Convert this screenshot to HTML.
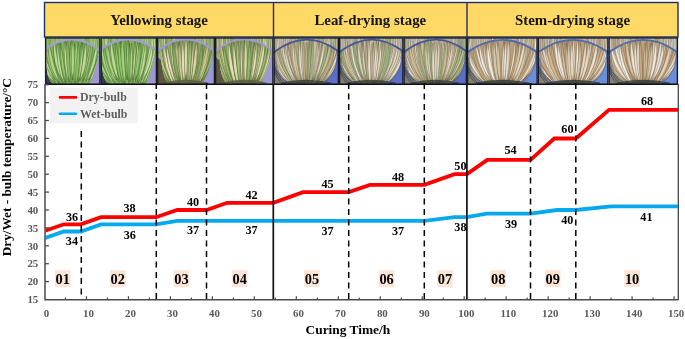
<!DOCTYPE html>
<html><head><meta charset="utf-8"><style>
html,body{margin:0;padding:0;background:#fff;width:685px;height:339px;overflow:hidden;font-family:"Liberation Serif",serif;}
svg{display:block;will-change:transform}
</style></head><body>
<svg width="685" height="339" viewBox="0 0 685 339"><defs><clipPath id="c0"><rect x="45" y="37.5" width="55.5" height="47.0"/></clipPath><clipPath id="b0"><path d="M46.1,48.8 Q72.8,29.5 98.8,49.7 Q96.1,70.4 89.4,84.5 L54.4,84.5 Q45.0,82.2 46.1,48.8 Z"/></clipPath><clipPath id="c1"><rect x="100.5" y="37.5" width="56.5" height="47.0"/></clipPath><clipPath id="b1"><path d="M101.6,48.8 Q128.8,29.5 155.3,49.7 Q152.5,70.4 145.7,84.5 L110.1,84.5 Q100.5,82.2 101.6,48.8 Z"/></clipPath><clipPath id="c2"><rect x="157" y="37.5" width="58" height="47.0"/></clipPath><clipPath id="b2"><path d="M160.5,48.8 Q186.0,29.0 213.3,50.2 Q210.9,68.0 202.2,84.5 L168.6,84.5 Q161.6,77.4 160.5,48.8 Z"/></clipPath><clipPath id="c3"><rect x="215" y="37.5" width="58.5" height="47.0"/></clipPath><clipPath id="b3"><path d="M218.5,48.8 Q244.2,29.0 271.7,50.2 Q269.4,68.0 260.6,84.5 L226.7,84.5 Q219.7,77.4 218.5,48.8 Z"/></clipPath><clipPath id="c4"><rect x="273.5" y="37.5" width="65.5" height="47.0"/></clipPath><clipPath id="b4"><path d="M275.5,51.1 Q306.2,28.6 337.0,50.2 Q339.0,74.2 320.7,84.5 L290.5,84.5 Q274.8,77.4 275.5,51.1 Z"/></clipPath><clipPath id="c5"><rect x="339" y="37.5" width="64.5" height="47.0"/></clipPath><clipPath id="b5"><path d="M340.9,51.1 Q371.2,28.6 401.6,50.2 Q403.5,74.2 385.4,84.5 L355.8,84.5 Q340.3,77.4 340.9,51.1 Z"/></clipPath><clipPath id="c6"><rect x="403.5" y="37.5" width="63.5" height="47.0"/></clipPath><clipPath id="b6"><path d="M405.4,51.1 Q435.2,28.6 465.1,50.2 Q467.0,74.2 449.2,84.5 L420.0,84.5 Q404.8,77.4 405.4,51.1 Z"/></clipPath><clipPath id="c7"><rect x="467" y="37.5" width="70.70000000000005" height="47.0"/></clipPath><clipPath id="b7"><path d="M469.1,51.1 Q502.4,28.6 535.6,51.1 Q537.7,74.2 517.9,84.5 L485.4,84.5 Q468.4,77.4 469.1,51.1 Z"/></clipPath><clipPath id="c8"><rect x="537.7" y="37.5" width="70.79999999999995" height="47.0"/></clipPath><clipPath id="b8"><path d="M539.8,51.1 Q573.1,28.6 606.4,51.1 Q608.5,74.2 588.7,84.5 L556.1,84.5 Q539.1,77.4 539.8,51.1 Z"/></clipPath><clipPath id="c9"><rect x="608.5" y="37.5" width="69.5" height="47.0"/></clipPath><clipPath id="b9"><path d="M610.6,51.1 Q643.2,28.6 675.9,51.1 Q678.0,74.2 658.5,84.5 L626.6,84.5 Q609.9,77.4 610.6,51.1 Z"/></clipPath><clipPath id="plot"><rect x="45.5" y="84" width="632.5" height="216"/></clipPath></defs><rect width="685" height="339" fill="#fff"/><rect x="44.5" y="2.5" width="633.5" height="34.5" fill="#FFD966" stroke="#1F3060" stroke-width="1.4"/>
<line x1="273.5" y1="2.5" x2="273.5" y2="37" stroke="#1F3060" stroke-width="1.4"/>
<line x1="467" y1="2.5" x2="467" y2="37" stroke="#1F3060" stroke-width="1.4"/>
<text x="159" y="24.7" font-family="Liberation Serif" font-weight="bold" font-size="14.85" text-anchor="middle" fill="#141414">Yellowing stage</text>
<text x="370.3" y="24.7" font-family="Liberation Serif" font-weight="bold" font-size="14.85" text-anchor="middle" fill="#141414">Leaf-drying stage</text>
<text x="572.5" y="24.7" font-family="Liberation Serif" font-weight="bold" font-size="14.85" text-anchor="middle" fill="#141414">Stem-drying stage</text>
<g clip-path="url(#c0)">
<rect x="45" y="37.5" width="55.5" height="47.0" fill="#A4C67E"/>
<path d="M45.7,33.5 Q43.1,45.7 44.3,53.5 Q47.1,46.0 45.7,33.5 Z" fill="#BCDC94" stroke="#2E5A1E" stroke-width="0.5" stroke-opacity="0.55"/>
<path d="M47.4,33.5 Q45.7,45.9 47.7,53.5 Q50.3,45.9 47.4,33.5 Z" fill="#98C670" stroke="#2E5A1E" stroke-width="0.5" stroke-opacity="0.55"/>
<path d="M50.4,33.5 Q49.3,45.8 48.6,53.5 Q51.9,46.1 50.4,33.5 Z" fill="#90BE66" stroke="#2E5A1E" stroke-width="0.5" stroke-opacity="0.55"/>
<path d="M52.8,33.5 Q51.1,46.1 54.6,53.5 Q55.0,45.7 52.8,33.5 Z" fill="#A8D080" stroke="#2E5A1E" stroke-width="0.5" stroke-opacity="0.55"/>
<path d="M54.7,33.5 Q54.0,46.0 56.6,53.5 Q56.5,45.8 54.7,33.5 Z" fill="#C6E09E" stroke="#2E5A1E" stroke-width="0.5" stroke-opacity="0.55"/>
<path d="M56.3,33.5 Q55.0,45.8 54.8,53.5 Q58.1,46.1 56.3,33.5 Z" fill="#C6E09E" stroke="#2E5A1E" stroke-width="0.5" stroke-opacity="0.55"/>
<path d="M59.5,33.5 Q57.9,45.8 58.2,53.5 Q60.5,46.0 59.5,33.5 Z" fill="#BCDC94" stroke="#2E5A1E" stroke-width="0.5" stroke-opacity="0.55"/>
<path d="M61.8,33.5 Q60.0,45.9 61.7,53.5 Q63.6,45.9 61.8,33.5 Z" fill="#CEE0A4" stroke="#2E5A1E" stroke-width="0.5" stroke-opacity="0.55"/>
<path d="M64.6,33.5 Q62.8,45.9 64.1,53.5 Q65.8,45.9 64.6,33.5 Z" fill="#C6E09E" stroke="#2E5A1E" stroke-width="0.5" stroke-opacity="0.55"/>
<path d="M65.3,33.5 Q63.3,45.9 65.6,53.5 Q66.9,45.9 65.3,33.5 Z" fill="#CEE0A4" stroke="#2E5A1E" stroke-width="0.5" stroke-opacity="0.55"/>
<path d="M67.6,33.5 Q67.0,46.0 69.6,53.5 Q69.7,45.7 67.6,33.5 Z" fill="#90BE66" stroke="#2E5A1E" stroke-width="0.5" stroke-opacity="0.55"/>
<path d="M70.0,33.5 Q68.2,46.1 71.7,53.5 Q71.6,45.8 70.0,33.5 Z" fill="#BCDC94" stroke="#2E5A1E" stroke-width="0.5" stroke-opacity="0.55"/>
<path d="M72.7,33.5 Q71.2,46.0 74.2,53.5 Q74.3,45.8 72.7,33.5 Z" fill="#CEE0A4" stroke="#2E5A1E" stroke-width="0.5" stroke-opacity="0.55"/>
<path d="M74.9,33.5 Q72.7,45.9 74.7,53.5 Q77.1,45.9 74.9,33.5 Z" fill="#B2D488" stroke="#2E5A1E" stroke-width="0.5" stroke-opacity="0.55"/>
<path d="M77.3,33.5 Q75.2,45.7 75.5,53.5 Q79.3,46.1 77.3,33.5 Z" fill="#C4DA98" stroke="#2E5A1E" stroke-width="0.5" stroke-opacity="0.55"/>
<path d="M78.8,33.5 Q77.9,45.9 79.5,53.5 Q80.3,45.9 78.8,33.5 Z" fill="#C4DA98" stroke="#2E5A1E" stroke-width="0.5" stroke-opacity="0.55"/>
<path d="M81.5,33.5 Q80.5,45.9 81.5,53.5 Q83.4,45.9 81.5,33.5 Z" fill="#B2D488" stroke="#2E5A1E" stroke-width="0.5" stroke-opacity="0.55"/>
<path d="M82.9,33.5 Q81.0,45.9 82.5,53.5 Q85.5,46.0 82.9,33.5 Z" fill="#BCDC94" stroke="#2E5A1E" stroke-width="0.5" stroke-opacity="0.55"/>
<path d="M85.5,33.5 Q83.6,45.8 84.6,53.5 Q86.3,45.9 85.5,33.5 Z" fill="#90BE66" stroke="#2E5A1E" stroke-width="0.5" stroke-opacity="0.55"/>
<path d="M87.4,33.5 Q85.2,45.9 87.1,53.5 Q88.4,45.9 87.4,33.5 Z" fill="#90BE66" stroke="#2E5A1E" stroke-width="0.5" stroke-opacity="0.55"/>
<path d="M89.3,33.5 Q88.2,45.8 88.0,53.5 Q91.2,46.0 89.3,33.5 Z" fill="#98C670" stroke="#2E5A1E" stroke-width="0.5" stroke-opacity="0.55"/>
<path d="M93.0,33.5 Q91.4,45.8 91.8,53.5 Q94.5,46.0 93.0,33.5 Z" fill="#C6E09E" stroke="#2E5A1E" stroke-width="0.5" stroke-opacity="0.55"/>
<path d="M94.2,33.5 Q92.0,45.9 94.5,53.5 Q96.6,45.9 94.2,33.5 Z" fill="#A8D080" stroke="#2E5A1E" stroke-width="0.5" stroke-opacity="0.55"/>
<path d="M97.5,33.5 Q95.9,46.1 99.3,53.5 Q99.9,45.7 97.5,33.5 Z" fill="#90BE66" stroke="#2E5A1E" stroke-width="0.5" stroke-opacity="0.55"/>
<path d="M98.7,33.5 Q97.5,45.9 98.6,53.5 Q100.9,45.9 98.7,33.5 Z" fill="#98C670" stroke="#2E5A1E" stroke-width="0.5" stroke-opacity="0.55"/>
<path d="M45.0,56.3 L72.8,84.5 L45.0,84.5 Z" fill="#343A4C"/>
<path d="M100.5,51.6 L100.5,84.5 L72.8,84.5 Z" fill="#9E98D0"/>
<path d="M46.1,48.8 Q72.8,29.5 98.8,49.7 Q96.1,70.4 89.4,84.5 L54.4,84.5 Q45.0,82.2 46.1,48.8 Z" fill="#84AE5A"/>
<g clip-path="url(#b0)">
<path d="M32.0,36.8 Q32.7,65.9 51.4,82.2 Q36.9,64.1 32.0,36.8 Z" fill="#A8D080" stroke="#2E5A1E" stroke-width="0.5" stroke-opacity="0.75"/>
<path d="M37.2,43.1 Q37.6,69.7 54.9,84.4 Q41.9,67.9 37.2,43.1 Z" fill="#98C670" stroke="#2E5A1E" stroke-width="0.5" stroke-opacity="0.75"/>
<path d="M39.6,37.5 Q39.9,66.0 55.4,82.3 Q45.0,64.2 39.6,37.5 Z" fill="#BCDC94" stroke="#2E5A1E" stroke-width="0.5" stroke-opacity="0.75"/>
<path d="M45.0,43.3 Q44.9,68.8 58.5,83.3 Q49.9,67.1 45.0,43.3 Z" fill="#C6E09E" stroke="#2E5A1E" stroke-width="0.5" stroke-opacity="0.75"/>
<path d="M48.3,37.6 Q48.2,68.2 61.0,86.1 Q52.9,67.0 48.3,37.6 Z" fill="#A8D080" stroke="#2E5A1E" stroke-width="0.5" stroke-opacity="0.75"/>
<path d="M54.7,38.4 Q52.1,68.1 63.8,85.0 Q58.9,66.7 54.7,38.4 Z" fill="#B2D488" stroke="#2E5A1E" stroke-width="0.5" stroke-opacity="0.75"/>
<path d="M58.3,41.1 Q56.8,66.6 65.1,81.6 Q62.2,65.7 58.3,41.1 Z" fill="#C6E09E" stroke="#2E5A1E" stroke-width="0.5" stroke-opacity="0.75"/>
<path d="M59.8,39.8 Q57.3,67.4 66.1,83.5 Q63.4,66.5 59.8,39.8 Z" fill="#98C670" stroke="#2E5A1E" stroke-width="0.5" stroke-opacity="0.75"/>
<path d="M66.1,41.4 Q63.4,66.4 69.2,81.3 Q69.2,65.9 66.1,41.4 Z" fill="#CEE0A4" stroke="#2E5A1E" stroke-width="0.5" stroke-opacity="0.75"/>
<path d="M70.7,41.8 Q68.5,67.6 71.7,83.3 Q73.4,67.5 70.7,41.8 Z" fill="#CEE0A4" stroke="#2E5A1E" stroke-width="0.5" stroke-opacity="0.75"/>
<path d="M74.5,43.4 Q72.1,70.5 73.6,87.1 Q77.5,70.6 74.5,43.4 Z" fill="#98C670" stroke="#2E5A1E" stroke-width="0.5" stroke-opacity="0.75"/>
<path d="M76.6,38.2 Q72.8,66.1 74.7,83.4 Q79.9,66.4 76.6,38.2 Z" fill="#A8D080" stroke="#2E5A1E" stroke-width="0.5" stroke-opacity="0.75"/>
<path d="M81.3,41.9 Q77.3,65.3 77.5,80.2 Q83.5,65.9 81.3,41.9 Z" fill="#90BE66" stroke="#2E5A1E" stroke-width="0.5" stroke-opacity="0.75"/>
<path d="M85.6,39.3 Q82.0,64.7 79.7,80.9 Q88.5,65.7 85.6,39.3 Z" fill="#CEE0A4" stroke="#2E5A1E" stroke-width="0.5" stroke-opacity="0.75"/>
<path d="M90.4,41.3 Q85.7,66.6 81.8,83.2 Q92.0,67.9 90.4,41.3 Z" fill="#BCDC94" stroke="#2E5A1E" stroke-width="0.5" stroke-opacity="0.75"/>
<path d="M91.3,36.5 Q86.4,63.2 82.7,80.7 Q93.3,64.5 91.3,36.5 Z" fill="#C6E09E" stroke="#2E5A1E" stroke-width="0.5" stroke-opacity="0.75"/>
<path d="M96.9,39.3 Q93.2,68.4 84.2,87.0 Q97.9,69.6 96.9,39.3 Z" fill="#C6E09E" stroke="#2E5A1E" stroke-width="0.5" stroke-opacity="0.75"/>
<path d="M101.7,41.3 Q96.7,64.5 88.6,80.3 Q102.9,66.6 101.7,41.3 Z" fill="#C6E09E" stroke="#2E5A1E" stroke-width="0.5" stroke-opacity="0.75"/>
<path d="M105.9,42.1 Q101.3,65.4 90.6,81.2 Q106.0,67.3 105.9,42.1 Z" fill="#B2D488" stroke="#2E5A1E" stroke-width="0.5" stroke-opacity="0.75"/>
<path d="M109.5,38.1 Q103.2,65.1 91.4,83.9 Q109.4,67.5 109.5,38.1 Z" fill="#A8D080" stroke="#2E5A1E" stroke-width="0.5" stroke-opacity="0.75"/>
<path d="M111.8,39.2 Q105.4,65.5 92.4,84.2 Q111.7,68.3 111.8,39.2 Z" fill="#90BE66" stroke="#2E5A1E" stroke-width="0.5" stroke-opacity="0.75"/>
<path d="M33.9,36.5 Q33.6,65.1 51.8,80.7 Q39.0,63.0 33.9,36.5 Z" fill="#C4DA98" stroke="#2E5A1E" stroke-width="0.5" stroke-opacity="0.75"/>
<path d="M36.3,41.7 Q36.5,66.8 52.9,80.7 Q40.9,65.0 36.3,41.7 Z" fill="#BCDC94" stroke="#2E5A1E" stroke-width="0.5" stroke-opacity="0.75"/>
<path d="M38.6,39.6 Q37.6,68.4 55.4,83.9 Q43.8,66.1 38.6,39.6 Z" fill="#BCDC94" stroke="#2E5A1E" stroke-width="0.5" stroke-opacity="0.75"/>
<path d="M40.9,37.0 Q40.8,64.3 55.3,79.8 Q45.2,62.9 40.9,37.0 Z" fill="#C4DA98" stroke="#2E5A1E" stroke-width="0.5" stroke-opacity="0.75"/>
<path d="M46.4,42.8 Q45.1,68.7 59.1,83.0 Q51.0,66.9 46.4,42.8 Z" fill="#98C670" stroke="#2E5A1E" stroke-width="0.5" stroke-opacity="0.75"/>
<path d="M48.6,39.8 Q46.5,67.8 60.3,83.3 Q53.3,66.0 48.6,39.8 Z" fill="#B2D488" stroke="#2E5A1E" stroke-width="0.5" stroke-opacity="0.75"/>
<path d="M53.2,37.1 Q52.0,66.2 62.7,83.1 Q57.4,65.0 53.2,37.1 Z" fill="#90BE66" stroke="#2E5A1E" stroke-width="0.5" stroke-opacity="0.75"/>
<path d="M53.8,37.4 Q51.5,64.6 62.4,80.1 Q57.7,63.3 53.8,37.4 Z" fill="#BCDC94" stroke="#2E5A1E" stroke-width="0.5" stroke-opacity="0.75"/>
<path d="M57.2,41.2 Q55.5,68.8 65.0,84.8 Q60.2,67.9 57.2,41.2 Z" fill="#C6E09E" stroke="#2E5A1E" stroke-width="0.5" stroke-opacity="0.75"/>
<path d="M60.6,43.1 Q59.1,68.0 66.4,82.7 Q64.8,67.2 60.6,43.1 Z" fill="#98C670" stroke="#2E5A1E" stroke-width="0.5" stroke-opacity="0.75"/>
<path d="M64.5,39.6 Q63.1,66.2 68.4,82.2 Q68.1,65.8 64.5,39.6 Z" fill="#CEE0A4" stroke="#2E5A1E" stroke-width="0.5" stroke-opacity="0.75"/>
<path d="M67.5,38.2 Q64.9,66.3 70.1,83.2 Q71.3,65.9 67.5,38.2 Z" fill="#90BE66" stroke="#2E5A1E" stroke-width="0.5" stroke-opacity="0.75"/>
<path d="M71.5,39.6 Q67.5,64.7 72.1,80.0 Q74.6,64.6 71.5,39.6 Z" fill="#98C670" stroke="#2E5A1E" stroke-width="0.5" stroke-opacity="0.75"/>
<path d="M73.1,37.6 Q69.5,63.8 72.9,79.8 Q76.0,63.8 73.1,37.6 Z" fill="#B2D488" stroke="#2E5A1E" stroke-width="0.5" stroke-opacity="0.75"/>
<path d="M78.6,42.3 Q75.0,68.5 75.6,84.9 Q82.1,69.0 78.6,42.3 Z" fill="#90BE66" stroke="#2E5A1E" stroke-width="0.5" stroke-opacity="0.75"/>
<path d="M82.1,40.1 Q78.7,67.7 77.4,85.1 Q83.3,68.2 82.1,40.1 Z" fill="#A8D080" stroke="#2E5A1E" stroke-width="0.5" stroke-opacity="0.75"/>
<path d="M82.9,42.7 Q79.7,66.5 78.2,81.7 Q84.1,67.1 82.9,42.7 Z" fill="#BCDC94" stroke="#2E5A1E" stroke-width="0.5" stroke-opacity="0.75"/>
<path d="M85.8,42.3 Q82.2,65.3 80.0,80.0 Q88.9,66.3 85.8,42.3 Z" fill="#C4DA98" stroke="#2E5A1E" stroke-width="0.5" stroke-opacity="0.75"/>
<path d="M91.9,38.8 Q87.4,68.0 81.9,86.8 Q93.4,69.2 91.9,38.8 Z" fill="#A8D080" stroke="#2E5A1E" stroke-width="0.5" stroke-opacity="0.75"/>
<path d="M92.7,36.4 Q88.6,63.3 83.5,80.8 Q93.1,64.3 92.7,36.4 Z" fill="#98C670" stroke="#2E5A1E" stroke-width="0.5" stroke-opacity="0.75"/>
<path d="M97.2,39.7 Q93.0,64.7 85.9,81.1 Q98.5,66.2 97.2,39.7 Z" fill="#C6E09E" stroke="#2E5A1E" stroke-width="0.5" stroke-opacity="0.75"/>
<path d="M100.9,43.5 Q96.9,65.3 88.5,79.8 Q101.2,66.7 100.9,43.5 Z" fill="#98C670" stroke="#2E5A1E" stroke-width="0.5" stroke-opacity="0.75"/>
<path d="M102.4,39.1 Q97.1,66.4 87.5,84.8 Q103.0,68.4 102.4,39.1 Z" fill="#C4DA98" stroke="#2E5A1E" stroke-width="0.5" stroke-opacity="0.75"/>
<path d="M107.6,43.3 Q103.0,66.4 91.3,82.0 Q107.6,68.3 107.6,43.3 Z" fill="#98C670" stroke="#2E5A1E" stroke-width="0.5" stroke-opacity="0.75"/>
<path d="M110.6,41.2 Q104.7,66.7 91.7,84.6 Q109.8,69.0 110.6,41.2 Z" fill="#CEE0A4" stroke="#2E5A1E" stroke-width="0.5" stroke-opacity="0.75"/>
<path d="M113.9,35.6 Q108.0,64.8 93.3,84.5 Q114.3,67.4 113.9,35.6 Z" fill="#90BE66" stroke="#2E5A1E" stroke-width="0.5" stroke-opacity="0.75"/>
</g>
<path d="M43.9,51.6 L46.1,48.8 Q72.8,29.5 98.8,49.7 L101.6,52.5" fill="none" stroke="#A49CD4" stroke-width="2.0"/>
</g>
<rect x="45.6" y="37.9" width="54.3" height="46.2" fill="none" stroke="#171B2A" stroke-width="1.4"/>
<g clip-path="url(#c1)">
<rect x="100.5" y="37.5" width="56.5" height="47.0" fill="#A4C67E"/>
<path d="M100.7,33.5 Q98.5,46.1 102.1,53.5 Q103.0,45.8 100.7,33.5 Z" fill="#B2D488" stroke="#2E5A1E" stroke-width="0.5" stroke-opacity="0.55"/>
<path d="M104.2,33.5 Q102.6,45.8 102.4,53.5 Q105.4,46.0 104.2,33.5 Z" fill="#B2D488" stroke="#2E5A1E" stroke-width="0.5" stroke-opacity="0.55"/>
<path d="M105.5,33.5 Q103.7,46.1 107.3,53.5 Q108.4,45.7 105.5,33.5 Z" fill="#CEE0A4" stroke="#2E5A1E" stroke-width="0.5" stroke-opacity="0.55"/>
<path d="M109.2,33.5 Q107.7,45.8 108.5,53.5 Q110.9,46.0 109.2,33.5 Z" fill="#A8D080" stroke="#2E5A1E" stroke-width="0.5" stroke-opacity="0.55"/>
<path d="M109.5,33.5 Q107.4,45.8 108.6,53.5 Q111.3,46.0 109.5,33.5 Z" fill="#98C670" stroke="#2E5A1E" stroke-width="0.5" stroke-opacity="0.55"/>
<path d="M111.5,33.5 Q110.0,45.8 110.6,53.5 Q112.6,46.0 111.5,33.5 Z" fill="#90BE66" stroke="#2E5A1E" stroke-width="0.5" stroke-opacity="0.55"/>
<path d="M114.6,33.5 Q112.4,45.8 113.8,53.5 Q116.3,46.0 114.6,33.5 Z" fill="#BCDC94" stroke="#2E5A1E" stroke-width="0.5" stroke-opacity="0.55"/>
<path d="M117.1,33.5 Q114.9,46.0 118.1,53.5 Q118.9,45.8 117.1,33.5 Z" fill="#90BE66" stroke="#2E5A1E" stroke-width="0.5" stroke-opacity="0.55"/>
<path d="M119.7,33.5 Q118.7,45.9 119.7,53.5 Q121.8,45.9 119.7,33.5 Z" fill="#C6E09E" stroke="#2E5A1E" stroke-width="0.5" stroke-opacity="0.55"/>
<path d="M122.1,33.5 Q119.9,46.1 123.7,53.5 Q123.8,45.8 122.1,33.5 Z" fill="#C6E09E" stroke="#2E5A1E" stroke-width="0.5" stroke-opacity="0.55"/>
<path d="M124.2,33.5 Q121.6,45.9 124.4,53.5 Q126.0,45.9 124.2,33.5 Z" fill="#A8D080" stroke="#2E5A1E" stroke-width="0.5" stroke-opacity="0.55"/>
<path d="M126.0,33.5 Q124.7,46.0 127.6,53.5 Q128.7,45.7 126.0,33.5 Z" fill="#98C670" stroke="#2E5A1E" stroke-width="0.5" stroke-opacity="0.55"/>
<path d="M127.0,33.5 Q124.3,46.0 127.5,53.5 Q129.0,45.8 127.0,33.5 Z" fill="#90BE66" stroke="#2E5A1E" stroke-width="0.5" stroke-opacity="0.55"/>
<path d="M130.3,33.5 Q128.5,45.9 130.8,53.5 Q132.4,45.8 130.3,33.5 Z" fill="#98C670" stroke="#2E5A1E" stroke-width="0.5" stroke-opacity="0.55"/>
<path d="M131.3,33.5 Q129.2,46.0 132.5,53.5 Q133.4,45.8 131.3,33.5 Z" fill="#BCDC94" stroke="#2E5A1E" stroke-width="0.5" stroke-opacity="0.55"/>
<path d="M133.6,33.5 Q131.9,46.0 134.6,53.5 Q134.9,45.8 133.6,33.5 Z" fill="#BCDC94" stroke="#2E5A1E" stroke-width="0.5" stroke-opacity="0.55"/>
<path d="M136.2,33.5 Q134.9,46.0 137.2,53.5 Q137.9,45.8 136.2,33.5 Z" fill="#C4DA98" stroke="#2E5A1E" stroke-width="0.5" stroke-opacity="0.55"/>
<path d="M138.7,33.5 Q136.6,45.9 138.7,53.5 Q140.6,45.9 138.7,33.5 Z" fill="#A8D080" stroke="#2E5A1E" stroke-width="0.5" stroke-opacity="0.55"/>
<path d="M141.5,33.5 Q139.7,45.8 139.8,53.5 Q142.5,46.0 141.5,33.5 Z" fill="#B2D488" stroke="#2E5A1E" stroke-width="0.5" stroke-opacity="0.55"/>
<path d="M143.8,33.5 Q143.1,45.9 144.3,53.5 Q145.8,45.9 143.8,33.5 Z" fill="#C4DA98" stroke="#2E5A1E" stroke-width="0.5" stroke-opacity="0.55"/>
<path d="M145.1,33.5 Q143.4,46.0 145.8,53.5 Q147.5,45.8 145.1,33.5 Z" fill="#C4DA98" stroke="#2E5A1E" stroke-width="0.5" stroke-opacity="0.55"/>
<path d="M147.8,33.5 Q145.5,45.9 147.7,53.5 Q149.0,45.9 147.8,33.5 Z" fill="#BCDC94" stroke="#2E5A1E" stroke-width="0.5" stroke-opacity="0.55"/>
<path d="M150.1,33.5 Q149.3,45.9 149.4,53.5 Q151.9,46.0 150.1,33.5 Z" fill="#C4DA98" stroke="#2E5A1E" stroke-width="0.5" stroke-opacity="0.55"/>
<path d="M152.1,33.5 Q149.4,46.1 153.4,53.5 Q154.1,45.8 152.1,33.5 Z" fill="#C4DA98" stroke="#2E5A1E" stroke-width="0.5" stroke-opacity="0.55"/>
<path d="M154.2,33.5 Q152.0,46.1 155.8,53.5 Q156.6,45.7 154.2,33.5 Z" fill="#BCDC94" stroke="#2E5A1E" stroke-width="0.5" stroke-opacity="0.55"/>
<path d="M100.5,56.3 L128.8,84.5 L100.5,84.5 Z" fill="#343A4C"/>
<path d="M157.0,51.6 L157.0,84.5 L128.8,84.5 Z" fill="#9E98D0"/>
<path d="M101.6,48.8 Q128.8,29.5 155.3,49.7 Q152.5,70.4 145.7,84.5 L110.1,84.5 Q100.5,82.2 101.6,48.8 Z" fill="#84AE5A"/>
<g clip-path="url(#b1)">
<path d="M86.9,39.7 Q87.7,70.3 109.1,87.1 Q92.0,68.3 86.9,39.7 Z" fill="#B2D488" stroke="#2E5A1E" stroke-width="0.5" stroke-opacity="0.75"/>
<path d="M92.9,37.4 Q93.4,68.8 111.7,86.7 Q98.8,66.8 92.9,37.4 Z" fill="#A8D080" stroke="#2E5A1E" stroke-width="0.5" stroke-opacity="0.75"/>
<path d="M97.7,41.0 Q97.1,67.9 112.6,82.7 Q103.2,65.7 97.7,41.0 Z" fill="#90BE66" stroke="#2E5A1E" stroke-width="0.5" stroke-opacity="0.75"/>
<path d="M99.1,42.2 Q98.5,66.3 112.2,79.5 Q104.6,64.1 99.1,42.2 Z" fill="#90BE66" stroke="#2E5A1E" stroke-width="0.5" stroke-opacity="0.75"/>
<path d="M105.4,41.2 Q105.2,70.0 117.6,86.7 Q110.2,68.6 105.4,41.2 Z" fill="#CEE0A4" stroke="#2E5A1E" stroke-width="0.5" stroke-opacity="0.75"/>
<path d="M107.1,42.5 Q104.8,66.8 116.8,80.1 Q111.6,65.0 107.1,42.5 Z" fill="#B2D488" stroke="#2E5A1E" stroke-width="0.5" stroke-opacity="0.75"/>
<path d="M110.6,35.9 Q109.2,66.7 119.7,84.8 Q115.3,65.6 110.6,35.9 Z" fill="#C6E09E" stroke="#2E5A1E" stroke-width="0.5" stroke-opacity="0.75"/>
<path d="M114.4,39.6 Q112.2,65.8 121.0,81.0 Q117.6,64.9 114.4,39.6 Z" fill="#90BE66" stroke="#2E5A1E" stroke-width="0.5" stroke-opacity="0.75"/>
<path d="M120.3,40.5 Q117.2,69.6 124.8,86.8 Q124.2,68.9 120.3,40.5 Z" fill="#98C670" stroke="#2E5A1E" stroke-width="0.5" stroke-opacity="0.75"/>
<path d="M121.2,41.4 Q118.6,67.5 124.9,83.1 Q125.0,67.0 121.2,41.4 Z" fill="#B2D488" stroke="#2E5A1E" stroke-width="0.5" stroke-opacity="0.75"/>
<path d="M128.4,39.9 Q125.9,65.3 128.6,80.9 Q131.5,65.3 128.4,39.9 Z" fill="#B2D488" stroke="#2E5A1E" stroke-width="0.5" stroke-opacity="0.75"/>
<path d="M131.6,43.3 Q128.3,66.9 130.3,81.6 Q134.5,67.1 131.6,43.3 Z" fill="#B2D488" stroke="#2E5A1E" stroke-width="0.5" stroke-opacity="0.75"/>
<path d="M135.2,36.5 Q132.3,66.2 132.0,84.6 Q136.9,66.5 135.2,36.5 Z" fill="#C4DA98" stroke="#2E5A1E" stroke-width="0.5" stroke-opacity="0.75"/>
<path d="M138.2,38.2 Q135.0,67.3 133.4,85.6 Q140.6,67.9 138.2,38.2 Z" fill="#98C670" stroke="#2E5A1E" stroke-width="0.5" stroke-opacity="0.75"/>
<path d="M141.0,39.9 Q137.0,65.6 135.2,82.1 Q142.3,66.4 141.0,39.9 Z" fill="#98C670" stroke="#2E5A1E" stroke-width="0.5" stroke-opacity="0.75"/>
<path d="M147.0,38.8 Q143.1,65.6 138.2,82.8 Q148.9,66.7 147.0,38.8 Z" fill="#90BE66" stroke="#2E5A1E" stroke-width="0.5" stroke-opacity="0.75"/>
<path d="M150.9,39.5 Q147.1,66.6 139.9,84.1 Q152.4,67.9 150.9,39.5 Z" fill="#98C670" stroke="#2E5A1E" stroke-width="0.5" stroke-opacity="0.75"/>
<path d="M155.3,38.6 Q150.2,66.3 142.0,84.7 Q155.6,67.8 155.3,38.6 Z" fill="#B2D488" stroke="#2E5A1E" stroke-width="0.5" stroke-opacity="0.75"/>
<path d="M159.1,35.7 Q153.4,61.9 145.4,79.8 Q159.5,63.8 159.1,35.7 Z" fill="#C4DA98" stroke="#2E5A1E" stroke-width="0.5" stroke-opacity="0.75"/>
<path d="M161.5,36.1 Q155.0,66.3 144.3,86.9 Q161.7,68.6 161.5,36.1 Z" fill="#C4DA98" stroke="#2E5A1E" stroke-width="0.5" stroke-opacity="0.75"/>
<path d="M164.4,36.4 Q158.7,62.7 148.0,80.7 Q164.2,64.7 164.4,36.4 Z" fill="#BCDC94" stroke="#2E5A1E" stroke-width="0.5" stroke-opacity="0.75"/>
<path d="M170.1,40.7 Q164.8,67.6 148.9,85.6 Q170.0,70.0 170.1,40.7 Z" fill="#A8D080" stroke="#2E5A1E" stroke-width="0.5" stroke-opacity="0.75"/>
<path d="M86.8,40.1 Q86.6,66.1 105.5,79.8 Q92.4,63.4 86.8,40.1 Z" fill="#C6E09E" stroke="#2E5A1E" stroke-width="0.5" stroke-opacity="0.75"/>
<path d="M91.4,39.0 Q92.0,68.8 110.5,85.6 Q96.4,67.0 91.4,39.0 Z" fill="#B2D488" stroke="#2E5A1E" stroke-width="0.5" stroke-opacity="0.75"/>
<path d="M94.8,38.6 Q94.3,66.1 110.6,81.3 Q100.0,64.0 94.8,38.6 Z" fill="#A8D080" stroke="#2E5A1E" stroke-width="0.5" stroke-opacity="0.75"/>
<path d="M99.4,37.7 Q98.3,66.2 113.3,82.0 Q104.7,64.2 99.4,37.7 Z" fill="#98C670" stroke="#2E5A1E" stroke-width="0.5" stroke-opacity="0.75"/>
<path d="M100.2,37.5 Q99.9,69.1 115.3,87.2 Q106.0,67.2 100.2,37.5 Z" fill="#B2D488" stroke="#2E5A1E" stroke-width="0.5" stroke-opacity="0.75"/>
<path d="M103.3,42.6 Q102.8,69.4 116.1,84.7 Q107.2,68.1 103.3,42.6 Z" fill="#98C670" stroke="#2E5A1E" stroke-width="0.5" stroke-opacity="0.75"/>
<path d="M108.9,37.3 Q107.8,64.2 117.9,79.8 Q113.1,63.1 108.9,37.3 Z" fill="#90BE66" stroke="#2E5A1E" stroke-width="0.5" stroke-opacity="0.75"/>
<path d="M110.5,35.6 Q108.8,64.8 119.1,81.8 Q115.5,63.6 110.5,35.6 Z" fill="#BCDC94" stroke="#2E5A1E" stroke-width="0.5" stroke-opacity="0.75"/>
<path d="M115.6,38.0 Q114.4,68.1 122.4,86.1 Q119.4,67.4 115.6,38.0 Z" fill="#98C670" stroke="#2E5A1E" stroke-width="0.5" stroke-opacity="0.75"/>
<path d="M118.6,36.4 Q116.4,66.5 123.7,84.5 Q122.4,65.9 118.6,36.4 Z" fill="#98C670" stroke="#2E5A1E" stroke-width="0.5" stroke-opacity="0.75"/>
<path d="M121.9,36.0 Q119.3,66.1 125.3,84.3 Q126.3,65.6 121.9,36.0 Z" fill="#A8D080" stroke="#2E5A1E" stroke-width="0.5" stroke-opacity="0.75"/>
<path d="M125.4,36.6 Q123.4,63.5 126.9,79.9 Q128.0,63.4 125.4,36.6 Z" fill="#90BE66" stroke="#2E5A1E" stroke-width="0.5" stroke-opacity="0.75"/>
<path d="M127.8,38.0 Q125.8,64.3 128.2,80.4 Q130.4,64.3 127.8,38.0 Z" fill="#C6E09E" stroke="#2E5A1E" stroke-width="0.5" stroke-opacity="0.75"/>
<path d="M129.4,43.0 Q126.7,69.3 129.0,85.5 Q131.1,69.3 129.4,43.0 Z" fill="#90BE66" stroke="#2E5A1E" stroke-width="0.5" stroke-opacity="0.75"/>
<path d="M135.2,39.0 Q132.7,64.5 132.3,80.4 Q137.3,64.8 135.2,39.0 Z" fill="#BCDC94" stroke="#2E5A1E" stroke-width="0.5" stroke-opacity="0.75"/>
<path d="M138.4,36.5 Q134.8,67.7 133.3,87.2 Q139.8,68.2 138.4,36.5 Z" fill="#CEE0A4" stroke="#2E5A1E" stroke-width="0.5" stroke-opacity="0.75"/>
<path d="M139.5,41.9 Q135.8,65.3 134.7,80.2 Q142.1,66.1 139.5,41.9 Z" fill="#98C670" stroke="#2E5A1E" stroke-width="0.5" stroke-opacity="0.75"/>
<path d="M144.8,37.0 Q140.1,64.6 137.1,82.4 Q146.9,65.7 144.8,37.0 Z" fill="#A8D080" stroke="#2E5A1E" stroke-width="0.5" stroke-opacity="0.75"/>
<path d="M145.9,40.5 Q142.5,66.3 137.6,82.7 Q147.8,67.3 145.9,40.5 Z" fill="#C4DA98" stroke="#2E5A1E" stroke-width="0.5" stroke-opacity="0.75"/>
<path d="M151.3,37.6 Q146.4,66.5 139.8,85.5 Q153.1,68.1 151.3,37.6 Z" fill="#CEE0A4" stroke="#2E5A1E" stroke-width="0.5" stroke-opacity="0.75"/>
<path d="M152.7,43.1 Q147.5,64.9 142.0,79.8 Q153.7,66.7 152.7,43.1 Z" fill="#CEE0A4" stroke="#2E5A1E" stroke-width="0.5" stroke-opacity="0.75"/>
<path d="M155.8,41.3 Q151.1,67.1 142.3,84.3 Q157.5,69.1 155.8,41.3 Z" fill="#BCDC94" stroke="#2E5A1E" stroke-width="0.5" stroke-opacity="0.75"/>
<path d="M158.8,39.3 Q152.8,67.7 142.9,87.2 Q159.5,70.0 158.8,39.3 Z" fill="#90BE66" stroke="#2E5A1E" stroke-width="0.5" stroke-opacity="0.75"/>
<path d="M164.3,42.0 Q158.9,64.7 148.2,80.6 Q164.2,66.9 164.3,42.0 Z" fill="#A8D080" stroke="#2E5A1E" stroke-width="0.5" stroke-opacity="0.75"/>
<path d="M167.0,42.1 Q160.9,67.7 147.3,85.7 Q166.4,70.2 167.0,42.1 Z" fill="#CEE0A4" stroke="#2E5A1E" stroke-width="0.5" stroke-opacity="0.75"/>
<path d="M169.4,41.8 Q163.4,66.7 149.2,84.3 Q168.7,69.2 169.4,41.8 Z" fill="#90BE66" stroke="#2E5A1E" stroke-width="0.5" stroke-opacity="0.75"/>
</g>
<path d="M99.4,51.6 L101.6,48.8 Q128.8,29.5 155.3,49.7 L158.1,52.5" fill="none" stroke="#A49CD4" stroke-width="2.0"/>
</g>
<rect x="101.1" y="37.9" width="55.3" height="46.2" fill="none" stroke="#171B2A" stroke-width="1.4"/>
<g clip-path="url(#c2)">
<rect x="157" y="37.5" width="58" height="47.0" fill="#A0B07C"/>
<path d="M157.5,33.5 Q156.5,45.8 155.8,53.5 Q158.9,46.0 157.5,33.5 Z" fill="#D0C894" stroke="#3E4E24" stroke-width="0.5" stroke-opacity="0.55"/>
<path d="M160.1,33.5 Q159.0,45.8 158.6,53.5 Q161.5,46.0 160.1,33.5 Z" fill="#DCD6A6" stroke="#3E4E24" stroke-width="0.5" stroke-opacity="0.55"/>
<path d="M162.3,33.5 Q160.6,46.1 164.3,53.5 Q165.3,45.6 162.3,33.5 Z" fill="#ACCA82" stroke="#3E4E24" stroke-width="0.5" stroke-opacity="0.55"/>
<path d="M164.5,33.5 Q162.2,46.0 165.0,53.5 Q166.3,45.9 164.5,33.5 Z" fill="#DCD6A6" stroke="#3E4E24" stroke-width="0.5" stroke-opacity="0.55"/>
<path d="M166.4,33.5 Q164.5,45.8 165.6,53.5 Q167.5,46.0 166.4,33.5 Z" fill="#84B060" stroke="#3E4E24" stroke-width="0.5" stroke-opacity="0.55"/>
<path d="M168.4,33.5 Q167.1,45.8 167.4,53.5 Q170.0,46.0 168.4,33.5 Z" fill="#ACCA82" stroke="#3E4E24" stroke-width="0.5" stroke-opacity="0.55"/>
<path d="M172.2,33.5 Q170.1,45.8 170.9,53.5 Q172.7,45.9 172.2,33.5 Z" fill="#84B060" stroke="#3E4E24" stroke-width="0.5" stroke-opacity="0.55"/>
<path d="M173.5,33.5 Q170.6,45.8 172.4,53.5 Q174.9,46.0 173.5,33.5 Z" fill="#E8E0B8" stroke="#3E4E24" stroke-width="0.5" stroke-opacity="0.55"/>
<path d="M174.8,33.5 Q172.1,45.9 174.7,53.5 Q176.5,45.9 174.8,33.5 Z" fill="#E8E0B8" stroke="#3E4E24" stroke-width="0.5" stroke-opacity="0.55"/>
<path d="M176.9,33.5 Q175.3,45.8 176.1,53.5 Q178.0,46.0 176.9,33.5 Z" fill="#E4DCB2" stroke="#3E4E24" stroke-width="0.5" stroke-opacity="0.55"/>
<path d="M180.8,33.5 Q179.4,45.8 179.6,53.5 Q182.0,46.0 180.8,33.5 Z" fill="#ACCA82" stroke="#3E4E24" stroke-width="0.5" stroke-opacity="0.55"/>
<path d="M181.8,33.5 Q179.4,46.0 182.9,53.5 Q184.1,45.8 181.8,33.5 Z" fill="#DCD6A6" stroke="#3E4E24" stroke-width="0.5" stroke-opacity="0.55"/>
<path d="M185.0,33.5 Q184.1,45.9 184.4,53.5 Q186.5,46.0 185.0,33.5 Z" fill="#D0C894" stroke="#3E4E24" stroke-width="0.5" stroke-opacity="0.55"/>
<path d="M186.0,33.5 Q183.6,45.8 185.1,53.5 Q187.4,46.0 186.0,33.5 Z" fill="#E4DCB2" stroke="#3E4E24" stroke-width="0.5" stroke-opacity="0.55"/>
<path d="M189.6,33.5 Q188.4,45.9 189.2,53.5 Q191.7,45.9 189.6,33.5 Z" fill="#84B060" stroke="#3E4E24" stroke-width="0.5" stroke-opacity="0.55"/>
<path d="M190.1,33.5 Q188.8,45.9 190.1,53.5 Q192.3,45.9 190.1,33.5 Z" fill="#C0CE8E" stroke="#3E4E24" stroke-width="0.5" stroke-opacity="0.55"/>
<path d="M193.1,33.5 Q190.9,45.9 193.3,53.5 Q194.9,45.9 193.1,33.5 Z" fill="#DCD6A6" stroke="#3E4E24" stroke-width="0.5" stroke-opacity="0.55"/>
<path d="M195.3,33.5 Q192.9,45.8 194.4,53.5 Q197.6,46.0 195.3,33.5 Z" fill="#84B060" stroke="#3E4E24" stroke-width="0.5" stroke-opacity="0.55"/>
<path d="M196.7,33.5 Q194.7,46.0 197.7,53.5 Q199.2,45.8 196.7,33.5 Z" fill="#C0CE8E" stroke="#3E4E24" stroke-width="0.5" stroke-opacity="0.55"/>
<path d="M200.7,33.5 Q199.5,46.0 202.7,53.5 Q202.8,45.7 200.7,33.5 Z" fill="#E4DCB2" stroke="#3E4E24" stroke-width="0.5" stroke-opacity="0.55"/>
<path d="M201.9,33.5 Q200.5,46.0 203.7,53.5 Q204.0,45.7 201.9,33.5 Z" fill="#ACCA82" stroke="#3E4E24" stroke-width="0.5" stroke-opacity="0.55"/>
<path d="M205.0,33.5 Q202.4,45.9 204.6,53.5 Q206.9,45.9 205.0,33.5 Z" fill="#E8E0B8" stroke="#3E4E24" stroke-width="0.5" stroke-opacity="0.55"/>
<path d="M205.7,33.5 Q204.5,45.8 203.9,53.5 Q207.3,46.1 205.7,33.5 Z" fill="#C0CE8E" stroke="#3E4E24" stroke-width="0.5" stroke-opacity="0.55"/>
<path d="M209.0,33.5 Q207.3,45.9 208.5,53.5 Q210.9,46.0 209.0,33.5 Z" fill="#ACCA82" stroke="#3E4E24" stroke-width="0.5" stroke-opacity="0.55"/>
<path d="M210.2,33.5 Q208.7,45.8 208.8,53.5 Q211.2,46.0 210.2,33.5 Z" fill="#C0CE8E" stroke="#3E4E24" stroke-width="0.5" stroke-opacity="0.55"/>
<path d="M213.8,33.5 Q212.2,46.1 215.6,53.5 Q215.1,45.8 213.8,33.5 Z" fill="#ACCA82" stroke="#3E4E24" stroke-width="0.5" stroke-opacity="0.55"/>
<path d="M157.0,56.3 L186.0,84.5 L157.0,84.5 Z" fill="#5E5640"/>
<path d="M215.0,51.6 L215.0,84.5 L186.0,84.5 Z" fill="#9C98D4"/>
<path d="M160.5,48.8 Q186.0,29.0 213.3,50.2 Q210.9,68.0 202.2,84.5 L168.6,84.5 Q161.6,77.4 160.5,48.8 Z" fill="#8EA468"/>
<g clip-path="url(#b2)">
<path d="M142.7,42.8 Q143.6,68.2 163.0,82.0 Q148.7,65.6 142.7,42.8 Z" fill="#C0CE8E" stroke="#3E4E24" stroke-width="0.5" stroke-opacity="0.7"/>
<path d="M148.7,41.0 Q148.8,70.5 168.3,86.6 Q154.2,68.2 148.7,41.0 Z" fill="#E4DCB2" stroke="#3E4E24" stroke-width="0.5" stroke-opacity="0.7"/>
<path d="M152.0,37.1 Q152.0,66.6 168.6,83.3 Q157.2,64.7 152.0,37.1 Z" fill="#90BC6A" stroke="#3E4E24" stroke-width="0.5" stroke-opacity="0.7"/>
<path d="M155.3,38.6 Q155.7,65.1 169.3,80.5 Q160.1,63.6 155.3,38.6 Z" fill="#E4DCB2" stroke="#3E4E24" stroke-width="0.5" stroke-opacity="0.7"/>
<path d="M159.0,41.6 Q157.9,66.2 171.0,79.8 Q164.0,64.3 159.0,41.6 Z" fill="#DCD6A6" stroke="#3E4E24" stroke-width="0.5" stroke-opacity="0.7"/>
<path d="M162.3,42.3 Q161.2,70.0 174.5,85.7 Q166.8,68.5 162.3,42.3 Z" fill="#84B060" stroke="#3E4E24" stroke-width="0.5" stroke-opacity="0.7"/>
<path d="M165.8,40.8 Q165.3,67.5 175.6,83.1 Q170.4,66.3 165.8,40.8 Z" fill="#90BC6A" stroke="#3E4E24" stroke-width="0.5" stroke-opacity="0.7"/>
<path d="M171.4,39.2 Q169.3,66.9 178.5,83.1 Q174.9,66.0 171.4,39.2 Z" fill="#E8E0B8" stroke="#3E4E24" stroke-width="0.5" stroke-opacity="0.7"/>
<path d="M174.4,38.7 Q173.2,64.6 179.7,80.0 Q178.2,64.0 174.4,38.7 Z" fill="#D0C894" stroke="#3E4E24" stroke-width="0.5" stroke-opacity="0.7"/>
<path d="M176.7,39.6 Q174.0,64.9 180.9,79.8 Q179.7,64.3 176.7,39.6 Z" fill="#DCD6A6" stroke="#3E4E24" stroke-width="0.5" stroke-opacity="0.7"/>
<path d="M179.9,41.3 Q177.1,65.6 182.6,80.1 Q183.2,65.2 179.9,41.3 Z" fill="#C0CE8E" stroke="#3E4E24" stroke-width="0.5" stroke-opacity="0.7"/>
<path d="M185.2,35.7 Q182.8,63.2 185.6,80.0 Q188.5,63.2 185.2,35.7 Z" fill="#DCD6A6" stroke="#3E4E24" stroke-width="0.5" stroke-opacity="0.7"/>
<path d="M189.6,39.4 Q185.8,68.9 187.7,87.2 Q192.3,69.1 189.6,39.4 Z" fill="#ACCA82" stroke="#3E4E24" stroke-width="0.5" stroke-opacity="0.7"/>
<path d="M192.2,37.3 Q189.3,67.4 189.0,86.2 Q195.0,67.8 192.2,37.3 Z" fill="#84B060" stroke="#3E4E24" stroke-width="0.5" stroke-opacity="0.7"/>
<path d="M196.5,37.7 Q193.8,67.5 191.1,86.0 Q198.2,67.9 196.5,37.7 Z" fill="#E8E0B8" stroke="#3E4E24" stroke-width="0.5" stroke-opacity="0.7"/>
<path d="M197.8,39.5 Q195.1,65.6 192.2,82.1 Q199.1,66.2 197.8,39.5 Z" fill="#ACCA82" stroke="#3E4E24" stroke-width="0.5" stroke-opacity="0.7"/>
<path d="M202.8,37.7 Q199.6,64.9 194.8,82.1 Q204.6,65.8 202.8,37.7 Z" fill="#84B060" stroke="#3E4E24" stroke-width="0.5" stroke-opacity="0.7"/>
<path d="M206.0,40.6 Q201.8,65.8 196.5,82.4 Q208.0,67.3 206.0,40.6 Z" fill="#DCD6A6" stroke="#3E4E24" stroke-width="0.5" stroke-opacity="0.7"/>
<path d="M209.7,42.4 Q204.9,68.2 197.6,85.4 Q209.7,69.6 209.7,42.4 Z" fill="#C0CE8E" stroke="#3E4E24" stroke-width="0.5" stroke-opacity="0.7"/>
<path d="M213.5,38.4 Q208.7,66.9 199.4,85.6 Q213.7,68.4 213.5,38.4 Z" fill="#ACCA82" stroke="#3E4E24" stroke-width="0.5" stroke-opacity="0.7"/>
<path d="M218.5,37.9 Q213.5,65.3 202.5,83.6 Q218.1,66.9 218.5,37.9 Z" fill="#D0C894" stroke="#3E4E24" stroke-width="0.5" stroke-opacity="0.7"/>
<path d="M221.3,37.3 Q216.1,63.9 204.7,81.8 Q221.5,65.9 221.3,37.3 Z" fill="#C0CE8E" stroke="#3E4E24" stroke-width="0.5" stroke-opacity="0.7"/>
<path d="M225.5,36.6 Q220.5,63.4 207.1,81.3 Q225.9,65.6 225.5,36.6 Z" fill="#90BC6A" stroke="#3E4E24" stroke-width="0.5" stroke-opacity="0.7"/>
<path d="M227.9,37.9 Q222.2,65.1 207.3,83.7 Q227.3,67.4 227.9,37.9 Z" fill="#C0CE8E" stroke="#3E4E24" stroke-width="0.5" stroke-opacity="0.7"/>
<path d="M144.3,37.1 Q145.5,67.3 165.1,84.5 Q150.4,65.2 144.3,37.1 Z" fill="#ACCA82" stroke="#3E4E24" stroke-width="0.5" stroke-opacity="0.7"/>
<path d="M147.9,41.2 Q148.3,68.2 166.3,83.1 Q152.2,66.5 147.9,41.2 Z" fill="#ACCA82" stroke="#3E4E24" stroke-width="0.5" stroke-opacity="0.7"/>
<path d="M150.8,38.7 Q151.3,66.1 167.3,81.6 Q155.1,64.6 150.8,38.7 Z" fill="#D0C894" stroke="#3E4E24" stroke-width="0.5" stroke-opacity="0.7"/>
<path d="M153.2,40.3 Q152.7,68.3 169.3,83.6 Q157.7,66.4 153.2,40.3 Z" fill="#ACCA82" stroke="#3E4E24" stroke-width="0.5" stroke-opacity="0.7"/>
<path d="M154.6,39.8 Q154.2,67.3 169.7,82.7 Q158.6,65.8 154.6,39.8 Z" fill="#90BC6A" stroke="#3E4E24" stroke-width="0.5" stroke-opacity="0.7"/>
<path d="M157.8,40.4 Q158.1,68.5 172.0,84.8 Q162.5,67.1 157.8,40.4 Z" fill="#C0CE8E" stroke="#3E4E24" stroke-width="0.5" stroke-opacity="0.7"/>
<path d="M162.3,39.6 Q161.1,68.3 174.2,84.6 Q167.1,66.7 162.3,39.6 Z" fill="#ACCA82" stroke="#3E4E24" stroke-width="0.5" stroke-opacity="0.7"/>
<path d="M163.7,40.5 Q162.3,70.4 175.6,87.5 Q168.1,68.9 163.7,40.5 Z" fill="#E8E0B8" stroke="#3E4E24" stroke-width="0.5" stroke-opacity="0.7"/>
<path d="M166.5,42.3 Q165.8,69.6 176.5,85.5 Q171.0,68.4 166.5,42.3 Z" fill="#E8E0B8" stroke="#3E4E24" stroke-width="0.5" stroke-opacity="0.7"/>
<path d="M172.5,37.6 Q171.1,67.1 179.3,84.7 Q175.4,66.5 172.5,37.6 Z" fill="#84B060" stroke="#3E4E24" stroke-width="0.5" stroke-opacity="0.7"/>
<path d="M173.3,39.9 Q171.4,67.0 179.4,83.0 Q177.5,66.2 173.3,39.9 Z" fill="#84B060" stroke="#3E4E24" stroke-width="0.5" stroke-opacity="0.7"/>
<path d="M178.3,42.7 Q176.4,66.1 181.7,80.2 Q181.8,65.6 178.3,42.7 Z" fill="#ACCA82" stroke="#3E4E24" stroke-width="0.5" stroke-opacity="0.7"/>
<path d="M179.2,41.5 Q177.1,69.9 182.8,87.1 Q183.2,69.5 179.2,41.5 Z" fill="#D0C894" stroke="#3E4E24" stroke-width="0.5" stroke-opacity="0.7"/>
<path d="M182.7,40.3 Q179.7,66.6 184.3,82.5 Q186.1,66.4 182.7,40.3 Z" fill="#E8E0B8" stroke="#3E4E24" stroke-width="0.5" stroke-opacity="0.7"/>
<path d="M186.1,35.6 Q182.7,62.9 186.1,79.7 Q189.3,62.9 186.1,35.6 Z" fill="#E4DCB2" stroke="#3E4E24" stroke-width="0.5" stroke-opacity="0.7"/>
<path d="M188.4,37.2 Q186.6,66.5 187.2,84.5 Q190.8,66.6 188.4,37.2 Z" fill="#ACCA82" stroke="#3E4E24" stroke-width="0.5" stroke-opacity="0.7"/>
<path d="M190.6,36.4 Q187.5,67.6 188.2,86.9 Q192.5,67.8 190.6,36.4 Z" fill="#ACCA82" stroke="#3E4E24" stroke-width="0.5" stroke-opacity="0.7"/>
<path d="M193.6,36.6 Q190.7,66.2 189.8,84.6 Q194.8,66.5 193.6,36.6 Z" fill="#DCD6A6" stroke="#3E4E24" stroke-width="0.5" stroke-opacity="0.7"/>
<path d="M196.7,40.2 Q192.4,65.9 191.6,82.4 Q198.6,66.7 196.7,40.2 Z" fill="#DCD6A6" stroke="#3E4E24" stroke-width="0.5" stroke-opacity="0.7"/>
<path d="M201.8,41.2 Q198.8,66.5 194.2,82.6 Q203.4,67.3 201.8,41.2 Z" fill="#E4DCB2" stroke="#3E4E24" stroke-width="0.5" stroke-opacity="0.7"/>
<path d="M202.6,42.3 Q198.5,68.8 194.0,86.0 Q204.2,69.9 202.6,42.3 Z" fill="#84B060" stroke="#3E4E24" stroke-width="0.5" stroke-opacity="0.7"/>
<path d="M205.9,41.8 Q202.1,67.9 195.9,84.7 Q206.8,69.0 205.9,41.8 Z" fill="#D0C894" stroke="#3E4E24" stroke-width="0.5" stroke-opacity="0.7"/>
<path d="M208.6,37.6 Q203.6,64.1 197.9,81.8 Q209.4,65.5 208.6,37.6 Z" fill="#D0C894" stroke="#3E4E24" stroke-width="0.5" stroke-opacity="0.7"/>
<path d="M213.8,40.3 Q209.2,66.1 200.3,83.3 Q213.7,67.6 213.8,40.3 Z" fill="#90BC6A" stroke="#3E4E24" stroke-width="0.5" stroke-opacity="0.7"/>
<path d="M214.6,39.6 Q210.1,64.0 201.6,80.3 Q215.1,65.6 214.6,39.6 Z" fill="#90BC6A" stroke="#3E4E24" stroke-width="0.5" stroke-opacity="0.7"/>
<path d="M218.1,42.4 Q213.1,64.8 203.7,80.2 Q219.0,67.0 218.1,42.4 Z" fill="#ACCA82" stroke="#3E4E24" stroke-width="0.5" stroke-opacity="0.7"/>
<path d="M222.1,37.8 Q217.4,66.6 203.6,85.5 Q221.3,68.1 222.1,37.8 Z" fill="#D0C894" stroke="#3E4E24" stroke-width="0.5" stroke-opacity="0.7"/>
<path d="M225.0,41.9 Q219.3,64.8 207.1,81.0 Q224.2,67.0 225.0,41.9 Z" fill="#D0C894" stroke="#3E4E24" stroke-width="0.5" stroke-opacity="0.7"/>
<path d="M228.0,40.1 Q222.3,64.0 208.8,80.8 Q228.0,66.7 228.0,40.1 Z" fill="#E4DCB2" stroke="#3E4E24" stroke-width="0.5" stroke-opacity="0.7"/>
</g>
<path d="M164.0,82.6 Q186.0,77.0 208.0,82.6 L208.0,84.5 L164.0,84.5 Z" fill="#5A5840" opacity="0.8"/>
<path d="M155.8,51.6 L160.5,48.8 Q186.0,29.0 213.3,50.2 L216.2,53.0" fill="none" stroke="#A098D4" stroke-width="2.0"/>
</g>
<rect x="157.6" y="37.9" width="56.8" height="46.2" fill="none" stroke="#171B2A" stroke-width="1.4"/>
<g clip-path="url(#c3)">
<rect x="215" y="37.5" width="58.5" height="47.0" fill="#A0B07C"/>
<path d="M215.2,33.5 Q213.9,45.9 215.8,53.5 Q216.5,45.9 215.2,33.5 Z" fill="#DCD6A6" stroke="#3E4E24" stroke-width="0.5" stroke-opacity="0.55"/>
<path d="M218.0,33.5 Q216.3,45.9 217.6,53.5 Q219.7,45.9 218.0,33.5 Z" fill="#DCD6A6" stroke="#3E4E24" stroke-width="0.5" stroke-opacity="0.55"/>
<path d="M220.8,33.5 Q218.7,45.8 220.3,53.5 Q221.8,45.9 220.8,33.5 Z" fill="#C0CE8E" stroke="#3E4E24" stroke-width="0.5" stroke-opacity="0.55"/>
<path d="M222.7,33.5 Q219.8,45.8 222.2,53.5 Q224.4,45.9 222.7,33.5 Z" fill="#E4DCB2" stroke="#3E4E24" stroke-width="0.5" stroke-opacity="0.55"/>
<path d="M224.1,33.5 Q222.3,45.9 224.5,53.5 Q226.3,45.9 224.1,33.5 Z" fill="#90BC6A" stroke="#3E4E24" stroke-width="0.5" stroke-opacity="0.55"/>
<path d="M226.7,33.5 Q224.7,45.8 225.3,53.5 Q229.1,46.1 226.7,33.5 Z" fill="#D0C894" stroke="#3E4E24" stroke-width="0.5" stroke-opacity="0.55"/>
<path d="M229.2,33.5 Q227.6,46.0 230.3,53.5 Q231.4,45.8 229.2,33.5 Z" fill="#ACCA82" stroke="#3E4E24" stroke-width="0.5" stroke-opacity="0.55"/>
<path d="M231.8,33.5 Q230.4,46.0 232.6,53.5 Q234.0,45.8 231.8,33.5 Z" fill="#84B060" stroke="#3E4E24" stroke-width="0.5" stroke-opacity="0.55"/>
<path d="M234.1,33.5 Q232.4,46.0 235.5,53.5 Q235.2,45.8 234.1,33.5 Z" fill="#ACCA82" stroke="#3E4E24" stroke-width="0.5" stroke-opacity="0.55"/>
<path d="M236.4,33.5 Q235.0,45.9 236.8,53.5 Q238.3,45.9 236.4,33.5 Z" fill="#E4DCB2" stroke="#3E4E24" stroke-width="0.5" stroke-opacity="0.55"/>
<path d="M237.4,33.5 Q236.0,46.1 239.3,53.5 Q240.2,45.7 237.4,33.5 Z" fill="#DCD6A6" stroke="#3E4E24" stroke-width="0.5" stroke-opacity="0.55"/>
<path d="M240.6,33.5 Q238.7,45.8 239.4,53.5 Q241.5,46.0 240.6,33.5 Z" fill="#ACCA82" stroke="#3E4E24" stroke-width="0.5" stroke-opacity="0.55"/>
<path d="M243.0,33.5 Q241.8,45.9 242.8,53.5 Q244.7,45.9 243.0,33.5 Z" fill="#DCD6A6" stroke="#3E4E24" stroke-width="0.5" stroke-opacity="0.55"/>
<path d="M245.5,33.5 Q244.1,45.9 245.4,53.5 Q246.5,45.9 245.5,33.5 Z" fill="#C0CE8E" stroke="#3E4E24" stroke-width="0.5" stroke-opacity="0.55"/>
<path d="M246.9,33.5 Q245.5,45.9 247.4,53.5 Q249.0,45.8 246.9,33.5 Z" fill="#ACCA82" stroke="#3E4E24" stroke-width="0.5" stroke-opacity="0.55"/>
<path d="M249.6,33.5 Q247.6,45.7 247.6,53.5 Q250.6,46.0 249.6,33.5 Z" fill="#C0CE8E" stroke="#3E4E24" stroke-width="0.5" stroke-opacity="0.55"/>
<path d="M251.5,33.5 Q249.2,46.0 252.1,53.5 Q253.6,45.8 251.5,33.5 Z" fill="#E4DCB2" stroke="#3E4E24" stroke-width="0.5" stroke-opacity="0.55"/>
<path d="M253.8,33.5 Q251.7,45.9 253.6,53.5 Q254.9,45.9 253.8,33.5 Z" fill="#DCD6A6" stroke="#3E4E24" stroke-width="0.5" stroke-opacity="0.55"/>
<path d="M255.1,33.5 Q253.3,45.9 254.7,53.5 Q257.4,45.9 255.1,33.5 Z" fill="#ACCA82" stroke="#3E4E24" stroke-width="0.5" stroke-opacity="0.55"/>
<path d="M257.7,33.5 Q255.7,45.9 257.6,53.5 Q259.6,45.9 257.7,33.5 Z" fill="#C0CE8E" stroke="#3E4E24" stroke-width="0.5" stroke-opacity="0.55"/>
<path d="M260.5,33.5 Q258.1,46.1 261.9,53.5 Q262.6,45.8 260.5,33.5 Z" fill="#D0C894" stroke="#3E4E24" stroke-width="0.5" stroke-opacity="0.55"/>
<path d="M262.1,33.5 Q260.0,45.9 262.0,53.5 Q264.7,45.9 262.1,33.5 Z" fill="#90BC6A" stroke="#3E4E24" stroke-width="0.5" stroke-opacity="0.55"/>
<path d="M263.9,33.5 Q261.6,46.0 264.7,53.5 Q266.3,45.8 263.9,33.5 Z" fill="#E4DCB2" stroke="#3E4E24" stroke-width="0.5" stroke-opacity="0.55"/>
<path d="M265.8,33.5 Q264.0,45.9 266.1,53.5 Q267.7,45.9 265.8,33.5 Z" fill="#E8E0B8" stroke="#3E4E24" stroke-width="0.5" stroke-opacity="0.55"/>
<path d="M269.2,33.5 Q267.3,46.0 270.5,53.5 Q270.9,45.8 269.2,33.5 Z" fill="#C0CE8E" stroke="#3E4E24" stroke-width="0.5" stroke-opacity="0.55"/>
<path d="M271.0,33.5 Q269.6,46.1 273.0,53.5 Q272.4,45.8 271.0,33.5 Z" fill="#DCD6A6" stroke="#3E4E24" stroke-width="0.5" stroke-opacity="0.55"/>
<path d="M215.0,56.3 L244.2,84.5 L215.0,84.5 Z" fill="#5E5640"/>
<path d="M273.5,51.6 L273.5,84.5 L244.2,84.5 Z" fill="#9C98D4"/>
<path d="M218.5,48.8 Q244.2,29.0 271.7,50.2 Q269.4,68.0 260.6,84.5 L226.7,84.5 Q219.7,77.4 218.5,48.8 Z" fill="#8EA468"/>
<g clip-path="url(#b3)">
<path d="M202.6,40.6 Q203.8,66.8 222.0,81.5 Q208.3,64.6 202.6,40.6 Z" fill="#90BC6A" stroke="#3E4E24" stroke-width="0.5" stroke-opacity="0.7"/>
<path d="M205.6,38.9 Q206.6,68.3 225.2,85.1 Q211.2,66.4 205.6,38.9 Z" fill="#84B060" stroke="#3E4E24" stroke-width="0.5" stroke-opacity="0.7"/>
<path d="M208.8,38.7 Q208.5,69.9 227.5,87.1 Q214.8,67.5 208.8,38.7 Z" fill="#C0CE8E" stroke="#3E4E24" stroke-width="0.5" stroke-opacity="0.7"/>
<path d="M211.9,42.9 Q211.2,67.1 226.4,80.1 Q217.0,64.8 211.9,42.9 Z" fill="#E4DCB2" stroke="#3E4E24" stroke-width="0.5" stroke-opacity="0.7"/>
<path d="M217.1,37.3 Q216.9,68.9 231.4,87.2 Q221.6,67.5 217.1,37.3 Z" fill="#C0CE8E" stroke="#3E4E24" stroke-width="0.5" stroke-opacity="0.7"/>
<path d="M219.7,39.9 Q218.0,66.0 230.9,80.5 Q224.1,64.3 219.7,39.9 Z" fill="#D0C894" stroke="#3E4E24" stroke-width="0.5" stroke-opacity="0.7"/>
<path d="M223.2,41.1 Q221.5,69.1 233.8,85.0 Q228.1,67.5 223.2,41.1 Z" fill="#ACCA82" stroke="#3E4E24" stroke-width="0.5" stroke-opacity="0.7"/>
<path d="M228.9,41.9 Q227.2,67.5 236.2,82.4 Q232.9,66.5 228.9,41.9 Z" fill="#D0C894" stroke="#3E4E24" stroke-width="0.5" stroke-opacity="0.7"/>
<path d="M231.2,40.6 Q229.3,68.4 237.8,84.8 Q234.2,67.7 231.2,40.6 Z" fill="#84B060" stroke="#3E4E24" stroke-width="0.5" stroke-opacity="0.7"/>
<path d="M233.5,42.1 Q231.2,70.2 239.2,86.7 Q237.4,69.4 233.5,42.1 Z" fill="#ACCA82" stroke="#3E4E24" stroke-width="0.5" stroke-opacity="0.7"/>
<path d="M238.2,40.2 Q236.2,68.0 241.2,84.8 Q240.8,67.7 238.2,40.2 Z" fill="#DCD6A6" stroke="#3E4E24" stroke-width="0.5" stroke-opacity="0.7"/>
<path d="M241.5,36.3 Q239.6,63.9 242.8,80.6 Q244.2,63.7 241.5,36.3 Z" fill="#E8E0B8" stroke="#3E4E24" stroke-width="0.5" stroke-opacity="0.7"/>
<path d="M244.8,42.7 Q242.3,69.4 244.5,85.8 Q246.8,69.5 244.8,42.7 Z" fill="#DCD6A6" stroke="#3E4E24" stroke-width="0.5" stroke-opacity="0.7"/>
<path d="M251.2,41.8 Q248.3,69.1 247.6,86.2 Q252.9,69.5 251.2,41.8 Z" fill="#E4DCB2" stroke="#3E4E24" stroke-width="0.5" stroke-opacity="0.7"/>
<path d="M254.3,39.0 Q250.8,68.2 249.0,86.6 Q256.3,68.8 254.3,39.0 Z" fill="#84B060" stroke="#3E4E24" stroke-width="0.5" stroke-opacity="0.7"/>
<path d="M258.2,39.3 Q254.3,66.5 251.3,84.0 Q259.6,67.4 258.2,39.3 Z" fill="#ACCA82" stroke="#3E4E24" stroke-width="0.5" stroke-opacity="0.7"/>
<path d="M259.8,36.8 Q255.2,65.7 252.0,84.3 Q261.2,66.7 259.8,36.8 Z" fill="#ACCA82" stroke="#3E4E24" stroke-width="0.5" stroke-opacity="0.7"/>
<path d="M264.2,40.0 Q259.7,67.1 254.2,84.8 Q265.9,68.5 264.2,40.0 Z" fill="#D0C894" stroke="#3E4E24" stroke-width="0.5" stroke-opacity="0.7"/>
<path d="M269.8,40.9 Q266.2,65.2 258.1,80.9 Q271.0,66.6 269.8,40.9 Z" fill="#90BC6A" stroke="#3E4E24" stroke-width="0.5" stroke-opacity="0.7"/>
<path d="M270.0,41.4 Q264.9,69.1 256.2,87.5 Q270.9,70.9 270.0,41.4 Z" fill="#DCD6A6" stroke="#3E4E24" stroke-width="0.5" stroke-opacity="0.7"/>
<path d="M275.3,42.7 Q270.6,64.7 261.5,79.8 Q276.2,66.8 275.3,42.7 Z" fill="#ACCA82" stroke="#3E4E24" stroke-width="0.5" stroke-opacity="0.7"/>
<path d="M280.3,38.4 Q275.4,65.3 262.7,83.3 Q280.5,67.3 280.3,38.4 Z" fill="#E4DCB2" stroke="#3E4E24" stroke-width="0.5" stroke-opacity="0.7"/>
<path d="M282.1,37.5 Q276.9,62.8 265.0,79.9 Q281.4,64.6 282.1,37.5 Z" fill="#D0C894" stroke="#3E4E24" stroke-width="0.5" stroke-opacity="0.7"/>
<path d="M285.9,39.5 Q280.4,64.4 266.4,81.7 Q285.3,66.7 285.9,39.5 Z" fill="#E4DCB2" stroke="#3E4E24" stroke-width="0.5" stroke-opacity="0.7"/>
<path d="M202.8,38.1 Q203.2,66.5 222.4,82.0 Q207.6,64.5 202.8,38.1 Z" fill="#DCD6A6" stroke="#3E4E24" stroke-width="0.5" stroke-opacity="0.7"/>
<path d="M203.5,41.3 Q204.3,70.5 224.9,86.6 Q209.3,68.1 203.5,41.3 Z" fill="#90BC6A" stroke="#3E4E24" stroke-width="0.5" stroke-opacity="0.7"/>
<path d="M206.8,35.9 Q206.8,68.1 226.1,86.1 Q211.8,66.2 206.8,35.9 Z" fill="#90BC6A" stroke="#3E4E24" stroke-width="0.5" stroke-opacity="0.7"/>
<path d="M212.2,40.4 Q212.2,68.6 228.2,84.4 Q217.6,66.6 212.2,40.4 Z" fill="#DCD6A6" stroke="#3E4E24" stroke-width="0.5" stroke-opacity="0.7"/>
<path d="M214.5,39.2 Q214.3,68.8 229.7,85.6 Q218.4,67.4 214.5,39.2 Z" fill="#ACCA82" stroke="#3E4E24" stroke-width="0.5" stroke-opacity="0.7"/>
<path d="M216.8,36.3 Q216.7,68.3 231.2,86.9 Q220.6,67.2 216.8,36.3 Z" fill="#ACCA82" stroke="#3E4E24" stroke-width="0.5" stroke-opacity="0.7"/>
<path d="M220.2,37.6 Q220.0,65.6 231.6,81.9 Q225.0,64.3 220.2,37.6 Z" fill="#D0C894" stroke="#3E4E24" stroke-width="0.5" stroke-opacity="0.7"/>
<path d="M223.3,40.1 Q221.9,69.8 234.3,86.8 Q227.2,68.5 223.3,40.1 Z" fill="#90BC6A" stroke="#3E4E24" stroke-width="0.5" stroke-opacity="0.7"/>
<path d="M226.9,38.9 Q226.3,67.9 235.7,85.1 Q231.3,66.9 226.9,38.9 Z" fill="#DCD6A6" stroke="#3E4E24" stroke-width="0.5" stroke-opacity="0.7"/>
<path d="M228.8,40.2 Q226.4,69.9 237.0,87.0 Q233.0,68.7 228.8,40.2 Z" fill="#E8E0B8" stroke="#3E4E24" stroke-width="0.5" stroke-opacity="0.7"/>
<path d="M232.3,36.2 Q230.0,65.8 238.1,83.3 Q236.5,65.0 232.3,36.2 Z" fill="#90BC6A" stroke="#3E4E24" stroke-width="0.5" stroke-opacity="0.7"/>
<path d="M233.7,40.9 Q230.9,70.1 239.3,87.4 Q237.3,69.4 233.7,40.9 Z" fill="#E4DCB2" stroke="#3E4E24" stroke-width="0.5" stroke-opacity="0.7"/>
<path d="M237.1,35.6 Q234.8,66.6 240.7,85.3 Q239.4,66.3 237.1,35.6 Z" fill="#ACCA82" stroke="#3E4E24" stroke-width="0.5" stroke-opacity="0.7"/>
<path d="M240.8,41.5 Q239.1,68.6 242.6,85.1 Q243.5,68.4 240.8,41.5 Z" fill="#DCD6A6" stroke="#3E4E24" stroke-width="0.5" stroke-opacity="0.7"/>
<path d="M244.4,39.5 Q240.9,67.6 244.3,84.9 Q247.4,67.6 244.4,39.5 Z" fill="#90BC6A" stroke="#3E4E24" stroke-width="0.5" stroke-opacity="0.7"/>
<path d="M245.8,35.6 Q242.7,66.0 245.0,84.7 Q249.0,66.1 245.8,35.6 Z" fill="#DCD6A6" stroke="#3E4E24" stroke-width="0.5" stroke-opacity="0.7"/>
<path d="M249.7,40.3 Q246.4,69.2 246.8,87.2 Q252.7,69.6 249.7,40.3 Z" fill="#90BC6A" stroke="#3E4E24" stroke-width="0.5" stroke-opacity="0.7"/>
<path d="M254.7,41.3 Q251.9,67.1 249.6,83.3 Q256.3,67.6 254.7,41.3 Z" fill="#DCD6A6" stroke="#3E4E24" stroke-width="0.5" stroke-opacity="0.7"/>
<path d="M256.8,40.5 Q252.8,66.3 250.8,82.8 Q257.9,67.1 256.8,40.5 Z" fill="#E8E0B8" stroke="#3E4E24" stroke-width="0.5" stroke-opacity="0.7"/>
<path d="M260.2,40.0 Q256.6,65.5 252.7,81.8 Q260.7,66.2 260.2,40.0 Z" fill="#D0C894" stroke="#3E4E24" stroke-width="0.5" stroke-opacity="0.7"/>
<path d="M263.1,35.6 Q258.1,62.9 254.4,80.7 Q264.3,64.1 263.1,35.6 Z" fill="#C0CE8E" stroke="#3E4E24" stroke-width="0.5" stroke-opacity="0.7"/>
<path d="M264.7,38.6 Q259.8,65.1 254.9,82.5 Q265.8,66.4 264.7,38.6 Z" fill="#E4DCB2" stroke="#3E4E24" stroke-width="0.5" stroke-opacity="0.7"/>
<path d="M267.8,35.5 Q263.9,63.5 256.7,81.6 Q268.9,64.8 267.8,35.5 Z" fill="#90BC6A" stroke="#3E4E24" stroke-width="0.5" stroke-opacity="0.7"/>
<path d="M270.4,42.6 Q266.4,69.8 256.4,87.4 Q270.6,71.1 270.4,42.6 Z" fill="#E8E0B8" stroke="#3E4E24" stroke-width="0.5" stroke-opacity="0.7"/>
<path d="M273.3,39.9 Q269.1,67.8 258.3,85.9 Q273.4,69.2 273.3,39.9 Z" fill="#E4DCB2" stroke="#3E4E24" stroke-width="0.5" stroke-opacity="0.7"/>
<path d="M276.2,38.7 Q270.3,66.3 260.0,85.2 Q276.5,68.5 276.2,38.7 Z" fill="#90BC6A" stroke="#3E4E24" stroke-width="0.5" stroke-opacity="0.7"/>
<path d="M280.4,36.2 Q274.9,66.0 261.8,86.0 Q280.6,68.2 280.4,36.2 Z" fill="#E4DCB2" stroke="#3E4E24" stroke-width="0.5" stroke-opacity="0.7"/>
<path d="M283.6,37.6 Q278.7,66.9 263.3,86.2 Q283.2,68.8 283.6,37.6 Z" fill="#E4DCB2" stroke="#3E4E24" stroke-width="0.5" stroke-opacity="0.7"/>
<path d="M285.7,36.9 Q280.3,65.9 264.7,85.1 Q284.9,67.9 285.7,36.9 Z" fill="#D0C894" stroke="#3E4E24" stroke-width="0.5" stroke-opacity="0.7"/>
</g>
<path d="M222.0,82.6 Q244.2,77.0 266.5,82.6 L266.5,84.5 L222.0,84.5 Z" fill="#5A5840" opacity="0.8"/>
<path d="M213.8,51.6 L218.5,48.8 Q244.2,29.0 271.7,50.2 L274.7,53.0" fill="none" stroke="#A098D4" stroke-width="2.0"/>
</g>
<rect x="215.6" y="37.9" width="57.3" height="46.2" fill="none" stroke="#171B2A" stroke-width="1.4"/>
<g clip-path="url(#c4)">
<rect x="273.5" y="37.5" width="65.5" height="47.0" fill="#B4B8B4"/>
<path d="M274.6,33.5 Q273.3,45.8 273.2,53.5 Q275.8,46.0 274.6,33.5 Z" fill="#DCD0B2" stroke="#4E4630" stroke-width="0.5" stroke-opacity="0.55"/>
<path d="M275.9,33.5 Q274.1,46.0 276.5,53.5 Q278.4,45.8 275.9,33.5 Z" fill="#D0C09A" stroke="#4E4630" stroke-width="0.5" stroke-opacity="0.55"/>
<path d="M278.0,33.5 Q276.5,45.8 277.1,53.5 Q280.3,46.0 278.0,33.5 Z" fill="#E6DAC6" stroke="#4E4630" stroke-width="0.5" stroke-opacity="0.55"/>
<path d="M282.3,33.5 Q281.0,46.0 283.7,53.5 Q284.6,45.7 282.3,33.5 Z" fill="#E0D0B6" stroke="#4E4630" stroke-width="0.5" stroke-opacity="0.55"/>
<path d="M284.0,33.5 Q281.9,45.9 283.7,53.5 Q286.6,45.9 284.0,33.5 Z" fill="#D0C09A" stroke="#4E4630" stroke-width="0.5" stroke-opacity="0.55"/>
<path d="M284.6,33.5 Q283.6,45.8 283.4,53.5 Q286.4,46.0 284.6,33.5 Z" fill="#E6DAC6" stroke="#4E4630" stroke-width="0.5" stroke-opacity="0.55"/>
<path d="M286.8,33.5 Q284.1,45.8 286.3,53.5 Q288.2,45.9 286.8,33.5 Z" fill="#DCD0B2" stroke="#4E4630" stroke-width="0.5" stroke-opacity="0.55"/>
<path d="M290.9,33.5 Q288.2,45.7 289.2,53.5 Q292.0,46.0 290.9,33.5 Z" fill="#C4B08A" stroke="#4E4630" stroke-width="0.5" stroke-opacity="0.55"/>
<path d="M292.7,33.5 Q290.7,45.8 291.0,53.5 Q293.8,46.0 292.7,33.5 Z" fill="#E0D0B6" stroke="#4E4630" stroke-width="0.5" stroke-opacity="0.55"/>
<path d="M295.4,33.5 Q293.4,46.0 296.1,53.5 Q296.8,45.9 295.4,33.5 Z" fill="#DCD0B2" stroke="#4E4630" stroke-width="0.5" stroke-opacity="0.55"/>
<path d="M296.3,33.5 Q294.6,45.8 295.3,53.5 Q298.8,46.0 296.3,33.5 Z" fill="#D0C09A" stroke="#4E4630" stroke-width="0.5" stroke-opacity="0.55"/>
<path d="M298.3,33.5 Q295.5,45.8 297.7,53.5 Q300.1,46.0 298.3,33.5 Z" fill="#94B47E" stroke="#4E4630" stroke-width="0.5" stroke-opacity="0.55"/>
<path d="M300.0,33.5 Q298.7,46.0 301.1,53.5 Q302.8,45.8 300.0,33.5 Z" fill="#DCD0B2" stroke="#4E4630" stroke-width="0.5" stroke-opacity="0.55"/>
<path d="M302.4,33.5 Q300.1,46.0 303.4,53.5 Q304.8,45.8 302.4,33.5 Z" fill="#A8BA8A" stroke="#4E4630" stroke-width="0.5" stroke-opacity="0.55"/>
<path d="M305.3,33.5 Q303.9,45.9 305.9,53.5 Q307.4,45.8 305.3,33.5 Z" fill="#ECE2D4" stroke="#4E4630" stroke-width="0.5" stroke-opacity="0.55"/>
<path d="M306.8,33.5 Q305.0,45.9 306.7,53.5 Q307.8,45.9 306.8,33.5 Z" fill="#E0D0B6" stroke="#4E4630" stroke-width="0.5" stroke-opacity="0.55"/>
<path d="M310.7,33.5 Q308.8,46.1 312.3,53.5 Q312.3,45.8 310.7,33.5 Z" fill="#E0D0B6" stroke="#4E4630" stroke-width="0.5" stroke-opacity="0.55"/>
<path d="M311.2,33.5 Q309.7,46.0 312.6,53.5 Q312.3,45.8 311.2,33.5 Z" fill="#ECE2D4" stroke="#4E4630" stroke-width="0.5" stroke-opacity="0.55"/>
<path d="M313.4,33.5 Q311.6,45.9 313.2,53.5 Q314.3,45.9 313.4,33.5 Z" fill="#C4B08A" stroke="#4E4630" stroke-width="0.5" stroke-opacity="0.55"/>
<path d="M316.7,33.5 Q315.1,45.9 316.5,53.5 Q318.3,45.9 316.7,33.5 Z" fill="#E0D0B6" stroke="#4E4630" stroke-width="0.5" stroke-opacity="0.55"/>
<path d="M318.9,33.5 Q317.6,45.8 317.5,53.5 Q320.5,46.0 318.9,33.5 Z" fill="#94B47E" stroke="#4E4630" stroke-width="0.5" stroke-opacity="0.55"/>
<path d="M320.7,33.5 Q319.5,46.0 322.3,53.5 Q322.9,45.7 320.7,33.5 Z" fill="#D0C09A" stroke="#4E4630" stroke-width="0.5" stroke-opacity="0.55"/>
<path d="M322.8,33.5 Q321.3,45.8 321.4,53.5 Q324.3,46.0 322.8,33.5 Z" fill="#A8BA8A" stroke="#4E4630" stroke-width="0.5" stroke-opacity="0.55"/>
<path d="M324.5,33.5 Q323.3,45.9 324.4,53.5 Q326.5,45.9 324.5,33.5 Z" fill="#DCD0B2" stroke="#4E4630" stroke-width="0.5" stroke-opacity="0.55"/>
<path d="M328.5,33.5 Q325.9,45.7 326.7,53.5 Q330.4,46.1 328.5,33.5 Z" fill="#E0D0B6" stroke="#4E4630" stroke-width="0.5" stroke-opacity="0.55"/>
<path d="M330.3,33.5 Q328.1,45.7 328.8,53.5 Q332.3,46.1 330.3,33.5 Z" fill="#ECE2D4" stroke="#4E4630" stroke-width="0.5" stroke-opacity="0.55"/>
<path d="M331.3,33.5 Q329.9,45.8 330.2,53.5 Q332.9,46.0 331.3,33.5 Z" fill="#C4B08A" stroke="#4E4630" stroke-width="0.5" stroke-opacity="0.55"/>
<path d="M334.9,33.5 Q333.0,45.8 333.1,53.5 Q337.1,46.1 334.9,33.5 Z" fill="#A8BA8A" stroke="#4E4630" stroke-width="0.5" stroke-opacity="0.55"/>
<path d="M336.5,33.5 Q334.7,45.9 336.3,53.5 Q338.4,45.9 336.5,33.5 Z" fill="#D0C09A" stroke="#4E4630" stroke-width="0.5" stroke-opacity="0.55"/>
<path d="M273.5,56.3 L306.2,84.5 L273.5,84.5 Z" fill="#807E68"/>
<path d="M339.0,51.6 L339.0,84.5 L306.2,84.5 Z" fill="#5C6EC6"/>
<path d="M275.5,51.1 Q306.2,28.6 337.0,50.2 Q339.0,74.2 320.7,84.5 L290.5,84.5 Q274.8,77.4 275.5,51.1 Z" fill="#C8BE9E"/>
<g clip-path="url(#b4)">
<path d="M259.5,43.0 Q260.0,68.5 285.7,81.8 Q263.5,66.2 259.5,43.0 Z" fill="#94B47E" stroke="#4E4630" stroke-width="0.5" stroke-opacity="0.55"/>
<path d="M260.9,40.1 Q261.6,66.3 285.7,80.6 Q264.7,64.4 260.9,40.1 Z" fill="#E0D0B6" stroke="#4E4630" stroke-width="0.5" stroke-opacity="0.55"/>
<path d="M263.9,36.1 Q263.7,64.7 287.0,80.2 Q268.1,62.5 263.9,36.1 Z" fill="#DCD0B2" stroke="#4E4630" stroke-width="0.5" stroke-opacity="0.55"/>
<path d="M266.9,36.6 Q266.9,67.7 290.7,84.9 Q271.4,65.5 266.9,36.6 Z" fill="#E0D0B6" stroke="#4E4630" stroke-width="0.5" stroke-opacity="0.55"/>
<path d="M270.0,36.0 Q270.2,67.5 292.1,85.4 Q274.2,65.7 270.0,36.0 Z" fill="#94B47E" stroke="#4E4630" stroke-width="0.5" stroke-opacity="0.55"/>
<path d="M273.5,37.8 Q273.4,67.7 293.2,84.6 Q278.7,65.5 273.5,37.8 Z" fill="#E6DAC6" stroke="#4E4630" stroke-width="0.5" stroke-opacity="0.55"/>
<path d="M278.3,39.3 Q278.2,69.3 295.8,86.5 Q281.9,67.9 278.3,39.3 Z" fill="#D0C09A" stroke="#4E4630" stroke-width="0.5" stroke-opacity="0.55"/>
<path d="M281.6,35.8 Q281.0,67.0 296.6,85.1 Q285.6,65.6 281.6,35.8 Z" fill="#94B47E" stroke="#4E4630" stroke-width="0.5" stroke-opacity="0.55"/>
<path d="M284.5,43.2 Q283.3,66.8 296.2,80.1 Q287.4,65.6 284.5,43.2 Z" fill="#E0D0B6" stroke="#4E4630" stroke-width="0.5" stroke-opacity="0.55"/>
<path d="M287.4,38.1 Q286.7,67.7 298.9,85.2 Q290.9,66.7 287.4,38.1 Z" fill="#94B47E" stroke="#4E4630" stroke-width="0.5" stroke-opacity="0.55"/>
<path d="M288.2,41.3 Q288.2,67.5 298.7,83.1 Q291.4,66.7 288.2,41.3 Z" fill="#D0C09A" stroke="#4E4630" stroke-width="0.5" stroke-opacity="0.55"/>
<path d="M293.9,37.3 Q292.8,64.6 300.7,81.0 Q296.2,64.1 293.9,37.3 Z" fill="#A8BA8A" stroke="#4E4630" stroke-width="0.5" stroke-opacity="0.55"/>
<path d="M296.9,35.7 Q295.4,67.7 302.8,86.9 Q300.7,67.1 296.9,35.7 Z" fill="#A8BA8A" stroke="#4E4630" stroke-width="0.5" stroke-opacity="0.55"/>
<path d="M298.9,40.1 Q296.9,67.4 303.2,83.7 Q302.1,66.9 298.9,40.1 Z" fill="#E6DAC6" stroke="#4E4630" stroke-width="0.5" stroke-opacity="0.55"/>
<path d="M300.4,36.9 Q299.0,64.8 303.7,81.7 Q303.4,64.5 300.4,36.9 Z" fill="#A8BA8A" stroke="#4E4630" stroke-width="0.5" stroke-opacity="0.55"/>
<path d="M303.6,42.6 Q302.2,68.2 305.1,83.8 Q306.1,68.1 303.6,42.6 Z" fill="#E0D0B6" stroke="#4E4630" stroke-width="0.5" stroke-opacity="0.55"/>
<path d="M308.0,41.5 Q304.9,65.8 307.0,80.8 Q310.4,65.9 308.0,41.5 Z" fill="#C4B08A" stroke="#4E4630" stroke-width="0.5" stroke-opacity="0.55"/>
<path d="M311.2,40.3 Q307.6,64.6 308.5,79.8 Q313.5,65.0 311.2,40.3 Z" fill="#94B47E" stroke="#4E4630" stroke-width="0.5" stroke-opacity="0.55"/>
<path d="M313.4,37.4 Q310.4,64.9 309.3,82.2 Q314.8,65.3 313.4,37.4 Z" fill="#ECE2D4" stroke="#4E4630" stroke-width="0.5" stroke-opacity="0.55"/>
<path d="M318.1,35.9 Q314.8,65.1 311.1,83.6 Q320.6,66.0 318.1,35.9 Z" fill="#ECE2D4" stroke="#4E4630" stroke-width="0.5" stroke-opacity="0.55"/>
<path d="M319.8,40.6 Q317.0,66.1 312.1,82.4 Q321.6,67.0 319.8,40.6 Z" fill="#E6DAC6" stroke="#4E4630" stroke-width="0.5" stroke-opacity="0.55"/>
<path d="M322.2,40.9 Q318.9,65.4 313.3,81.3 Q323.1,66.3 322.2,40.9 Z" fill="#C4B08A" stroke="#4E4630" stroke-width="0.5" stroke-opacity="0.55"/>
<path d="M327.5,40.6 Q324.0,68.1 314.3,86.0 Q329.5,69.7 327.5,40.6 Z" fill="#94B47E" stroke="#4E4630" stroke-width="0.5" stroke-opacity="0.55"/>
<path d="M329.7,37.6 Q326.3,66.3 315.5,84.9 Q330.1,67.5 329.7,37.6 Z" fill="#94B47E" stroke="#4E4630" stroke-width="0.5" stroke-opacity="0.55"/>
<path d="M331.6,39.7 Q327.8,65.7 316.9,83.0 Q333.3,67.6 331.6,39.7 Z" fill="#A8BA8A" stroke="#4E4630" stroke-width="0.5" stroke-opacity="0.55"/>
<path d="M334.9,36.8 Q331.1,62.8 319.4,80.0 Q336.6,64.8 334.9,36.8 Z" fill="#A8BA8A" stroke="#4E4630" stroke-width="0.5" stroke-opacity="0.55"/>
<path d="M338.8,43.0 Q334.3,66.6 320.0,83.0 Q338.5,68.6 338.8,43.0 Z" fill="#A8BA8A" stroke="#4E4630" stroke-width="0.5" stroke-opacity="0.55"/>
<path d="M341.8,37.7 Q336.9,66.0 320.1,85.4 Q341.7,68.2 341.8,37.7 Z" fill="#A8BA8A" stroke="#4E4630" stroke-width="0.5" stroke-opacity="0.55"/>
<path d="M345.0,40.1 Q341.0,66.9 321.6,84.7 Q344.3,68.6 345.0,40.1 Z" fill="#ECE2D4" stroke="#4E4630" stroke-width="0.5" stroke-opacity="0.55"/>
<path d="M347.8,40.4 Q343.8,66.1 323.6,83.3 Q347.4,68.1 347.8,40.4 Z" fill="#E0D0B6" stroke="#4E4630" stroke-width="0.5" stroke-opacity="0.55"/>
<path d="M349.8,39.9 Q345.5,68.4 322.1,87.3 Q349.2,70.5 349.8,39.9 Z" fill="#ECE2D4" stroke="#4E4630" stroke-width="0.5" stroke-opacity="0.55"/>
<path d="M355.2,38.1 Q351.0,64.5 327.4,82.1 Q354.3,66.6 355.2,38.1 Z" fill="#E0D0B6" stroke="#4E4630" stroke-width="0.5" stroke-opacity="0.55"/>
<path d="M259.2,36.8 Q259.1,65.1 284.8,80.0 Q264.0,62.3 259.2,36.8 Z" fill="#DCD0B2" stroke="#4E4630" stroke-width="0.5" stroke-opacity="0.55"/>
<path d="M261.2,42.2 Q261.0,68.8 286.8,82.3 Q265.5,66.0 261.2,42.2 Z" fill="#E0D0B6" stroke="#4E4630" stroke-width="0.5" stroke-opacity="0.55"/>
<path d="M264.2,43.0 Q264.3,69.1 288.4,82.8 Q268.6,66.5 264.2,43.0 Z" fill="#D0C09A" stroke="#4E4630" stroke-width="0.5" stroke-opacity="0.55"/>
<path d="M266.7,42.3 Q267.4,70.4 291.3,86.1 Q271.5,68.2 266.7,42.3 Z" fill="#DCD0B2" stroke="#4E4630" stroke-width="0.5" stroke-opacity="0.55"/>
<path d="M269.4,40.6 Q270.2,68.9 291.8,85.1 Q274.1,66.9 269.4,40.6 Z" fill="#E6DAC6" stroke="#4E4630" stroke-width="0.5" stroke-opacity="0.55"/>
<path d="M272.4,40.2 Q271.8,68.2 292.3,83.5 Q277.2,65.8 272.4,40.2 Z" fill="#D0C09A" stroke="#4E4630" stroke-width="0.5" stroke-opacity="0.55"/>
<path d="M275.1,42.5 Q274.8,69.4 293.7,84.4 Q278.7,67.7 275.1,42.5 Z" fill="#DCD0B2" stroke="#4E4630" stroke-width="0.5" stroke-opacity="0.55"/>
<path d="M276.5,38.3 Q275.8,66.5 293.5,82.3 Q280.2,64.8 276.5,38.3 Z" fill="#C4B08A" stroke="#4E4630" stroke-width="0.5" stroke-opacity="0.55"/>
<path d="M278.4,41.5 Q278.5,70.6 296.2,87.4 Q282.5,69.0 278.4,41.5 Z" fill="#A8BA8A" stroke="#4E4630" stroke-width="0.5" stroke-opacity="0.55"/>
<path d="M281.8,36.7 Q280.6,66.9 296.4,84.1 Q285.2,65.5 281.8,36.7 Z" fill="#E6DAC6" stroke="#4E4630" stroke-width="0.5" stroke-opacity="0.55"/>
<path d="M284.6,43.3 Q284.3,69.2 297.5,84.4 Q288.0,68.1 284.6,43.3 Z" fill="#ECE2D4" stroke="#4E4630" stroke-width="0.5" stroke-opacity="0.55"/>
<path d="M287.5,42.8 Q287.1,66.0 297.4,79.6 Q290.3,65.1 287.5,42.8 Z" fill="#DCD0B2" stroke="#4E4630" stroke-width="0.5" stroke-opacity="0.55"/>
<path d="M290.4,38.0 Q289.3,67.2 299.9,84.5 Q293.7,66.3 290.4,38.0 Z" fill="#C4B08A" stroke="#4E4630" stroke-width="0.5" stroke-opacity="0.55"/>
<path d="M292.6,40.3 Q290.5,66.9 300.4,82.3 Q296.2,65.8 292.6,40.3 Z" fill="#E6DAC6" stroke="#4E4630" stroke-width="0.5" stroke-opacity="0.55"/>
<path d="M294.6,38.5 Q292.4,66.3 301.3,82.7 Q297.1,65.6 294.6,38.5 Z" fill="#D0C09A" stroke="#4E4630" stroke-width="0.5" stroke-opacity="0.55"/>
<path d="M299.5,39.4 Q297.2,66.7 303.4,83.0 Q302.1,66.2 299.5,39.4 Z" fill="#ECE2D4" stroke="#4E4630" stroke-width="0.5" stroke-opacity="0.55"/>
<path d="M301.6,36.2 Q299.4,65.0 304.3,82.4 Q303.6,64.8 301.6,36.2 Z" fill="#E6DAC6" stroke="#4E4630" stroke-width="0.5" stroke-opacity="0.55"/>
<path d="M303.6,36.4 Q301.1,67.6 305.3,86.7 Q306.2,67.5 303.6,36.4 Z" fill="#C4B08A" stroke="#4E4630" stroke-width="0.5" stroke-opacity="0.55"/>
<path d="M306.3,42.0 Q303.8,66.3 306.3,81.2 Q309.5,66.3 306.3,42.0 Z" fill="#C4B08A" stroke="#4E4630" stroke-width="0.5" stroke-opacity="0.55"/>
<path d="M309.3,40.3 Q305.9,66.2 307.5,82.3 Q311.8,66.5 309.3,40.3 Z" fill="#94B47E" stroke="#4E4630" stroke-width="0.5" stroke-opacity="0.55"/>
<path d="M310.3,35.5 Q307.8,66.2 307.8,85.2 Q312.5,66.4 310.3,35.5 Z" fill="#A8BA8A" stroke="#4E4630" stroke-width="0.5" stroke-opacity="0.55"/>
<path d="M313.2,35.6 Q310.5,62.8 309.4,79.7 Q314.2,63.1 313.2,35.6 Z" fill="#A8BA8A" stroke="#4E4630" stroke-width="0.5" stroke-opacity="0.55"/>
<path d="M317.9,39.6 Q315.8,64.8 311.5,80.6 Q319.6,65.4 317.9,39.6 Z" fill="#E6DAC6" stroke="#4E4630" stroke-width="0.5" stroke-opacity="0.55"/>
<path d="M319.6,39.6 Q316.8,64.1 312.4,79.7 Q320.2,64.7 319.6,39.6 Z" fill="#DCD0B2" stroke="#4E4630" stroke-width="0.5" stroke-opacity="0.55"/>
<path d="M322.5,42.0 Q320.5,65.3 313.8,80.0 Q323.6,66.0 322.5,42.0 Z" fill="#ECE2D4" stroke="#4E4630" stroke-width="0.5" stroke-opacity="0.55"/>
<path d="M324.1,37.7 Q320.9,63.3 314.5,79.8 Q325.8,64.4 324.1,37.7 Z" fill="#E6DAC6" stroke="#4E4630" stroke-width="0.5" stroke-opacity="0.55"/>
<path d="M327.4,38.6 Q323.5,63.5 316.0,79.9 Q329.0,65.0 327.4,38.6 Z" fill="#94B47E" stroke="#4E4630" stroke-width="0.5" stroke-opacity="0.55"/>
<path d="M330.5,37.5 Q326.6,63.0 317.4,79.9 Q332.1,64.7 330.5,37.5 Z" fill="#D0C09A" stroke="#4E4630" stroke-width="0.5" stroke-opacity="0.55"/>
<path d="M333.9,42.0 Q329.5,65.7 318.3,81.9 Q334.0,67.4 333.9,42.0 Z" fill="#DCD0B2" stroke="#4E4630" stroke-width="0.5" stroke-opacity="0.55"/>
<path d="M334.3,40.9 Q330.6,67.4 317.3,84.9 Q335.1,69.1 334.3,40.9 Z" fill="#C4B08A" stroke="#4E4630" stroke-width="0.5" stroke-opacity="0.55"/>
<path d="M339.1,39.4 Q335.7,67.6 318.8,85.8 Q339.2,69.1 339.1,39.4 Z" fill="#D0C09A" stroke="#4E4630" stroke-width="0.5" stroke-opacity="0.55"/>
<path d="M340.4,35.6 Q336.8,66.5 319.1,86.6 Q340.7,68.2 340.4,35.6 Z" fill="#ECE2D4" stroke="#4E4630" stroke-width="0.5" stroke-opacity="0.55"/>
<path d="M343.5,38.6 Q339.9,65.3 322.0,82.7 Q343.0,66.7 343.5,38.6 Z" fill="#E6DAC6" stroke="#4E4630" stroke-width="0.5" stroke-opacity="0.55"/>
<path d="M347.2,39.9 Q343.1,65.4 323.7,82.6 Q347.1,67.6 347.2,39.9 Z" fill="#ECE2D4" stroke="#4E4630" stroke-width="0.5" stroke-opacity="0.55"/>
<path d="M347.5,40.8 Q344.0,65.8 324.0,82.2 Q347.2,67.6 347.5,40.8 Z" fill="#D0C09A" stroke="#4E4630" stroke-width="0.5" stroke-opacity="0.55"/>
<path d="M350.8,42.2 Q346.8,65.0 326.6,80.5 Q350.6,67.4 350.8,42.2 Z" fill="#E0D0B6" stroke="#4E4630" stroke-width="0.5" stroke-opacity="0.55"/>
<path d="M353.7,41.3 Q348.7,65.4 326.5,82.5 Q353.6,68.6 353.7,41.3 Z" fill="#E0D0B6" stroke="#4E4630" stroke-width="0.5" stroke-opacity="0.55"/>
</g>
<path d="M281.4,82.6 Q306.2,77.0 331.1,82.6 L331.1,84.5 L281.4,84.5 Z" fill="#33382E" opacity="0.8"/>
<path d="M273.5,63.4 Q278.7,82.2 296.4,85.4" fill="none" stroke="#2A3466" stroke-width="0.9" opacity="0.7"/>
<path d="M273.5,66.2 Q278.7,85.0 296.4,88.3" fill="none" stroke="#2A3466" stroke-width="0.9" opacity="0.7"/>
<path d="M273.5,69.0 Q278.7,87.8 296.4,91.1" fill="none" stroke="#2A3466" stroke-width="0.9" opacity="0.7"/>
<path d="M272.2,54.0 L275.5,51.1 Q306.2,28.6 337.0,50.2 L340.3,53.0" fill="none" stroke="#46549A" stroke-width="1.9"/>
<path d="M337.0,50.2 Q339.0,74.2 320.7,84.5" fill="none" stroke="#46549A" stroke-width="1.1" opacity="0.8"/>
<path d="M275.5,51.1 Q274.8,77.4 290.5,84.5" fill="none" stroke="#46549A" stroke-width="1" opacity="0.5"/>
</g>
<rect x="274.1" y="37.9" width="64.3" height="46.2" fill="none" stroke="#171B2A" stroke-width="1.4"/>
<g clip-path="url(#c5)">
<rect x="339" y="37.5" width="64.5" height="47.0" fill="#B4B8B4"/>
<path d="M340.0,33.5 Q337.1,45.7 338.9,53.5 Q341.6,46.0 340.0,33.5 Z" fill="#D0C09A" stroke="#4E4630" stroke-width="0.5" stroke-opacity="0.55"/>
<path d="M343.4,33.5 Q341.7,45.9 343.8,53.5 Q345.1,45.9 343.4,33.5 Z" fill="#ECE2D4" stroke="#4E4630" stroke-width="0.5" stroke-opacity="0.55"/>
<path d="M344.3,33.5 Q342.7,45.9 344.3,53.5 Q345.4,45.9 344.3,33.5 Z" fill="#E6DAC6" stroke="#4E4630" stroke-width="0.5" stroke-opacity="0.55"/>
<path d="M345.8,33.5 Q344.5,46.0 347.2,53.5 Q348.7,45.7 345.8,33.5 Z" fill="#C4B08A" stroke="#4E4630" stroke-width="0.5" stroke-opacity="0.55"/>
<path d="M349.4,33.5 Q347.7,45.8 348.0,53.5 Q350.1,46.0 349.4,33.5 Z" fill="#E6DAC6" stroke="#4E4630" stroke-width="0.5" stroke-opacity="0.55"/>
<path d="M351.7,33.5 Q350.6,45.9 350.6,53.5 Q353.5,46.0 351.7,33.5 Z" fill="#E6DAC6" stroke="#4E4630" stroke-width="0.5" stroke-opacity="0.55"/>
<path d="M354.2,33.5 Q352.8,46.0 355.4,53.5 Q357.0,45.7 354.2,33.5 Z" fill="#E0D0B6" stroke="#4E4630" stroke-width="0.5" stroke-opacity="0.55"/>
<path d="M355.1,33.5 Q353.8,45.8 354.0,53.5 Q356.5,46.0 355.1,33.5 Z" fill="#C4B08A" stroke="#4E4630" stroke-width="0.5" stroke-opacity="0.55"/>
<path d="M357.5,33.5 Q355.1,46.1 359.1,53.5 Q359.3,45.8 357.5,33.5 Z" fill="#D0C09A" stroke="#4E4630" stroke-width="0.5" stroke-opacity="0.55"/>
<path d="M359.2,33.5 Q356.5,45.8 358.7,53.5 Q360.8,45.9 359.2,33.5 Z" fill="#ECE2D4" stroke="#4E4630" stroke-width="0.5" stroke-opacity="0.55"/>
<path d="M361.1,33.5 Q359.6,46.0 361.9,53.5 Q363.1,45.8 361.1,33.5 Z" fill="#C4B08A" stroke="#4E4630" stroke-width="0.5" stroke-opacity="0.55"/>
<path d="M364.6,33.5 Q362.8,45.8 363.3,53.5 Q365.5,46.0 364.6,33.5 Z" fill="#E0D0B6" stroke="#4E4630" stroke-width="0.5" stroke-opacity="0.55"/>
<path d="M365.5,33.5 Q363.5,45.7 363.6,53.5 Q366.3,46.0 365.5,33.5 Z" fill="#E0D0B6" stroke="#4E4630" stroke-width="0.5" stroke-opacity="0.55"/>
<path d="M367.9,33.5 Q366.1,46.0 368.9,53.5 Q369.9,45.8 367.9,33.5 Z" fill="#D0C09A" stroke="#4E4630" stroke-width="0.5" stroke-opacity="0.55"/>
<path d="M370.3,33.5 Q368.3,45.9 370.3,53.5 Q371.9,45.9 370.3,33.5 Z" fill="#C4B08A" stroke="#4E4630" stroke-width="0.5" stroke-opacity="0.55"/>
<path d="M373.3,33.5 Q371.7,46.1 375.0,53.5 Q374.4,45.8 373.3,33.5 Z" fill="#A8BA8A" stroke="#4E4630" stroke-width="0.5" stroke-opacity="0.55"/>
<path d="M376.1,33.5 Q373.9,45.9 376.5,53.5 Q378.0,45.9 376.1,33.5 Z" fill="#E0D0B6" stroke="#4E4630" stroke-width="0.5" stroke-opacity="0.55"/>
<path d="M376.5,33.5 Q373.9,45.8 375.8,53.5 Q378.2,46.0 376.5,33.5 Z" fill="#ECE2D4" stroke="#4E4630" stroke-width="0.5" stroke-opacity="0.55"/>
<path d="M378.8,33.5 Q377.5,46.0 379.6,53.5 Q380.8,45.8 378.8,33.5 Z" fill="#E0D0B6" stroke="#4E4630" stroke-width="0.5" stroke-opacity="0.55"/>
<path d="M381.0,33.5 Q379.3,46.1 382.8,53.5 Q382.7,45.8 381.0,33.5 Z" fill="#ECE2D4" stroke="#4E4630" stroke-width="0.5" stroke-opacity="0.55"/>
<path d="M384.6,33.5 Q382.9,46.0 385.9,53.5 Q386.8,45.8 384.6,33.5 Z" fill="#DCD0B2" stroke="#4E4630" stroke-width="0.5" stroke-opacity="0.55"/>
<path d="M386.7,33.5 Q384.5,45.8 385.5,53.5 Q388.5,46.0 386.7,33.5 Z" fill="#D0C09A" stroke="#4E4630" stroke-width="0.5" stroke-opacity="0.55"/>
<path d="M387.8,33.5 Q386.3,46.1 389.6,53.5 Q390.7,45.7 387.8,33.5 Z" fill="#A8BA8A" stroke="#4E4630" stroke-width="0.5" stroke-opacity="0.55"/>
<path d="M390.0,33.5 Q388.9,46.0 391.1,53.5 Q391.9,45.8 390.0,33.5 Z" fill="#A8BA8A" stroke="#4E4630" stroke-width="0.5" stroke-opacity="0.55"/>
<path d="M391.9,33.5 Q390.0,45.8 391.4,53.5 Q393.4,45.9 391.9,33.5 Z" fill="#E0D0B6" stroke="#4E4630" stroke-width="0.5" stroke-opacity="0.55"/>
<path d="M394.3,33.5 Q392.9,46.0 395.0,53.5 Q396.5,45.8 394.3,33.5 Z" fill="#DCD0B2" stroke="#4E4630" stroke-width="0.5" stroke-opacity="0.55"/>
<path d="M396.7,33.5 Q394.8,45.9 396.8,53.5 Q398.2,45.9 396.7,33.5 Z" fill="#ECE2D4" stroke="#4E4630" stroke-width="0.5" stroke-opacity="0.55"/>
<path d="M398.7,33.5 Q397.1,46.0 399.5,53.5 Q400.9,45.8 398.7,33.5 Z" fill="#E0D0B6" stroke="#4E4630" stroke-width="0.5" stroke-opacity="0.55"/>
<path d="M402.4,33.5 Q400.1,45.9 402.6,53.5 Q404.3,45.9 402.4,33.5 Z" fill="#D0C09A" stroke="#4E4630" stroke-width="0.5" stroke-opacity="0.55"/>
<path d="M339.0,56.3 L371.2,84.5 L339.0,84.5 Z" fill="#807E68"/>
<path d="M403.5,51.6 L403.5,84.5 L371.2,84.5 Z" fill="#5C6EC6"/>
<path d="M340.9,51.1 Q371.2,28.6 401.6,50.2 Q403.5,74.2 385.4,84.5 L355.8,84.5 Q340.3,77.4 340.9,51.1 Z" fill="#C8BE9E"/>
<g clip-path="url(#b5)">
<path d="M323.3,43.3 Q324.9,70.9 353.3,86.2 Q328.5,68.4 323.3,43.3 Z" fill="#E0D0B6" stroke="#4E4630" stroke-width="0.5" stroke-opacity="0.55"/>
<path d="M326.8,38.4 Q328.0,65.6 351.5,81.2 Q330.9,63.9 326.8,38.4 Z" fill="#A8BA8A" stroke="#4E4630" stroke-width="0.5" stroke-opacity="0.55"/>
<path d="M329.3,38.0 Q330.3,69.3 355.9,87.2 Q333.6,67.6 329.3,38.0 Z" fill="#DCD0B2" stroke="#4E4630" stroke-width="0.5" stroke-opacity="0.55"/>
<path d="M333.0,36.8 Q334.1,64.1 353.8,80.1 Q337.0,62.7 333.0,36.8 Z" fill="#DCD0B2" stroke="#4E4630" stroke-width="0.5" stroke-opacity="0.55"/>
<path d="M337.1,43.3 Q337.1,69.6 357.4,84.0 Q340.2,68.0 337.1,43.3 Z" fill="#DCD0B2" stroke="#4E4630" stroke-width="0.5" stroke-opacity="0.55"/>
<path d="M339.5,41.8 Q339.2,67.7 357.5,82.1 Q343.0,66.0 339.5,41.8 Z" fill="#E6DAC6" stroke="#4E4630" stroke-width="0.5" stroke-opacity="0.55"/>
<path d="M342.9,43.0 Q343.3,69.4 360.0,84.7 Q346.9,67.9 342.9,43.0 Z" fill="#E0D0B6" stroke="#4E4630" stroke-width="0.5" stroke-opacity="0.55"/>
<path d="M346.3,35.7 Q346.4,65.2 360.7,82.7 Q349.8,64.2 346.3,35.7 Z" fill="#ECE2D4" stroke="#4E4630" stroke-width="0.5" stroke-opacity="0.55"/>
<path d="M349.0,42.3 Q348.4,70.6 363.1,86.9 Q351.9,69.5 349.0,42.3 Z" fill="#A8BA8A" stroke="#4E4630" stroke-width="0.5" stroke-opacity="0.55"/>
<path d="M351.1,37.0 Q350.8,67.8 363.6,86.1 Q354.7,66.8 351.1,37.0 Z" fill="#ECE2D4" stroke="#4E4630" stroke-width="0.5" stroke-opacity="0.55"/>
<path d="M355.9,42.2 Q355.0,67.0 364.5,81.5 Q358.3,66.2 355.9,42.2 Z" fill="#E6DAC6" stroke="#4E4630" stroke-width="0.5" stroke-opacity="0.55"/>
<path d="M358.0,42.1 Q356.0,69.3 366.1,85.1 Q361.7,68.2 358.0,42.1 Z" fill="#E0D0B6" stroke="#4E4630" stroke-width="0.5" stroke-opacity="0.55"/>
<path d="M360.7,36.8 Q359.3,65.0 366.7,81.9 Q364.1,64.4 360.7,36.8 Z" fill="#E6DAC6" stroke="#4E4630" stroke-width="0.5" stroke-opacity="0.55"/>
<path d="M362.9,36.6 Q360.8,66.6 367.9,84.6 Q365.1,66.2 362.9,36.6 Z" fill="#94B47E" stroke="#4E4630" stroke-width="0.5" stroke-opacity="0.55"/>
<path d="M366.7,37.2 Q365.7,65.4 369.3,82.5 Q369.0,65.2 366.7,37.2 Z" fill="#C4B08A" stroke="#4E4630" stroke-width="0.5" stroke-opacity="0.55"/>
<path d="M368.4,35.9 Q365.8,66.6 370.2,85.2 Q371.5,66.4 368.4,35.9 Z" fill="#E6DAC6" stroke="#4E4630" stroke-width="0.5" stroke-opacity="0.55"/>
<path d="M373.3,42.1 Q371.9,69.7 372.0,86.7 Q375.6,69.8 373.3,42.1 Z" fill="#A8BA8A" stroke="#4E4630" stroke-width="0.5" stroke-opacity="0.55"/>
<path d="M376.7,40.9 Q374.1,67.5 373.5,84.0 Q378.6,67.8 376.7,40.9 Z" fill="#ECE2D4" stroke="#4E4630" stroke-width="0.5" stroke-opacity="0.55"/>
<path d="M378.6,39.8 Q375.8,67.3 374.2,84.5 Q379.4,67.6 378.6,39.8 Z" fill="#C4B08A" stroke="#4E4630" stroke-width="0.5" stroke-opacity="0.55"/>
<path d="M382.2,42.0 Q379.0,65.1 376.3,80.0 Q384.0,65.9 382.2,42.0 Z" fill="#A8BA8A" stroke="#4E4630" stroke-width="0.5" stroke-opacity="0.55"/>
<path d="M384.6,38.4 Q382.0,66.8 376.6,84.8 Q385.5,67.5 384.6,38.4 Z" fill="#ECE2D4" stroke="#4E4630" stroke-width="0.5" stroke-opacity="0.55"/>
<path d="M388.3,42.3 Q385.2,65.9 378.8,81.3 Q390.3,67.2 388.3,42.3 Z" fill="#E6DAC6" stroke="#4E4630" stroke-width="0.5" stroke-opacity="0.55"/>
<path d="M391.1,39.9 Q387.8,68.6 378.5,87.0 Q391.8,69.7 391.1,39.9 Z" fill="#E0D0B6" stroke="#4E4630" stroke-width="0.5" stroke-opacity="0.55"/>
<path d="M393.6,36.4 Q390.0,63.3 381.2,80.9 Q395.4,64.9 393.6,36.4 Z" fill="#E6DAC6" stroke="#4E4630" stroke-width="0.5" stroke-opacity="0.55"/>
<path d="M398.0,40.7 Q394.4,64.9 383.2,81.0 Q399.2,66.7 398.0,40.7 Z" fill="#DCD0B2" stroke="#4E4630" stroke-width="0.5" stroke-opacity="0.55"/>
<path d="M399.8,39.8 Q395.3,66.8 382.5,85.1 Q400.2,68.7 399.8,39.8 Z" fill="#E6DAC6" stroke="#4E4630" stroke-width="0.5" stroke-opacity="0.55"/>
<path d="M403.5,41.9 Q399.5,64.9 386.0,80.6 Q403.7,66.8 403.5,41.9 Z" fill="#E6DAC6" stroke="#4E4630" stroke-width="0.5" stroke-opacity="0.55"/>
<path d="M407.4,39.6 Q402.5,65.3 386.4,83.2 Q407.1,67.5 407.4,39.6 Z" fill="#D0C09A" stroke="#4E4630" stroke-width="0.5" stroke-opacity="0.55"/>
<path d="M408.1,39.3 Q404.3,63.8 388.1,80.2 Q408.1,65.7 408.1,39.3 Z" fill="#94B47E" stroke="#4E4630" stroke-width="0.5" stroke-opacity="0.55"/>
<path d="M410.7,35.8 Q405.9,65.2 386.7,85.1 Q411.2,67.8 410.7,35.8 Z" fill="#DCD0B2" stroke="#4E4630" stroke-width="0.5" stroke-opacity="0.55"/>
<path d="M415.7,38.9 Q410.7,67.2 387.8,86.6 Q415.0,69.7 415.7,38.9 Z" fill="#E0D0B6" stroke="#4E4630" stroke-width="0.5" stroke-opacity="0.55"/>
<path d="M419.4,42.5 Q414.3,64.6 393.0,80.8 Q418.6,67.6 419.4,42.5 Z" fill="#ECE2D4" stroke="#4E4630" stroke-width="0.5" stroke-opacity="0.55"/>
<path d="M324.8,35.6 Q325.5,65.2 351.0,81.5 Q328.9,63.3 324.8,35.6 Z" fill="#ECE2D4" stroke="#4E4630" stroke-width="0.5" stroke-opacity="0.55"/>
<path d="M325.6,40.3 Q326.5,66.1 350.4,80.3 Q330.6,63.6 325.6,40.3 Z" fill="#E6DAC6" stroke="#4E4630" stroke-width="0.5" stroke-opacity="0.55"/>
<path d="M330.5,37.4 Q330.2,66.6 353.8,82.3 Q334.7,64.3 330.5,37.4 Z" fill="#94B47E" stroke="#4E4630" stroke-width="0.5" stroke-opacity="0.55"/>
<path d="M332.2,36.4 Q333.1,63.8 353.3,79.7 Q336.3,62.3 332.2,36.4 Z" fill="#A8BA8A" stroke="#4E4630" stroke-width="0.5" stroke-opacity="0.55"/>
<path d="M334.8,37.8 Q335.0,68.0 356.9,85.0 Q338.8,66.2 334.8,37.8 Z" fill="#D0C09A" stroke="#4E4630" stroke-width="0.5" stroke-opacity="0.55"/>
<path d="M336.6,43.5 Q337.5,70.2 357.9,85.6 Q341.0,68.4 336.6,43.5 Z" fill="#DCD0B2" stroke="#4E4630" stroke-width="0.5" stroke-opacity="0.55"/>
<path d="M339.5,36.7 Q339.2,66.6 358.1,83.5 Q344.4,64.5 339.5,36.7 Z" fill="#94B47E" stroke="#4E4630" stroke-width="0.5" stroke-opacity="0.55"/>
<path d="M342.8,40.7 Q341.7,68.8 359.8,84.3 Q346.9,66.8 342.8,40.7 Z" fill="#D0C09A" stroke="#4E4630" stroke-width="0.5" stroke-opacity="0.55"/>
<path d="M345.0,37.3 Q344.6,68.9 361.6,87.2 Q349.0,67.4 345.0,37.3 Z" fill="#ECE2D4" stroke="#4E4630" stroke-width="0.5" stroke-opacity="0.55"/>
<path d="M347.0,42.7 Q346.5,69.1 361.4,84.2 Q349.6,68.0 347.0,42.7 Z" fill="#D0C09A" stroke="#4E4630" stroke-width="0.5" stroke-opacity="0.55"/>
<path d="M350.9,38.2 Q349.9,66.7 362.8,83.2 Q355.5,65.2 350.9,38.2 Z" fill="#ECE2D4" stroke="#4E4630" stroke-width="0.5" stroke-opacity="0.55"/>
<path d="M353.2,38.2 Q351.8,64.4 362.9,79.7 Q356.2,63.4 353.2,38.2 Z" fill="#94B47E" stroke="#4E4630" stroke-width="0.5" stroke-opacity="0.55"/>
<path d="M356.2,36.6 Q355.5,65.4 364.8,82.6 Q358.9,64.8 356.2,36.6 Z" fill="#A8BA8A" stroke="#4E4630" stroke-width="0.5" stroke-opacity="0.55"/>
<path d="M358.4,40.2 Q356.1,65.8 365.4,80.6 Q361.2,64.9 358.4,40.2 Z" fill="#E6DAC6" stroke="#4E4630" stroke-width="0.5" stroke-opacity="0.55"/>
<path d="M361.5,40.6 Q359.7,68.2 367.4,84.6 Q363.8,67.6 361.5,40.6 Z" fill="#A8BA8A" stroke="#4E4630" stroke-width="0.5" stroke-opacity="0.55"/>
<path d="M362.7,41.9 Q361.2,66.1 367.4,80.6 Q364.6,65.7 362.7,41.9 Z" fill="#ECE2D4" stroke="#4E4630" stroke-width="0.5" stroke-opacity="0.55"/>
<path d="M366.0,40.6 Q364.2,66.6 369.0,82.3 Q368.9,66.3 366.0,40.6 Z" fill="#C4B08A" stroke="#4E4630" stroke-width="0.5" stroke-opacity="0.55"/>
<path d="M369.2,40.9 Q366.1,69.3 370.5,86.6 Q371.5,69.1 369.2,40.9 Z" fill="#ECE2D4" stroke="#4E4630" stroke-width="0.5" stroke-opacity="0.55"/>
<path d="M372.1,43.5 Q370.2,66.5 371.6,80.7 Q374.0,66.6 372.1,43.5 Z" fill="#DCD0B2" stroke="#4E4630" stroke-width="0.5" stroke-opacity="0.55"/>
<path d="M373.6,41.7 Q371.3,69.7 372.1,86.9 Q376.1,69.8 373.6,41.7 Z" fill="#D0C09A" stroke="#4E4630" stroke-width="0.5" stroke-opacity="0.55"/>
<path d="M376.0,41.3 Q373.3,67.6 373.2,83.9 Q379.1,67.9 376.0,41.3 Z" fill="#ECE2D4" stroke="#4E4630" stroke-width="0.5" stroke-opacity="0.55"/>
<path d="M378.3,42.9 Q375.3,68.2 374.1,84.2 Q379.3,68.6 378.3,42.9 Z" fill="#ECE2D4" stroke="#4E4630" stroke-width="0.5" stroke-opacity="0.55"/>
<path d="M381.3,41.7 Q377.6,66.8 375.5,82.9 Q383.1,67.6 381.3,41.7 Z" fill="#E6DAC6" stroke="#4E4630" stroke-width="0.5" stroke-opacity="0.55"/>
<path d="M383.9,36.9 Q380.6,67.4 375.9,86.7 Q385.2,68.1 383.9,36.9 Z" fill="#D0C09A" stroke="#4E4630" stroke-width="0.5" stroke-opacity="0.55"/>
<path d="M386.3,35.7 Q382.8,62.6 378.1,79.9 Q387.2,63.4 386.3,35.7 Z" fill="#A8BA8A" stroke="#4E4630" stroke-width="0.5" stroke-opacity="0.55"/>
<path d="M389.9,37.1 Q386.4,66.5 378.5,85.4 Q392.2,67.8 389.9,37.1 Z" fill="#94B47E" stroke="#4E4630" stroke-width="0.5" stroke-opacity="0.55"/>
<path d="M393.0,42.5 Q390.3,66.7 380.6,82.2 Q393.7,67.7 393.0,42.5 Z" fill="#E0D0B6" stroke="#4E4630" stroke-width="0.5" stroke-opacity="0.55"/>
<path d="M395.2,35.6 Q392.4,64.0 381.5,82.1 Q395.6,64.9 395.2,35.6 Z" fill="#ECE2D4" stroke="#4E4630" stroke-width="0.5" stroke-opacity="0.55"/>
<path d="M398.1,40.7 Q394.5,66.0 382.6,82.7 Q399.3,67.8 398.1,40.7 Z" fill="#ECE2D4" stroke="#4E4630" stroke-width="0.5" stroke-opacity="0.55"/>
<path d="M401.0,41.9 Q396.6,64.5 384.9,80.2 Q401.1,66.4 401.0,41.9 Z" fill="#DCD0B2" stroke="#4E4630" stroke-width="0.5" stroke-opacity="0.55"/>
<path d="M402.4,43.0 Q398.8,69.3 382.8,86.5 Q401.8,70.6 402.4,43.0 Z" fill="#ECE2D4" stroke="#4E4630" stroke-width="0.5" stroke-opacity="0.55"/>
<path d="M406.5,35.9 Q402.4,65.1 385.4,84.4 Q407.2,67.2 406.5,35.9 Z" fill="#ECE2D4" stroke="#4E4630" stroke-width="0.5" stroke-opacity="0.55"/>
<path d="M406.6,37.2 Q401.6,64.8 385.7,83.7 Q406.7,67.0 406.6,37.2 Z" fill="#ECE2D4" stroke="#4E4630" stroke-width="0.5" stroke-opacity="0.55"/>
<path d="M410.3,39.8 Q406.1,66.4 387.0,84.2 Q410.3,68.6 410.3,39.8 Z" fill="#ECE2D4" stroke="#4E4630" stroke-width="0.5" stroke-opacity="0.55"/>
<path d="M413.4,42.0 Q409.4,66.7 388.8,83.3 Q412.2,68.4 413.4,42.0 Z" fill="#A8BA8A" stroke="#4E4630" stroke-width="0.5" stroke-opacity="0.55"/>
<path d="M415.8,41.2 Q411.8,66.8 389.4,84.0 Q415.4,69.0 415.8,41.2 Z" fill="#A8BA8A" stroke="#4E4630" stroke-width="0.5" stroke-opacity="0.55"/>
<path d="M417.0,39.3 Q412.3,66.3 389.4,84.7 Q416.9,69.1 417.0,39.3 Z" fill="#ECE2D4" stroke="#4E4630" stroke-width="0.5" stroke-opacity="0.55"/>
</g>
<path d="M346.7,82.6 Q371.2,77.0 395.8,82.6 L395.8,84.5 L346.7,84.5 Z" fill="#33382E" opacity="0.8"/>
<path d="M339.0,63.4 Q344.2,82.2 361.6,85.4" fill="none" stroke="#2A3466" stroke-width="0.9" opacity="0.7"/>
<path d="M339.0,66.2 Q344.2,85.0 361.6,88.3" fill="none" stroke="#2A3466" stroke-width="0.9" opacity="0.7"/>
<path d="M339.0,69.0 Q344.2,87.8 361.6,91.1" fill="none" stroke="#2A3466" stroke-width="0.9" opacity="0.7"/>
<path d="M337.7,54.0 L340.9,51.1 Q371.2,28.6 401.6,50.2 L404.8,53.0" fill="none" stroke="#46549A" stroke-width="1.9"/>
<path d="M401.6,50.2 Q403.5,74.2 385.4,84.5" fill="none" stroke="#46549A" stroke-width="1.1" opacity="0.8"/>
<path d="M340.9,51.1 Q340.3,77.4 355.8,84.5" fill="none" stroke="#46549A" stroke-width="1" opacity="0.5"/>
</g>
<rect x="339.6" y="37.9" width="63.3" height="46.2" fill="none" stroke="#171B2A" stroke-width="1.4"/>
<g clip-path="url(#c6)">
<rect x="403.5" y="37.5" width="63.5" height="47.0" fill="#B4B8B4"/>
<path d="M404.9,33.5 Q402.3,45.8 404.5,53.5 Q407.0,45.9 404.9,33.5 Z" fill="#94B47E" stroke="#4E4630" stroke-width="0.5" stroke-opacity="0.55"/>
<path d="M406.0,33.5 Q404.8,45.9 406.1,53.5 Q407.7,45.9 406.0,33.5 Z" fill="#D0C09A" stroke="#4E4630" stroke-width="0.5" stroke-opacity="0.55"/>
<path d="M409.2,33.5 Q407.1,46.0 410.2,53.5 Q411.6,45.8 409.2,33.5 Z" fill="#D0C09A" stroke="#4E4630" stroke-width="0.5" stroke-opacity="0.55"/>
<path d="M410.9,33.5 Q409.6,46.0 411.7,53.5 Q413.1,45.8 410.9,33.5 Z" fill="#DCD0B2" stroke="#4E4630" stroke-width="0.5" stroke-opacity="0.55"/>
<path d="M414.3,33.5 Q413.1,46.0 415.9,53.5 Q416.4,45.7 414.3,33.5 Z" fill="#E0D0B6" stroke="#4E4630" stroke-width="0.5" stroke-opacity="0.55"/>
<path d="M416.5,33.5 Q413.8,45.7 414.9,53.5 Q418.0,46.0 416.5,33.5 Z" fill="#E6DAC6" stroke="#4E4630" stroke-width="0.5" stroke-opacity="0.55"/>
<path d="M418.7,33.5 Q417.1,46.0 419.4,53.5 Q420.4,45.8 418.7,33.5 Z" fill="#E0D0B6" stroke="#4E4630" stroke-width="0.5" stroke-opacity="0.55"/>
<path d="M419.8,33.5 Q418.3,46.0 421.5,53.5 Q422.9,45.7 419.8,33.5 Z" fill="#E0D0B6" stroke="#4E4630" stroke-width="0.5" stroke-opacity="0.55"/>
<path d="M421.1,33.5 Q420.1,45.9 422.0,53.5 Q423.1,45.8 421.1,33.5 Z" fill="#ECE2D4" stroke="#4E4630" stroke-width="0.5" stroke-opacity="0.55"/>
<path d="M425.0,33.5 Q423.8,45.9 425.5,53.5 Q427.0,45.8 425.0,33.5 Z" fill="#DCD0B2" stroke="#4E4630" stroke-width="0.5" stroke-opacity="0.55"/>
<path d="M426.8,33.5 Q423.8,45.7 425.4,53.5 Q428.2,46.0 426.8,33.5 Z" fill="#A8BA8A" stroke="#4E4630" stroke-width="0.5" stroke-opacity="0.55"/>
<path d="M428.0,33.5 Q426.6,45.8 427.2,53.5 Q429.2,46.0 428.0,33.5 Z" fill="#94B47E" stroke="#4E4630" stroke-width="0.5" stroke-opacity="0.55"/>
<path d="M431.9,33.5 Q430.0,45.8 430.5,53.5 Q434.0,46.1 431.9,33.5 Z" fill="#DCD0B2" stroke="#4E4630" stroke-width="0.5" stroke-opacity="0.55"/>
<path d="M432.2,33.5 Q430.7,46.0 433.3,53.5 Q435.1,45.7 432.2,33.5 Z" fill="#ECE2D4" stroke="#4E4630" stroke-width="0.5" stroke-opacity="0.55"/>
<path d="M436.0,33.5 Q433.7,45.9 435.8,53.5 Q437.1,45.9 436.0,33.5 Z" fill="#D0C09A" stroke="#4E4630" stroke-width="0.5" stroke-opacity="0.55"/>
<path d="M437.2,33.5 Q436.0,45.8 435.3,53.5 Q438.6,46.1 437.2,33.5 Z" fill="#94B47E" stroke="#4E4630" stroke-width="0.5" stroke-opacity="0.55"/>
<path d="M439.4,33.5 Q437.8,45.9 439.4,53.5 Q441.0,45.9 439.4,33.5 Z" fill="#D0C09A" stroke="#4E4630" stroke-width="0.5" stroke-opacity="0.55"/>
<path d="M441.8,33.5 Q439.3,45.9 441.4,53.5 Q443.2,45.9 441.8,33.5 Z" fill="#C4B08A" stroke="#4E4630" stroke-width="0.5" stroke-opacity="0.55"/>
<path d="M445.3,33.5 Q444.1,45.8 443.4,53.5 Q447.0,46.1 445.3,33.5 Z" fill="#94B47E" stroke="#4E4630" stroke-width="0.5" stroke-opacity="0.55"/>
<path d="M446.4,33.5 Q444.3,45.8 445.3,53.5 Q447.7,46.0 446.4,33.5 Z" fill="#E6DAC6" stroke="#4E4630" stroke-width="0.5" stroke-opacity="0.55"/>
<path d="M447.6,33.5 Q447.0,46.0 449.2,53.5 Q449.6,45.8 447.6,33.5 Z" fill="#E6DAC6" stroke="#4E4630" stroke-width="0.5" stroke-opacity="0.55"/>
<path d="M450.8,33.5 Q449.2,45.8 449.3,53.5 Q452.6,46.0 450.8,33.5 Z" fill="#D0C09A" stroke="#4E4630" stroke-width="0.5" stroke-opacity="0.55"/>
<path d="M453.1,33.5 Q451.3,46.0 453.6,53.5 Q455.0,45.9 453.1,33.5 Z" fill="#E6DAC6" stroke="#4E4630" stroke-width="0.5" stroke-opacity="0.55"/>
<path d="M455.9,33.5 Q454.5,46.1 457.8,53.5 Q457.1,45.8 455.9,33.5 Z" fill="#E0D0B6" stroke="#4E4630" stroke-width="0.5" stroke-opacity="0.55"/>
<path d="M458.4,33.5 Q457.6,45.9 457.3,53.5 Q460.1,46.0 458.4,33.5 Z" fill="#D0C09A" stroke="#4E4630" stroke-width="0.5" stroke-opacity="0.55"/>
<path d="M459.1,33.5 Q458.1,46.0 461.0,53.5 Q460.9,45.8 459.1,33.5 Z" fill="#94B47E" stroke="#4E4630" stroke-width="0.5" stroke-opacity="0.55"/>
<path d="M461.9,33.5 Q460.4,45.9 461.4,53.5 Q462.9,45.9 461.9,33.5 Z" fill="#94B47E" stroke="#4E4630" stroke-width="0.5" stroke-opacity="0.55"/>
<path d="M464.1,33.5 Q462.2,45.9 464.3,53.5 Q466.3,45.9 464.1,33.5 Z" fill="#A8BA8A" stroke="#4E4630" stroke-width="0.5" stroke-opacity="0.55"/>
<path d="M403.5,56.3 L435.2,84.5 L403.5,84.5 Z" fill="#807E68"/>
<path d="M467.0,51.6 L467.0,84.5 L435.2,84.5 Z" fill="#5C6EC6"/>
<path d="M405.4,51.1 Q435.2,28.6 465.1,50.2 Q467.0,74.2 449.2,84.5 L420.0,84.5 Q404.8,77.4 405.4,51.1 Z" fill="#C8BE9E"/>
<g clip-path="url(#b6)">
<path d="M388.6,38.9 Q389.4,70.2 418.3,87.3 Q393.0,68.0 388.6,38.9 Z" fill="#C4B08A" stroke="#4E4630" stroke-width="0.5" stroke-opacity="0.55"/>
<path d="M393.2,42.7 Q393.8,69.8 418.5,84.6 Q397.2,67.8 393.2,42.7 Z" fill="#A8BA8A" stroke="#4E4630" stroke-width="0.5" stroke-opacity="0.55"/>
<path d="M396.0,43.4 Q395.9,71.3 420.5,86.1 Q400.3,68.8 396.0,43.4 Z" fill="#E6DAC6" stroke="#4E4630" stroke-width="0.5" stroke-opacity="0.55"/>
<path d="M399.3,42.8 Q398.7,67.1 418.5,79.9 Q403.3,64.7 399.3,42.8 Z" fill="#ECE2D4" stroke="#4E4630" stroke-width="0.5" stroke-opacity="0.55"/>
<path d="M401.3,40.8 Q400.8,68.2 421.0,83.1 Q405.2,66.2 401.3,40.8 Z" fill="#DCD0B2" stroke="#4E4630" stroke-width="0.5" stroke-opacity="0.55"/>
<path d="M405.6,39.6 Q404.2,68.5 423.3,84.2 Q409.8,66.3 405.6,39.6 Z" fill="#E0D0B6" stroke="#4E4630" stroke-width="0.5" stroke-opacity="0.55"/>
<path d="M408.5,42.5 Q408.3,67.8 423.7,82.3 Q411.5,66.6 408.5,42.5 Z" fill="#A8BA8A" stroke="#4E4630" stroke-width="0.5" stroke-opacity="0.55"/>
<path d="M411.2,38.1 Q409.9,67.7 425.6,84.5 Q414.4,66.3 411.2,38.1 Z" fill="#E0D0B6" stroke="#4E4630" stroke-width="0.5" stroke-opacity="0.55"/>
<path d="M414.6,37.6 Q413.1,68.5 427.4,86.2 Q418.5,67.0 414.6,37.6 Z" fill="#ECE2D4" stroke="#4E4630" stroke-width="0.5" stroke-opacity="0.55"/>
<path d="M416.7,37.3 Q414.9,64.8 426.9,80.6 Q420.6,63.5 416.7,37.3 Z" fill="#ECE2D4" stroke="#4E4630" stroke-width="0.5" stroke-opacity="0.55"/>
<path d="M420.0,42.0 Q419.4,66.7 428.5,81.4 Q423.0,66.0 420.0,42.0 Z" fill="#DCD0B2" stroke="#4E4630" stroke-width="0.5" stroke-opacity="0.55"/>
<path d="M424.3,42.3 Q422.3,69.0 430.9,84.7 Q428.0,68.2 424.3,42.3 Z" fill="#ECE2D4" stroke="#4E4630" stroke-width="0.5" stroke-opacity="0.55"/>
<path d="M427.1,42.0 Q425.8,66.1 431.5,80.5 Q429.5,65.7 427.1,42.0 Z" fill="#A8BA8A" stroke="#4E4630" stroke-width="0.5" stroke-opacity="0.55"/>
<path d="M428.7,40.8 Q427.3,67.5 432.6,83.7 Q431.4,67.2 428.7,40.8 Z" fill="#E6DAC6" stroke="#4E4630" stroke-width="0.5" stroke-opacity="0.55"/>
<path d="M431.5,39.1 Q428.9,64.8 433.6,80.4 Q433.9,64.6 431.5,39.1 Z" fill="#D0C09A" stroke="#4E4630" stroke-width="0.5" stroke-opacity="0.55"/>
<path d="M434.2,40.9 Q431.8,66.7 434.8,82.4 Q436.4,66.6 434.2,40.9 Z" fill="#E0D0B6" stroke="#4E4630" stroke-width="0.5" stroke-opacity="0.55"/>
<path d="M438.4,41.9 Q435.8,66.4 436.6,81.5 Q440.5,66.6 438.4,41.9 Z" fill="#94B47E" stroke="#4E4630" stroke-width="0.5" stroke-opacity="0.55"/>
<path d="M440.0,36.9 Q438.1,66.8 437.1,85.2 Q442.0,67.0 440.0,36.9 Z" fill="#ECE2D4" stroke="#4E4630" stroke-width="0.5" stroke-opacity="0.55"/>
<path d="M443.7,39.0 Q441.3,66.5 438.7,83.7 Q445.9,67.0 443.7,39.0 Z" fill="#E6DAC6" stroke="#4E4630" stroke-width="0.5" stroke-opacity="0.55"/>
<path d="M447.3,41.8 Q444.2,67.9 440.1,84.4 Q448.4,68.6 447.3,41.8 Z" fill="#94B47E" stroke="#4E4630" stroke-width="0.5" stroke-opacity="0.55"/>
<path d="M450.2,35.8 Q446.2,66.1 441.1,85.5 Q452.0,67.1 450.2,35.8 Z" fill="#C4B08A" stroke="#4E4630" stroke-width="0.5" stroke-opacity="0.55"/>
<path d="M454.6,38.3 Q450.6,65.0 443.5,82.6 Q455.3,66.2 454.6,38.3 Z" fill="#E0D0B6" stroke="#4E4630" stroke-width="0.5" stroke-opacity="0.55"/>
<path d="M457.8,40.1 Q455.3,64.5 445.7,80.0 Q458.9,65.6 457.8,40.1 Z" fill="#E6DAC6" stroke="#4E4630" stroke-width="0.5" stroke-opacity="0.55"/>
<path d="M459.7,38.6 Q455.9,65.3 445.6,82.8 Q461.5,67.1 459.7,38.6 Z" fill="#94B47E" stroke="#4E4630" stroke-width="0.5" stroke-opacity="0.55"/>
<path d="M463.1,43.0 Q459.7,68.4 446.1,85.1 Q463.8,70.1 463.1,43.0 Z" fill="#DCD0B2" stroke="#4E4630" stroke-width="0.5" stroke-opacity="0.55"/>
<path d="M464.6,38.7 Q460.4,63.6 448.5,80.6 Q465.3,65.5 464.6,38.7 Z" fill="#94B47E" stroke="#4E4630" stroke-width="0.5" stroke-opacity="0.55"/>
<path d="M469.8,38.7 Q465.3,63.0 451.2,79.8 Q470.0,65.1 469.8,38.7 Z" fill="#ECE2D4" stroke="#4E4630" stroke-width="0.5" stroke-opacity="0.55"/>
<path d="M473.0,36.4 Q469.7,63.7 451.9,81.3 Q472.8,65.2 473.0,36.4 Z" fill="#94B47E" stroke="#4E4630" stroke-width="0.5" stroke-opacity="0.55"/>
<path d="M473.9,41.5 Q469.9,67.0 451.0,84.0 Q472.9,68.5 473.9,41.5 Z" fill="#E0D0B6" stroke="#4E4630" stroke-width="0.5" stroke-opacity="0.55"/>
<path d="M478.2,35.9 Q473.1,65.1 452.2,85.0 Q477.0,67.1 478.2,35.9 Z" fill="#D0C09A" stroke="#4E4630" stroke-width="0.5" stroke-opacity="0.55"/>
<path d="M482.3,42.5 Q478.3,65.2 456.7,80.7 Q481.8,67.5 482.3,42.5 Z" fill="#94B47E" stroke="#4E4630" stroke-width="0.5" stroke-opacity="0.55"/>
<path d="M389.1,39.7 Q389.7,65.9 414.1,80.2 Q393.3,63.7 389.1,39.7 Z" fill="#A8BA8A" stroke="#4E4630" stroke-width="0.5" stroke-opacity="0.55"/>
<path d="M391.6,38.9 Q391.9,65.5 415.2,79.9 Q395.4,63.5 391.6,38.9 Z" fill="#C4B08A" stroke="#4E4630" stroke-width="0.5" stroke-opacity="0.55"/>
<path d="M395.2,37.6 Q395.5,65.6 417.5,81.1 Q398.4,64.0 395.2,37.6 Z" fill="#ECE2D4" stroke="#4E4630" stroke-width="0.5" stroke-opacity="0.55"/>
<path d="M397.3,41.2 Q397.1,66.8 418.0,80.6 Q402.3,64.1 397.3,41.2 Z" fill="#ECE2D4" stroke="#4E4630" stroke-width="0.5" stroke-opacity="0.55"/>
<path d="M400.6,39.9 Q400.8,65.5 419.3,79.9 Q404.5,63.8 400.6,39.9 Z" fill="#E6DAC6" stroke="#4E4630" stroke-width="0.5" stroke-opacity="0.55"/>
<path d="M402.3,38.1 Q402.0,66.0 420.9,81.7 Q407.0,63.9 402.3,38.1 Z" fill="#A8BA8A" stroke="#4E4630" stroke-width="0.5" stroke-opacity="0.55"/>
<path d="M404.1,43.3 Q404.3,69.5 422.7,84.4 Q408.2,67.7 404.1,43.3 Z" fill="#DCD0B2" stroke="#4E4630" stroke-width="0.5" stroke-opacity="0.55"/>
<path d="M406.7,36.9 Q406.4,68.3 424.5,86.4 Q409.7,67.1 406.7,36.9 Z" fill="#D0C09A" stroke="#4E4630" stroke-width="0.5" stroke-opacity="0.55"/>
<path d="M409.0,40.3 Q407.7,66.5 423.5,80.9 Q413.2,64.5 409.0,40.3 Z" fill="#D0C09A" stroke="#4E4630" stroke-width="0.5" stroke-opacity="0.55"/>
<path d="M413.2,40.9 Q413.1,66.7 425.6,81.9 Q416.7,65.6 413.2,40.9 Z" fill="#D0C09A" stroke="#4E4630" stroke-width="0.5" stroke-opacity="0.55"/>
<path d="M416.5,37.2 Q415.3,64.4 426.8,80.3 Q418.7,63.6 416.5,37.2 Z" fill="#E6DAC6" stroke="#4E4630" stroke-width="0.5" stroke-opacity="0.55"/>
<path d="M417.8,40.8 Q416.4,66.6 427.6,81.6 Q422.0,65.3 417.8,40.8 Z" fill="#C4B08A" stroke="#4E4630" stroke-width="0.5" stroke-opacity="0.55"/>
<path d="M419.5,41.1 Q417.4,65.8 427.9,79.8 Q422.8,64.6 419.5,41.1 Z" fill="#A8BA8A" stroke="#4E4630" stroke-width="0.5" stroke-opacity="0.55"/>
<path d="M424.3,41.9 Q421.9,69.2 431.0,85.2 Q427.1,68.4 424.3,41.9 Z" fill="#A8BA8A" stroke="#4E4630" stroke-width="0.5" stroke-opacity="0.55"/>
<path d="M425.5,42.2 Q423.5,66.4 430.8,80.7 Q428.9,65.7 425.5,42.2 Z" fill="#E0D0B6" stroke="#4E4630" stroke-width="0.5" stroke-opacity="0.55"/>
<path d="M427.4,38.5 Q426.3,67.3 432.1,84.6 Q430.1,66.9 427.4,38.5 Z" fill="#E6DAC6" stroke="#4E4630" stroke-width="0.5" stroke-opacity="0.55"/>
<path d="M430.4,37.0 Q428.1,65.1 433.1,82.2 Q432.4,64.9 430.4,37.0 Z" fill="#94B47E" stroke="#4E4630" stroke-width="0.5" stroke-opacity="0.55"/>
<path d="M432.9,42.9 Q430.4,70.6 434.4,87.5 Q436.2,70.4 432.9,42.9 Z" fill="#E6DAC6" stroke="#4E4630" stroke-width="0.5" stroke-opacity="0.55"/>
<path d="M436.2,41.5 Q433.6,67.5 435.6,83.5 Q439.4,67.6 436.2,41.5 Z" fill="#E6DAC6" stroke="#4E4630" stroke-width="0.5" stroke-opacity="0.55"/>
<path d="M438.6,37.9 Q436.2,66.5 436.6,84.2 Q441.5,66.7 438.6,37.9 Z" fill="#E0D0B6" stroke="#4E4630" stroke-width="0.5" stroke-opacity="0.55"/>
<path d="M441.3,42.6 Q439.5,69.6 437.5,86.3 Q443.4,69.9 441.3,42.6 Z" fill="#A8BA8A" stroke="#4E4630" stroke-width="0.5" stroke-opacity="0.55"/>
<path d="M444.8,43.2 Q441.9,67.1 439.4,82.3 Q447.7,67.9 444.8,43.2 Z" fill="#A8BA8A" stroke="#4E4630" stroke-width="0.5" stroke-opacity="0.55"/>
<path d="M446.7,39.1 Q443.9,65.0 440.3,81.5 Q449.1,65.8 446.7,39.1 Z" fill="#D0C09A" stroke="#4E4630" stroke-width="0.5" stroke-opacity="0.55"/>
<path d="M450.7,42.0 Q447.2,68.3 441.3,85.3 Q451.6,69.2 450.7,42.0 Z" fill="#E6DAC6" stroke="#4E4630" stroke-width="0.5" stroke-opacity="0.55"/>
<path d="M452.7,39.2 Q449.6,63.9 443.3,79.8 Q454.1,64.9 452.7,39.2 Z" fill="#E6DAC6" stroke="#4E4630" stroke-width="0.5" stroke-opacity="0.55"/>
<path d="M455.6,38.8 Q452.9,67.8 442.9,86.2 Q456.2,68.7 455.6,38.8 Z" fill="#D0C09A" stroke="#4E4630" stroke-width="0.5" stroke-opacity="0.55"/>
<path d="M458.2,36.2 Q454.8,62.5 445.8,79.5 Q459.6,63.8 458.2,36.2 Z" fill="#DCD0B2" stroke="#4E4630" stroke-width="0.5" stroke-opacity="0.55"/>
<path d="M459.8,36.4 Q456.6,63.7 446.0,81.4 Q460.1,64.8 459.8,36.4 Z" fill="#A8BA8A" stroke="#4E4630" stroke-width="0.5" stroke-opacity="0.55"/>
<path d="M462.0,39.2 Q458.5,64.3 447.3,80.8 Q462.9,65.9 462.0,39.2 Z" fill="#A8BA8A" stroke="#4E4630" stroke-width="0.5" stroke-opacity="0.55"/>
<path d="M464.9,38.7 Q461.3,64.3 448.4,81.1 Q464.6,65.6 464.9,38.7 Z" fill="#E0D0B6" stroke="#4E4630" stroke-width="0.5" stroke-opacity="0.55"/>
<path d="M468.4,37.4 Q465.0,63.3 450.3,80.3 Q468.2,64.7 468.4,37.4 Z" fill="#94B47E" stroke="#4E4630" stroke-width="0.5" stroke-opacity="0.55"/>
<path d="M471.7,40.1 Q468.2,67.3 449.6,85.0 Q471.6,69.0 471.7,40.1 Z" fill="#D0C09A" stroke="#4E4630" stroke-width="0.5" stroke-opacity="0.55"/>
<path d="M473.0,35.7 Q468.6,63.8 451.2,82.6 Q472.8,65.8 473.0,35.7 Z" fill="#A8BA8A" stroke="#4E4630" stroke-width="0.5" stroke-opacity="0.55"/>
<path d="M475.3,40.8 Q471.0,64.8 453.0,81.2 Q474.4,66.6 475.3,40.8 Z" fill="#94B47E" stroke="#4E4630" stroke-width="0.5" stroke-opacity="0.55"/>
<path d="M477.8,38.2 Q473.5,63.2 454.6,80.3 Q476.8,65.0 477.8,38.2 Z" fill="#D0C09A" stroke="#4E4630" stroke-width="0.5" stroke-opacity="0.55"/>
<path d="M481.1,42.0 Q476.2,66.1 454.4,83.2 Q481.1,69.2 481.1,42.0 Z" fill="#94B47E" stroke="#4E4630" stroke-width="0.5" stroke-opacity="0.55"/>
</g>
<path d="M411.1,82.6 Q435.2,77.0 459.4,82.6 L459.4,84.5 L411.1,84.5 Z" fill="#33382E" opacity="0.8"/>
<path d="M403.5,63.4 Q408.6,82.2 425.7,85.4" fill="none" stroke="#2A3466" stroke-width="0.9" opacity="0.7"/>
<path d="M403.5,66.2 Q408.6,85.0 425.7,88.3" fill="none" stroke="#2A3466" stroke-width="0.9" opacity="0.7"/>
<path d="M403.5,69.0 Q408.6,87.8 425.7,91.1" fill="none" stroke="#2A3466" stroke-width="0.9" opacity="0.7"/>
<path d="M402.2,54.0 L405.4,51.1 Q435.2,28.6 465.1,50.2 L468.3,53.0" fill="none" stroke="#46549A" stroke-width="1.9"/>
<path d="M465.1,50.2 Q467.0,74.2 449.2,84.5" fill="none" stroke="#46549A" stroke-width="1.1" opacity="0.8"/>
<path d="M405.4,51.1 Q404.8,77.4 420.0,84.5" fill="none" stroke="#46549A" stroke-width="1" opacity="0.5"/>
</g>
<rect x="404.1" y="37.9" width="62.3" height="46.2" fill="none" stroke="#171B2A" stroke-width="1.4"/>
<g clip-path="url(#c7)">
<rect x="467" y="37.5" width="70.70000000000005" height="47.0" fill="#C0C4C4"/>
<path d="M469.0,33.5 Q468.4,45.9 470.2,53.5 Q470.9,45.8 469.0,33.5 Z" fill="#C4A880" stroke="#4A3822" stroke-width="0.5" stroke-opacity="0.55"/>
<path d="M470.3,33.5 Q468.3,45.8 469.0,53.5 Q472.6,46.1 470.3,33.5 Z" fill="#E2D4BE" stroke="#4A3822" stroke-width="0.5" stroke-opacity="0.55"/>
<path d="M473.4,33.5 Q470.9,46.0 474.2,53.5 Q475.0,45.8 473.4,33.5 Z" fill="#D2BA94" stroke="#4A3822" stroke-width="0.5" stroke-opacity="0.55"/>
<path d="M475.3,33.5 Q473.0,45.9 475.3,53.5 Q476.6,45.9 475.3,33.5 Z" fill="#DCC8A8" stroke="#4A3822" stroke-width="0.5" stroke-opacity="0.55"/>
<path d="M477.5,33.5 Q475.7,46.0 478.0,53.5 Q478.6,45.9 477.5,33.5 Z" fill="#ECE4DA" stroke="#4A3822" stroke-width="0.5" stroke-opacity="0.55"/>
<path d="M479.7,33.5 Q477.3,45.7 478.1,53.5 Q481.4,46.1 479.7,33.5 Z" fill="#DCC8A8" stroke="#4A3822" stroke-width="0.5" stroke-opacity="0.55"/>
<path d="M482.0,33.5 Q480.3,45.9 481.9,53.5 Q484.5,45.9 482.0,33.5 Z" fill="#D8C6A6" stroke="#4A3822" stroke-width="0.5" stroke-opacity="0.55"/>
<path d="M484.2,33.5 Q481.8,46.1 486.0,53.5 Q486.4,45.7 484.2,33.5 Z" fill="#D8C6A6" stroke="#4A3822" stroke-width="0.5" stroke-opacity="0.55"/>
<path d="M486.4,33.5 Q484.4,45.9 486.7,53.5 Q487.8,45.9 486.4,33.5 Z" fill="#F2ECE4" stroke="#4A3822" stroke-width="0.5" stroke-opacity="0.55"/>
<path d="M488.1,33.5 Q485.7,46.0 488.7,53.5 Q489.6,45.9 488.1,33.5 Z" fill="#D2BA94" stroke="#4A3822" stroke-width="0.5" stroke-opacity="0.55"/>
<path d="M490.7,33.5 Q488.7,45.8 489.7,53.5 Q493.1,46.0 490.7,33.5 Z" fill="#C4A880" stroke="#4A3822" stroke-width="0.5" stroke-opacity="0.55"/>
<path d="M492.5,33.5 Q490.4,45.9 492.7,53.5 Q494.9,45.9 492.5,33.5 Z" fill="#ECE4DA" stroke="#4A3822" stroke-width="0.5" stroke-opacity="0.55"/>
<path d="M495.1,33.5 Q492.9,46.0 496.3,53.5 Q496.9,45.8 495.1,33.5 Z" fill="#DCC8A8" stroke="#4A3822" stroke-width="0.5" stroke-opacity="0.55"/>
<path d="M496.5,33.5 Q494.1,45.7 494.8,53.5 Q498.0,46.0 496.5,33.5 Z" fill="#DCC8A8" stroke="#4A3822" stroke-width="0.5" stroke-opacity="0.55"/>
<path d="M499.8,33.5 Q498.2,45.9 499.5,53.5 Q501.3,45.9 499.8,33.5 Z" fill="#F2ECE4" stroke="#4A3822" stroke-width="0.5" stroke-opacity="0.55"/>
<path d="M500.0,33.5 Q497.7,45.7 498.5,53.5 Q502.1,46.1 500.0,33.5 Z" fill="#E8DCC8" stroke="#4A3822" stroke-width="0.5" stroke-opacity="0.55"/>
<path d="M502.9,33.5 Q501.0,45.8 501.4,53.5 Q504.7,46.0 502.9,33.5 Z" fill="#D2BA94" stroke="#4A3822" stroke-width="0.5" stroke-opacity="0.55"/>
<path d="M506.3,33.5 Q504.2,46.0 506.7,53.5 Q507.3,45.9 506.3,33.5 Z" fill="#D2BA94" stroke="#4A3822" stroke-width="0.5" stroke-opacity="0.55"/>
<path d="M507.0,33.5 Q506.0,46.0 508.6,53.5 Q509.4,45.7 507.0,33.5 Z" fill="#C4A880" stroke="#4A3822" stroke-width="0.5" stroke-opacity="0.55"/>
<path d="M510.3,33.5 Q508.0,45.7 508.5,53.5 Q512.3,46.1 510.3,33.5 Z" fill="#E2D4BE" stroke="#4A3822" stroke-width="0.5" stroke-opacity="0.55"/>
<path d="M511.7,33.5 Q509.7,45.8 510.3,53.5 Q512.5,46.0 511.7,33.5 Z" fill="#DCC8A8" stroke="#4A3822" stroke-width="0.5" stroke-opacity="0.55"/>
<path d="M514.5,33.5 Q513.3,46.0 516.1,53.5 Q516.7,45.8 514.5,33.5 Z" fill="#D8C6A6" stroke="#4A3822" stroke-width="0.5" stroke-opacity="0.55"/>
<path d="M517.3,33.5 Q515.7,46.0 518.5,53.5 Q519.6,45.8 517.3,33.5 Z" fill="#E2D4BE" stroke="#4A3822" stroke-width="0.5" stroke-opacity="0.55"/>
<path d="M517.6,33.5 Q516.6,46.0 519.0,53.5 Q519.2,45.8 517.6,33.5 Z" fill="#C4A880" stroke="#4A3822" stroke-width="0.5" stroke-opacity="0.55"/>
<path d="M521.6,33.5 Q519.2,45.8 520.6,53.5 Q522.5,46.0 521.6,33.5 Z" fill="#D2BA94" stroke="#4A3822" stroke-width="0.5" stroke-opacity="0.55"/>
<path d="M523.6,33.5 Q521.3,46.0 524.6,53.5 Q525.3,45.8 523.6,33.5 Z" fill="#E2D4BE" stroke="#4A3822" stroke-width="0.5" stroke-opacity="0.55"/>
<path d="M526.2,33.5 Q525.0,45.9 526.8,53.5 Q527.6,45.9 526.2,33.5 Z" fill="#DCC8A8" stroke="#4A3822" stroke-width="0.5" stroke-opacity="0.55"/>
<path d="M528.5,33.5 Q525.9,45.8 528.0,53.5 Q529.9,45.9 528.5,33.5 Z" fill="#E8DCC8" stroke="#4A3822" stroke-width="0.5" stroke-opacity="0.55"/>
<path d="M530.4,33.5 Q528.3,45.7 528.6,53.5 Q532.3,46.1 530.4,33.5 Z" fill="#D8C6A6" stroke="#4A3822" stroke-width="0.5" stroke-opacity="0.55"/>
<path d="M532.9,33.5 Q530.4,45.7 531.2,53.5 Q534.8,46.1 532.9,33.5 Z" fill="#D2BA94" stroke="#4A3822" stroke-width="0.5" stroke-opacity="0.55"/>
<path d="M534.0,33.5 Q532.4,46.0 535.0,53.5 Q537.0,45.8 534.0,33.5 Z" fill="#D8C6A6" stroke="#4A3822" stroke-width="0.5" stroke-opacity="0.55"/>
<path d="M535.9,33.5 Q533.8,45.8 534.5,53.5 Q538.5,46.1 535.9,33.5 Z" fill="#F2ECE4" stroke="#4A3822" stroke-width="0.5" stroke-opacity="0.55"/>
<path d="M467.0,56.3 L502.4,84.5 L467.0,84.5 Z" fill="#86826A"/>
<path d="M537.7,51.6 L537.7,84.5 L502.4,84.5 Z" fill="#6C8ED6"/>
<path d="M469.1,51.1 Q502.4,28.6 535.6,51.1 Q537.7,74.2 517.9,84.5 L485.4,84.5 Q468.4,77.4 469.1,51.1 Z" fill="#B8A07C"/>
<g clip-path="url(#b7)">
<path d="M451.8,40.1 Q452.1,66.4 479.0,79.9 Q456.7,63.3 451.8,40.1 Z" fill="#F2ECE4" stroke="#4A3822" stroke-width="0.5" stroke-opacity="0.55"/>
<path d="M454.6,41.7 Q454.5,67.0 480.0,79.7 Q459.5,63.7 454.6,41.7 Z" fill="#E8DCC8" stroke="#4A3822" stroke-width="0.5" stroke-opacity="0.55"/>
<path d="M461.2,40.9 Q460.3,68.6 484.8,82.5 Q466.5,65.1 461.2,40.9 Z" fill="#DCC8A8" stroke="#4A3822" stroke-width="0.5" stroke-opacity="0.55"/>
<path d="M463.2,36.8 Q462.1,67.8 486.5,84.1 Q468.1,64.9 463.2,36.8 Z" fill="#DCC8A8" stroke="#4A3822" stroke-width="0.5" stroke-opacity="0.55"/>
<path d="M467.1,42.0 Q466.5,66.8 486.0,80.0 Q471.2,64.5 467.1,42.0 Z" fill="#E2D4BE" stroke="#4A3822" stroke-width="0.5" stroke-opacity="0.55"/>
<path d="M474.4,40.2 Q472.6,70.7 492.2,87.3 Q478.7,68.4 474.4,40.2 Z" fill="#DCC8A8" stroke="#4A3822" stroke-width="0.5" stroke-opacity="0.55"/>
<path d="M475.6,38.0 Q474.4,69.4 492.5,87.0 Q479.1,67.8 475.6,38.0 Z" fill="#DCC8A8" stroke="#4A3822" stroke-width="0.5" stroke-opacity="0.55"/>
<path d="M480.7,41.0 Q479.7,67.3 493.1,82.4 Q484.8,65.8 480.7,41.0 Z" fill="#D8C6A6" stroke="#4A3822" stroke-width="0.5" stroke-opacity="0.55"/>
<path d="M484.1,42.8 Q481.6,68.7 494.7,83.1 Q488.1,67.0 484.1,42.8 Z" fill="#E2D4BE" stroke="#4A3822" stroke-width="0.5" stroke-opacity="0.55"/>
<path d="M488.8,36.7 Q486.5,67.5 497.1,85.6 Q492.2,66.6 488.8,36.7 Z" fill="#E8DCC8" stroke="#4A3822" stroke-width="0.5" stroke-opacity="0.55"/>
<path d="M492.9,38.4 Q490.2,68.8 498.9,86.8 Q496.0,68.1 492.9,38.4 Z" fill="#F2ECE4" stroke="#4A3822" stroke-width="0.5" stroke-opacity="0.55"/>
<path d="M496.5,39.1 Q494.1,64.4 499.6,79.6 Q499.9,64.0 496.5,39.1 Z" fill="#F2ECE4" stroke="#4A3822" stroke-width="0.5" stroke-opacity="0.55"/>
<path d="M504.2,37.6 Q501.5,64.7 503.2,81.4 Q506.1,64.8 504.2,37.6 Z" fill="#D2BA94" stroke="#4A3822" stroke-width="0.5" stroke-opacity="0.55"/>
<path d="M507.3,38.8 Q505.1,67.9 504.3,86.0 Q509.8,68.2 507.3,38.8 Z" fill="#F2ECE4" stroke="#4A3822" stroke-width="0.5" stroke-opacity="0.55"/>
<path d="M509.5,41.3 Q506.8,68.4 505.1,85.4 Q511.5,68.9 509.5,41.3 Z" fill="#E8DCC8" stroke="#4A3822" stroke-width="0.5" stroke-opacity="0.55"/>
<path d="M516.9,41.4 Q513.6,66.2 508.6,82.2 Q519.0,67.3 516.9,41.4 Z" fill="#DCC8A8" stroke="#4A3822" stroke-width="0.5" stroke-opacity="0.55"/>
<path d="M518.0,42.5 Q514.6,67.5 508.8,83.8 Q520.4,68.8 518.0,42.5 Z" fill="#F2ECE4" stroke="#4A3822" stroke-width="0.5" stroke-opacity="0.55"/>
<path d="M522.9,36.0 Q518.8,64.3 511.0,82.8 Q524.4,65.7 522.9,36.0 Z" fill="#C4A880" stroke="#4A3822" stroke-width="0.5" stroke-opacity="0.55"/>
<path d="M527.4,40.1 Q523.2,64.9 513.3,81.7 Q529.6,67.1 527.4,40.1 Z" fill="#E2D4BE" stroke="#4A3822" stroke-width="0.5" stroke-opacity="0.55"/>
<path d="M532.8,41.5 Q527.5,66.1 514.9,83.5 Q533.9,68.8 532.8,41.5 Z" fill="#ECE4DA" stroke="#4A3822" stroke-width="0.5" stroke-opacity="0.55"/>
<path d="M537.6,40.7 Q533.2,68.0 515.5,86.5 Q537.5,70.1 537.6,40.7 Z" fill="#E8DCC8" stroke="#4A3822" stroke-width="0.5" stroke-opacity="0.55"/>
<path d="M539.6,36.0 Q534.2,64.5 517.3,84.3 Q540.3,67.3 539.6,36.0 Z" fill="#F2ECE4" stroke="#4A3822" stroke-width="0.5" stroke-opacity="0.55"/>
<path d="M546.5,38.0 Q541.5,64.1 521.2,82.4 Q546.7,67.1 546.5,38.0 Z" fill="#D2BA94" stroke="#4A3822" stroke-width="0.5" stroke-opacity="0.55"/>
<path d="M549.9,36.1 Q544.7,65.8 520.3,86.2 Q549.2,68.5 549.9,36.1 Z" fill="#ECE4DA" stroke="#4A3822" stroke-width="0.5" stroke-opacity="0.55"/>
<path d="M554.4,39.1 Q548.8,64.9 523.8,83.5 Q554.7,69.0 554.4,39.1 Z" fill="#ECE4DA" stroke="#4A3822" stroke-width="0.5" stroke-opacity="0.55"/>
<path d="M452.4,36.4 Q452.1,66.2 480.4,81.3 Q457.3,62.9 452.4,36.4 Z" fill="#DCC8A8" stroke="#4A3822" stroke-width="0.5" stroke-opacity="0.55"/>
<path d="M454.9,37.3 Q454.5,68.2 483.0,84.0 Q460.3,64.7 454.9,37.3 Z" fill="#F2ECE4" stroke="#4A3822" stroke-width="0.5" stroke-opacity="0.55"/>
<path d="M459.6,39.8 Q458.7,66.4 482.5,79.7 Q464.4,63.1 459.6,39.8 Z" fill="#ECE4DA" stroke="#4A3822" stroke-width="0.5" stroke-opacity="0.55"/>
<path d="M461.3,38.5 Q461.5,69.9 487.3,87.1 Q466.1,67.5 461.3,38.5 Z" fill="#D2BA94" stroke="#4A3822" stroke-width="0.5" stroke-opacity="0.55"/>
<path d="M465.4,39.6 Q465.0,68.5 487.4,84.2 Q469.5,66.3 465.4,39.6 Z" fill="#ECE4DA" stroke="#4A3822" stroke-width="0.5" stroke-opacity="0.55"/>
<path d="M471.1,38.1 Q470.9,69.6 491.0,87.4 Q475.2,67.8 471.1,38.1 Z" fill="#D8C6A6" stroke="#4A3822" stroke-width="0.5" stroke-opacity="0.55"/>
<path d="M472.8,43.3 Q472.1,71.2 491.4,86.5 Q477.7,68.8 472.8,43.3 Z" fill="#C4A880" stroke="#4A3822" stroke-width="0.5" stroke-opacity="0.55"/>
<path d="M475.6,38.7 Q474.9,66.2 490.7,81.8 Q479.5,64.6 475.6,38.7 Z" fill="#ECE4DA" stroke="#4A3822" stroke-width="0.5" stroke-opacity="0.55"/>
<path d="M479.3,41.1 Q477.8,66.8 492.0,81.1 Q482.7,65.2 479.3,41.1 Z" fill="#F2ECE4" stroke="#4A3822" stroke-width="0.5" stroke-opacity="0.55"/>
<path d="M485.7,42.9 Q483.8,69.9 495.9,85.3 Q490.0,68.4 485.7,42.9 Z" fill="#D2BA94" stroke="#4A3822" stroke-width="0.5" stroke-opacity="0.55"/>
<path d="M487.4,42.2 Q485.1,69.2 496.4,84.6 Q491.4,67.8 487.4,42.2 Z" fill="#F2ECE4" stroke="#4A3822" stroke-width="0.5" stroke-opacity="0.55"/>
<path d="M491.8,40.0 Q490.3,66.4 497.8,82.0 Q495.7,65.6 491.8,40.0 Z" fill="#D2BA94" stroke="#4A3822" stroke-width="0.5" stroke-opacity="0.55"/>
<path d="M493.8,38.3 Q490.8,68.7 499.2,86.7 Q497.4,68.0 493.8,38.3 Z" fill="#D8C6A6" stroke="#4A3822" stroke-width="0.5" stroke-opacity="0.55"/>
<path d="M498.1,42.4 Q494.3,67.4 500.5,82.4 Q501.2,67.0 498.1,42.4 Z" fill="#D8C6A6" stroke="#4A3822" stroke-width="0.5" stroke-opacity="0.55"/>
<path d="M503.9,41.9 Q500.0,67.5 503.0,83.3 Q506.7,67.6 503.9,41.9 Z" fill="#E2D4BE" stroke="#4A3822" stroke-width="0.5" stroke-opacity="0.55"/>
<path d="M506.1,37.5 Q502.7,65.3 503.9,82.6 Q508.1,65.6 506.1,37.5 Z" fill="#ECE4DA" stroke="#4A3822" stroke-width="0.5" stroke-opacity="0.55"/>
<path d="M508.5,37.7 Q505.6,67.5 504.7,86.0 Q511.5,67.9 508.5,37.7 Z" fill="#E8DCC8" stroke="#4A3822" stroke-width="0.5" stroke-opacity="0.55"/>
<path d="M514.8,39.0 Q512.3,64.5 508.0,80.6 Q517.0,65.3 514.8,39.0 Z" fill="#E8DCC8" stroke="#4A3822" stroke-width="0.5" stroke-opacity="0.55"/>
<path d="M518.1,43.3 Q513.6,65.3 509.6,80.2 Q520.0,66.8 518.1,43.3 Z" fill="#C4A880" stroke="#4A3822" stroke-width="0.5" stroke-opacity="0.55"/>
<path d="M520.8,36.1 Q516.7,63.9 510.3,82.1 Q522.7,65.3 520.8,36.1 Z" fill="#D8C6A6" stroke="#4A3822" stroke-width="0.5" stroke-opacity="0.55"/>
<path d="M524.8,37.1 Q519.8,63.5 512.2,81.4 Q526.4,65.4 524.8,37.1 Z" fill="#E8DCC8" stroke="#4A3822" stroke-width="0.5" stroke-opacity="0.55"/>
<path d="M526.5,42.5 Q522.0,69.1 511.1,87.1 Q527.3,70.9 526.5,42.5 Z" fill="#D8C6A6" stroke="#4A3822" stroke-width="0.5" stroke-opacity="0.55"/>
<path d="M531.9,41.3 Q527.5,68.2 513.4,86.4 Q532.0,70.1 531.9,41.3 Z" fill="#C4A880" stroke="#4A3822" stroke-width="0.5" stroke-opacity="0.55"/>
<path d="M535.2,42.5 Q530.9,67.4 515.5,84.3 Q535.2,69.4 535.2,42.5 Z" fill="#D8C6A6" stroke="#4A3822" stroke-width="0.5" stroke-opacity="0.55"/>
<path d="M537.3,37.4 Q532.7,67.3 515.0,87.4 Q537.3,69.4 537.3,37.4 Z" fill="#E8DCC8" stroke="#4A3822" stroke-width="0.5" stroke-opacity="0.55"/>
<path d="M543.5,37.3 Q538.6,65.9 518.3,85.4 Q544.1,68.8 543.5,37.3 Z" fill="#C4A880" stroke="#4A3822" stroke-width="0.5" stroke-opacity="0.55"/>
<path d="M548.0,41.9 Q543.2,63.9 523.6,79.8 Q547.0,66.3 548.0,41.9 Z" fill="#C4A880" stroke="#4A3822" stroke-width="0.5" stroke-opacity="0.55"/>
<path d="M551.6,41.7 Q546.7,63.8 525.2,79.9 Q551.6,67.2 551.6,41.7 Z" fill="#E8DCC8" stroke="#4A3822" stroke-width="0.5" stroke-opacity="0.55"/>
<path d="M552.3,35.6 Q547.5,65.6 521.7,85.6 Q551.5,68.0 552.3,35.6 Z" fill="#D2BA94" stroke="#4A3822" stroke-width="0.5" stroke-opacity="0.55"/>
</g>
<path d="M475.5,82.6 Q502.4,77.0 529.2,82.6 L529.2,84.5 L475.5,84.5 Z" fill="#30362E" opacity="0.8"/>
<path d="M467.0,63.4 Q472.7,82.2 491.7,85.4" fill="none" stroke="#2A3466" stroke-width="0.9" opacity="0.7"/>
<path d="M467.0,66.2 Q472.7,85.0 491.7,88.3" fill="none" stroke="#2A3466" stroke-width="0.9" opacity="0.7"/>
<path d="M467.0,69.0 Q472.7,87.8 491.7,91.1" fill="none" stroke="#2A3466" stroke-width="0.9" opacity="0.7"/>
<path d="M465.6,54.0 L469.1,51.1 Q502.4,28.6 535.6,51.1 L539.1,54.0" fill="none" stroke="#4E6AAE" stroke-width="1.9"/>
<path d="M535.6,51.1 Q537.7,74.2 517.9,84.5" fill="none" stroke="#4E6AAE" stroke-width="1.1" opacity="0.8"/>
<path d="M469.1,51.1 Q468.4,77.4 485.4,84.5" fill="none" stroke="#4E6AAE" stroke-width="1" opacity="0.5"/>
</g>
<rect x="467.6" y="37.9" width="69.50000000000004" height="46.2" fill="none" stroke="#171B2A" stroke-width="1.4"/>
<g clip-path="url(#c8)">
<rect x="537.7" y="37.5" width="70.79999999999995" height="47.0" fill="#C0C4C4"/>
<path d="M539.5,33.5 Q537.5,45.8 538.1,53.5 Q541.1,46.0 539.5,33.5 Z" fill="#D2BA94" stroke="#4A3822" stroke-width="0.5" stroke-opacity="0.55"/>
<path d="M542.0,33.5 Q539.3,45.8 541.5,53.5 Q543.8,45.9 542.0,33.5 Z" fill="#D2BA94" stroke="#4A3822" stroke-width="0.5" stroke-opacity="0.55"/>
<path d="M543.3,33.5 Q541.5,46.0 544.6,53.5 Q545.1,45.8 543.3,33.5 Z" fill="#D2BA94" stroke="#4A3822" stroke-width="0.5" stroke-opacity="0.55"/>
<path d="M545.8,33.5 Q544.0,45.9 546.2,53.5 Q547.5,45.9 545.8,33.5 Z" fill="#ECE4DA" stroke="#4A3822" stroke-width="0.5" stroke-opacity="0.55"/>
<path d="M547.0,33.5 Q545.3,45.8 545.7,53.5 Q548.9,46.0 547.0,33.5 Z" fill="#D8C6A6" stroke="#4A3822" stroke-width="0.5" stroke-opacity="0.55"/>
<path d="M550.3,33.5 Q548.3,46.0 551.2,53.5 Q552.3,45.8 550.3,33.5 Z" fill="#D2BA94" stroke="#4A3822" stroke-width="0.5" stroke-opacity="0.55"/>
<path d="M551.1,33.5 Q548.8,45.9 551.2,53.5 Q552.8,45.9 551.1,33.5 Z" fill="#D2BA94" stroke="#4A3822" stroke-width="0.5" stroke-opacity="0.55"/>
<path d="M555.0,33.5 Q554.1,46.0 556.4,53.5 Q556.8,45.8 555.0,33.5 Z" fill="#DCC8A8" stroke="#4A3822" stroke-width="0.5" stroke-opacity="0.55"/>
<path d="M556.0,33.5 Q553.7,45.8 555.2,53.5 Q557.3,46.0 556.0,33.5 Z" fill="#DCC8A8" stroke="#4A3822" stroke-width="0.5" stroke-opacity="0.55"/>
<path d="M557.5,33.5 Q555.9,45.8 555.8,53.5 Q558.6,46.0 557.5,33.5 Z" fill="#C4A880" stroke="#4A3822" stroke-width="0.5" stroke-opacity="0.55"/>
<path d="M560.7,33.5 Q558.2,45.9 560.3,53.5 Q562.1,45.9 560.7,33.5 Z" fill="#C4A880" stroke="#4A3822" stroke-width="0.5" stroke-opacity="0.55"/>
<path d="M563.5,33.5 Q561.1,46.1 564.7,53.5 Q565.7,45.8 563.5,33.5 Z" fill="#ECE4DA" stroke="#4A3822" stroke-width="0.5" stroke-opacity="0.55"/>
<path d="M564.2,33.5 Q561.7,46.0 564.9,53.5 Q566.1,45.8 564.2,33.5 Z" fill="#E8DCC8" stroke="#4A3822" stroke-width="0.5" stroke-opacity="0.55"/>
<path d="M566.4,33.5 Q564.7,45.9 566.9,53.5 Q567.8,45.9 566.4,33.5 Z" fill="#F2ECE4" stroke="#4A3822" stroke-width="0.5" stroke-opacity="0.55"/>
<path d="M569.1,33.5 Q567.5,45.8 568.3,53.5 Q570.7,46.0 569.1,33.5 Z" fill="#DCC8A8" stroke="#4A3822" stroke-width="0.5" stroke-opacity="0.55"/>
<path d="M571.1,33.5 Q568.2,45.7 569.7,53.5 Q572.9,46.0 571.1,33.5 Z" fill="#D8C6A6" stroke="#4A3822" stroke-width="0.5" stroke-opacity="0.55"/>
<path d="M574.7,33.5 Q572.6,46.1 576.7,53.5 Q576.8,45.7 574.7,33.5 Z" fill="#F2ECE4" stroke="#4A3822" stroke-width="0.5" stroke-opacity="0.55"/>
<path d="M575.1,33.5 Q573.0,45.9 575.3,53.5 Q576.3,45.9 575.1,33.5 Z" fill="#DCC8A8" stroke="#4A3822" stroke-width="0.5" stroke-opacity="0.55"/>
<path d="M578.0,33.5 Q575.7,46.0 579.1,53.5 Q580.0,45.8 578.0,33.5 Z" fill="#DCC8A8" stroke="#4A3822" stroke-width="0.5" stroke-opacity="0.55"/>
<path d="M580.7,33.5 Q578.3,45.7 579.1,53.5 Q582.7,46.1 580.7,33.5 Z" fill="#DCC8A8" stroke="#4A3822" stroke-width="0.5" stroke-opacity="0.55"/>
<path d="M582.4,33.5 Q581.2,45.8 580.7,53.5 Q583.9,46.1 582.4,33.5 Z" fill="#D8C6A6" stroke="#4A3822" stroke-width="0.5" stroke-opacity="0.55"/>
<path d="M585.1,33.5 Q582.8,46.0 585.7,53.5 Q586.5,45.9 585.1,33.5 Z" fill="#E8DCC8" stroke="#4A3822" stroke-width="0.5" stroke-opacity="0.55"/>
<path d="M587.2,33.5 Q585.8,46.0 588.3,53.5 Q589.7,45.8 587.2,33.5 Z" fill="#C4A880" stroke="#4A3822" stroke-width="0.5" stroke-opacity="0.55"/>
<path d="M590.0,33.5 Q587.9,46.1 591.5,53.5 Q592.0,45.8 590.0,33.5 Z" fill="#E8DCC8" stroke="#4A3822" stroke-width="0.5" stroke-opacity="0.55"/>
<path d="M592.7,33.5 Q590.5,45.8 591.4,53.5 Q594.0,46.0 592.7,33.5 Z" fill="#E2D4BE" stroke="#4A3822" stroke-width="0.5" stroke-opacity="0.55"/>
<path d="M594.3,33.5 Q592.4,46.0 595.4,53.5 Q595.4,45.9 594.3,33.5 Z" fill="#F2ECE4" stroke="#4A3822" stroke-width="0.5" stroke-opacity="0.55"/>
<path d="M595.1,33.5 Q593.2,46.1 596.6,53.5 Q597.1,45.8 595.1,33.5 Z" fill="#E2D4BE" stroke="#4A3822" stroke-width="0.5" stroke-opacity="0.55"/>
<path d="M598.4,33.5 Q596.7,46.0 599.2,53.5 Q599.8,45.8 598.4,33.5 Z" fill="#D2BA94" stroke="#4A3822" stroke-width="0.5" stroke-opacity="0.55"/>
<path d="M600.5,33.5 Q598.7,45.8 598.8,53.5 Q601.2,46.0 600.5,33.5 Z" fill="#D2BA94" stroke="#4A3822" stroke-width="0.5" stroke-opacity="0.55"/>
<path d="M602.9,33.5 Q601.1,45.9 603.0,53.5 Q605.6,45.9 602.9,33.5 Z" fill="#D8C6A6" stroke="#4A3822" stroke-width="0.5" stroke-opacity="0.55"/>
<path d="M603.9,33.5 Q602.2,45.8 603.1,53.5 Q605.6,46.0 603.9,33.5 Z" fill="#E2D4BE" stroke="#4A3822" stroke-width="0.5" stroke-opacity="0.55"/>
<path d="M607.5,33.5 Q605.2,45.7 605.9,53.5 Q609.8,46.1 607.5,33.5 Z" fill="#DCC8A8" stroke="#4A3822" stroke-width="0.5" stroke-opacity="0.55"/>
<path d="M537.7,56.3 L573.1,84.5 L537.7,84.5 Z" fill="#86826A"/>
<path d="M608.5,51.6 L608.5,84.5 L573.1,84.5 Z" fill="#6C8ED6"/>
<path d="M539.8,51.1 Q573.1,28.6 606.4,51.1 Q608.5,74.2 588.7,84.5 L556.1,84.5 Q539.1,77.4 539.8,51.1 Z" fill="#B8A07C"/>
<g clip-path="url(#b8)">
<path d="M520.9,38.6 Q521.9,69.4 553.1,85.8 Q525.7,66.7 520.9,38.6 Z" fill="#C4A880" stroke="#4A3822" stroke-width="0.5" stroke-opacity="0.55"/>
<path d="M527.1,37.7 Q527.8,64.7 551.8,79.6 Q532.0,62.2 527.1,37.7 Z" fill="#D2BA94" stroke="#4A3822" stroke-width="0.5" stroke-opacity="0.55"/>
<path d="M531.3,40.2 Q531.7,69.0 556.5,84.8 Q536.0,66.6 531.3,40.2 Z" fill="#E2D4BE" stroke="#4A3822" stroke-width="0.5" stroke-opacity="0.55"/>
<path d="M536.3,36.0 Q536.7,65.0 557.0,81.5 Q541.0,63.0 536.3,36.0 Z" fill="#C4A880" stroke="#4A3822" stroke-width="0.5" stroke-opacity="0.55"/>
<path d="M538.2,37.6 Q537.4,69.6 560.3,86.9 Q543.8,66.7 538.2,37.6 Z" fill="#DCC8A8" stroke="#4A3822" stroke-width="0.5" stroke-opacity="0.55"/>
<path d="M544.3,36.6 Q544.1,67.8 562.1,85.8 Q548.9,66.1 544.3,36.6 Z" fill="#DCC8A8" stroke="#4A3822" stroke-width="0.5" stroke-opacity="0.55"/>
<path d="M548.3,42.5 Q547.1,70.9 564.0,86.8 Q551.7,69.3 548.3,42.5 Z" fill="#E8DCC8" stroke="#4A3822" stroke-width="0.5" stroke-opacity="0.55"/>
<path d="M549.9,40.7 Q548.5,70.0 564.5,86.6 Q554.7,68.1 549.9,40.7 Z" fill="#DCC8A8" stroke="#4A3822" stroke-width="0.5" stroke-opacity="0.55"/>
<path d="M557.8,37.6 Q555.9,64.1 566.0,79.6 Q560.5,63.2 557.8,37.6 Z" fill="#E8DCC8" stroke="#4A3822" stroke-width="0.5" stroke-opacity="0.55"/>
<path d="M559.2,35.7 Q557.6,65.5 567.3,83.0 Q562.3,64.7 559.2,35.7 Z" fill="#D8C6A6" stroke="#4A3822" stroke-width="0.5" stroke-opacity="0.55"/>
<path d="M564.6,38.7 Q561.7,66.8 569.6,83.4 Q568.6,66.0 564.6,38.7 Z" fill="#C4A880" stroke="#4A3822" stroke-width="0.5" stroke-opacity="0.55"/>
<path d="M567.0,37.0 Q564.0,64.9 570.4,81.6 Q569.6,64.5 567.0,37.0 Z" fill="#C4A880" stroke="#4A3822" stroke-width="0.5" stroke-opacity="0.55"/>
<path d="M573.3,36.1 Q570.5,64.1 573.2,81.3 Q577.0,64.1 573.3,36.1 Z" fill="#E8DCC8" stroke="#4A3822" stroke-width="0.5" stroke-opacity="0.55"/>
<path d="M579.2,39.7 Q576.8,65.4 575.8,81.4 Q581.7,65.8 579.2,39.7 Z" fill="#DCC8A8" stroke="#4A3822" stroke-width="0.5" stroke-opacity="0.55"/>
<path d="M579.8,37.6 Q577.1,68.0 575.6,86.9 Q582.7,68.5 579.8,37.6 Z" fill="#E2D4BE" stroke="#4A3822" stroke-width="0.5" stroke-opacity="0.55"/>
<path d="M585.6,38.0 Q582.4,64.3 578.7,81.1 Q588.5,65.3 585.6,38.0 Z" fill="#DCC8A8" stroke="#4A3822" stroke-width="0.5" stroke-opacity="0.55"/>
<path d="M591.0,39.3 Q587.0,64.8 580.9,81.6 Q592.6,66.1 591.0,39.3 Z" fill="#ECE4DA" stroke="#4A3822" stroke-width="0.5" stroke-opacity="0.55"/>
<path d="M595.1,35.8 Q590.5,65.2 581.9,84.7 Q596.8,66.9 595.1,35.8 Z" fill="#E2D4BE" stroke="#4A3822" stroke-width="0.5" stroke-opacity="0.55"/>
<path d="M597.1,41.9 Q592.3,68.8 581.8,87.1 Q598.4,70.9 597.1,41.9 Z" fill="#DCC8A8" stroke="#4A3822" stroke-width="0.5" stroke-opacity="0.55"/>
<path d="M603.5,41.1 Q599.3,63.9 587.3,79.6 Q604.5,66.1 603.5,41.1 Z" fill="#D2BA94" stroke="#4A3822" stroke-width="0.5" stroke-opacity="0.55"/>
<path d="M608.6,37.8 Q603.0,67.0 586.0,87.3 Q609.1,69.8 608.6,37.8 Z" fill="#F2ECE4" stroke="#4A3822" stroke-width="0.5" stroke-opacity="0.55"/>
<path d="M611.7,43.0 Q606.9,66.2 589.5,82.7 Q612.4,69.2 611.7,43.0 Z" fill="#ECE4DA" stroke="#4A3822" stroke-width="0.5" stroke-opacity="0.55"/>
<path d="M615.5,36.0 Q609.9,63.2 591.1,82.5 Q615.9,66.3 615.5,36.0 Z" fill="#D8C6A6" stroke="#4A3822" stroke-width="0.5" stroke-opacity="0.55"/>
<path d="M618.6,42.7 Q613.2,64.6 593.6,81.0 Q618.0,67.7 618.6,42.7 Z" fill="#F2ECE4" stroke="#4A3822" stroke-width="0.5" stroke-opacity="0.55"/>
<path d="M623.9,37.3 Q618.8,67.0 591.7,87.2 Q623.2,69.9 623.9,37.3 Z" fill="#E8DCC8" stroke="#4A3822" stroke-width="0.5" stroke-opacity="0.55"/>
<path d="M521.5,41.2 Q521.6,69.9 552.1,84.0 Q526.9,66.1 521.5,41.2 Z" fill="#C4A880" stroke="#4A3822" stroke-width="0.5" stroke-opacity="0.55"/>
<path d="M523.7,40.4 Q524.4,67.2 551.4,81.6 Q529.1,64.1 523.7,40.4 Z" fill="#E8DCC8" stroke="#4A3822" stroke-width="0.5" stroke-opacity="0.55"/>
<path d="M528.2,36.5 Q528.4,69.4 556.6,87.2 Q532.6,67.0 528.2,36.5 Z" fill="#E2D4BE" stroke="#4A3822" stroke-width="0.5" stroke-opacity="0.55"/>
<path d="M531.5,38.1 Q532.2,68.5 557.0,85.5 Q536.5,66.2 531.5,38.1 Z" fill="#E8DCC8" stroke="#4A3822" stroke-width="0.5" stroke-opacity="0.55"/>
<path d="M536.8,39.1 Q535.4,67.9 557.7,82.8 Q541.6,64.9 536.8,39.1 Z" fill="#C4A880" stroke="#4A3822" stroke-width="0.5" stroke-opacity="0.55"/>
<path d="M541.8,37.7 Q541.3,69.3 561.6,87.0 Q546.4,67.2 541.8,37.7 Z" fill="#ECE4DA" stroke="#4A3822" stroke-width="0.5" stroke-opacity="0.55"/>
<path d="M545.0,43.2 Q544.2,71.2 562.8,86.7 Q548.5,69.5 545.0,43.2 Z" fill="#E2D4BE" stroke="#4A3822" stroke-width="0.5" stroke-opacity="0.55"/>
<path d="M547.2,39.7 Q545.7,69.7 563.4,86.3 Q552.0,67.5 547.2,39.7 Z" fill="#D2BA94" stroke="#4A3822" stroke-width="0.5" stroke-opacity="0.55"/>
<path d="M551.1,39.7 Q549.9,68.5 564.4,84.9 Q555.1,67.0 551.1,39.7 Z" fill="#C4A880" stroke="#4A3822" stroke-width="0.5" stroke-opacity="0.55"/>
<path d="M555.1,37.5 Q552.7,66.2 565.5,82.6 Q559.3,64.7 555.1,37.5 Z" fill="#F2ECE4" stroke="#4A3822" stroke-width="0.5" stroke-opacity="0.55"/>
<path d="M558.1,43.2 Q555.5,67.7 566.5,81.6 Q562.1,66.3 558.1,43.2 Z" fill="#ECE4DA" stroke="#4A3822" stroke-width="0.5" stroke-opacity="0.55"/>
<path d="M562.0,40.9 Q560.7,69.1 568.9,85.9 Q565.1,68.4 562.0,40.9 Z" fill="#D8C6A6" stroke="#4A3822" stroke-width="0.5" stroke-opacity="0.55"/>
<path d="M566.7,43.1 Q564.0,70.4 570.7,86.6 Q569.6,69.9 566.7,43.1 Z" fill="#DCC8A8" stroke="#4A3822" stroke-width="0.5" stroke-opacity="0.55"/>
<path d="M568.5,38.9 Q566.4,69.0 571.4,87.2 Q571.4,68.7 568.5,38.9 Z" fill="#E8DCC8" stroke="#4A3822" stroke-width="0.5" stroke-opacity="0.55"/>
<path d="M571.8,41.5 Q568.4,67.0 572.5,82.5 Q574.8,66.8 571.8,41.5 Z" fill="#E8DCC8" stroke="#4A3822" stroke-width="0.5" stroke-opacity="0.55"/>
<path d="M577.7,36.5 Q575.4,64.2 575.1,81.3 Q580.4,64.4 577.7,36.5 Z" fill="#F2ECE4" stroke="#4A3822" stroke-width="0.5" stroke-opacity="0.55"/>
<path d="M580.5,42.6 Q576.8,68.2 576.1,84.4 Q583.0,68.8 580.5,42.6 Z" fill="#D8C6A6" stroke="#4A3822" stroke-width="0.5" stroke-opacity="0.55"/>
<path d="M585.7,40.1 Q582.1,65.8 578.5,82.3 Q588.3,66.9 585.7,40.1 Z" fill="#E8DCC8" stroke="#4A3822" stroke-width="0.5" stroke-opacity="0.55"/>
<path d="M588.9,41.0 Q584.9,67.6 579.3,84.9 Q591.3,69.0 588.9,41.0 Z" fill="#E8DCC8" stroke="#4A3822" stroke-width="0.5" stroke-opacity="0.55"/>
<path d="M593.1,41.6 Q588.6,68.4 580.6,86.2 Q594.6,70.0 593.1,41.6 Z" fill="#C4A880" stroke="#4A3822" stroke-width="0.5" stroke-opacity="0.55"/>
<path d="M596.8,37.1 Q593.2,66.5 582.2,85.6 Q598.2,68.0 596.8,37.1 Z" fill="#F2ECE4" stroke="#4A3822" stroke-width="0.5" stroke-opacity="0.55"/>
<path d="M597.1,39.1 Q592.9,66.6 582.6,84.8 Q599.2,68.6 597.1,39.1 Z" fill="#ECE4DA" stroke="#4A3822" stroke-width="0.5" stroke-opacity="0.55"/>
<path d="M600.6,39.8 Q596.2,67.0 583.8,85.3 Q601.0,68.8 600.6,39.8 Z" fill="#D2BA94" stroke="#4A3822" stroke-width="0.5" stroke-opacity="0.55"/>
<path d="M607.3,36.2 Q603.4,63.4 588.1,81.5 Q607.9,65.3 607.3,36.2 Z" fill="#E2D4BE" stroke="#4A3822" stroke-width="0.5" stroke-opacity="0.55"/>
<path d="M610.5,43.4 Q605.9,64.5 590.7,79.7 Q610.1,66.7 610.5,43.4 Z" fill="#D2BA94" stroke="#4A3822" stroke-width="0.5" stroke-opacity="0.55"/>
<path d="M612.1,38.2 Q607.2,65.1 589.1,83.7 Q611.9,67.5 612.1,38.2 Z" fill="#E8DCC8" stroke="#4A3822" stroke-width="0.5" stroke-opacity="0.55"/>
<path d="M618.4,38.2 Q613.8,67.3 589.8,86.9 Q618.2,69.9 618.4,38.2 Z" fill="#F2ECE4" stroke="#4A3822" stroke-width="0.5" stroke-opacity="0.55"/>
<path d="M621.2,41.1 Q615.9,64.5 594.2,81.6 Q621.4,68.1 621.2,41.1 Z" fill="#DCC8A8" stroke="#4A3822" stroke-width="0.5" stroke-opacity="0.55"/>
<path d="M624.3,37.0 Q618.3,66.2 592.0,86.9 Q623.4,69.4 624.3,37.0 Z" fill="#ECE4DA" stroke="#4A3822" stroke-width="0.5" stroke-opacity="0.55"/>
</g>
<path d="M546.2,82.6 Q573.1,77.0 600.0,82.6 L600.0,84.5 L546.2,84.5 Z" fill="#30362E" opacity="0.8"/>
<path d="M537.7,63.4 Q543.4,82.2 562.5,85.4" fill="none" stroke="#2A3466" stroke-width="0.9" opacity="0.7"/>
<path d="M537.7,66.2 Q543.4,85.0 562.5,88.3" fill="none" stroke="#2A3466" stroke-width="0.9" opacity="0.7"/>
<path d="M537.7,69.0 Q543.4,87.8 562.5,91.1" fill="none" stroke="#2A3466" stroke-width="0.9" opacity="0.7"/>
<path d="M536.3,54.0 L539.8,51.1 Q573.1,28.6 606.4,51.1 L609.9,54.0" fill="none" stroke="#4E6AAE" stroke-width="1.9"/>
<path d="M606.4,51.1 Q608.5,74.2 588.7,84.5" fill="none" stroke="#4E6AAE" stroke-width="1.1" opacity="0.8"/>
<path d="M539.8,51.1 Q539.1,77.4 556.1,84.5" fill="none" stroke="#4E6AAE" stroke-width="1" opacity="0.5"/>
</g>
<rect x="538.3000000000001" y="37.9" width="69.59999999999995" height="46.2" fill="none" stroke="#171B2A" stroke-width="1.4"/>
<g clip-path="url(#c9)">
<rect x="608.5" y="37.5" width="69.5" height="47.0" fill="#C0C4C4"/>
<path d="M610.3,33.5 Q609.1,45.9 610.0,53.5 Q612.2,45.9 610.3,33.5 Z" fill="#ECE4DA" stroke="#4A3822" stroke-width="0.5" stroke-opacity="0.55"/>
<path d="M612.5,33.5 Q611.7,46.0 613.7,53.5 Q614.3,45.8 612.5,33.5 Z" fill="#E2D4BE" stroke="#4A3822" stroke-width="0.5" stroke-opacity="0.55"/>
<path d="M614.5,33.5 Q612.3,46.0 615.7,53.5 Q616.6,45.8 614.5,33.5 Z" fill="#C4A880" stroke="#4A3822" stroke-width="0.5" stroke-opacity="0.55"/>
<path d="M616.9,33.5 Q615.5,45.9 616.8,53.5 Q619.0,45.9 616.9,33.5 Z" fill="#ECE4DA" stroke="#4A3822" stroke-width="0.5" stroke-opacity="0.55"/>
<path d="M618.6,33.5 Q616.1,45.7 617.0,53.5 Q620.0,46.0 618.6,33.5 Z" fill="#C4A880" stroke="#4A3822" stroke-width="0.5" stroke-opacity="0.55"/>
<path d="M620.6,33.5 Q619.6,45.9 620.7,53.5 Q622.8,45.9 620.6,33.5 Z" fill="#ECE4DA" stroke="#4A3822" stroke-width="0.5" stroke-opacity="0.55"/>
<path d="M623.3,33.5 Q621.4,45.8 622.2,53.5 Q624.5,46.0 623.3,33.5 Z" fill="#D8C6A6" stroke="#4A3822" stroke-width="0.5" stroke-opacity="0.55"/>
<path d="M625.9,33.5 Q624.6,45.8 624.7,53.5 Q627.7,46.0 625.9,33.5 Z" fill="#F2ECE4" stroke="#4A3822" stroke-width="0.5" stroke-opacity="0.55"/>
<path d="M626.2,33.5 Q624.7,45.9 626.1,53.5 Q627.9,45.9 626.2,33.5 Z" fill="#F2ECE4" stroke="#4A3822" stroke-width="0.5" stroke-opacity="0.55"/>
<path d="M629.5,33.5 Q627.7,45.8 628.7,53.5 Q632.0,46.0 629.5,33.5 Z" fill="#DCC8A8" stroke="#4A3822" stroke-width="0.5" stroke-opacity="0.55"/>
<path d="M630.6,33.5 Q629.3,45.9 630.7,53.5 Q632.0,45.9 630.6,33.5 Z" fill="#C4A880" stroke="#4A3822" stroke-width="0.5" stroke-opacity="0.55"/>
<path d="M633.1,33.5 Q630.9,45.7 631.6,53.5 Q634.5,46.0 633.1,33.5 Z" fill="#DCC8A8" stroke="#4A3822" stroke-width="0.5" stroke-opacity="0.55"/>
<path d="M635.9,33.5 Q634.4,45.8 635.2,53.5 Q637.0,45.9 635.9,33.5 Z" fill="#D2BA94" stroke="#4A3822" stroke-width="0.5" stroke-opacity="0.55"/>
<path d="M638.1,33.5 Q635.7,45.7 636.3,53.5 Q640.0,46.1 638.1,33.5 Z" fill="#C4A880" stroke="#4A3822" stroke-width="0.5" stroke-opacity="0.55"/>
<path d="M641.2,33.5 Q639.7,46.1 642.9,53.5 Q643.1,45.8 641.2,33.5 Z" fill="#DCC8A8" stroke="#4A3822" stroke-width="0.5" stroke-opacity="0.55"/>
<path d="M643.2,33.5 Q642.2,45.9 644.1,53.5 Q645.4,45.8 643.2,33.5 Z" fill="#ECE4DA" stroke="#4A3822" stroke-width="0.5" stroke-opacity="0.55"/>
<path d="M644.7,33.5 Q642.8,46.0 645.2,53.5 Q645.9,45.9 644.7,33.5 Z" fill="#ECE4DA" stroke="#4A3822" stroke-width="0.5" stroke-opacity="0.55"/>
<path d="M648.0,33.5 Q647.0,45.9 648.2,53.5 Q649.5,45.9 648.0,33.5 Z" fill="#ECE4DA" stroke="#4A3822" stroke-width="0.5" stroke-opacity="0.55"/>
<path d="M648.3,33.5 Q646.3,46.0 649.3,53.5 Q650.5,45.8 648.3,33.5 Z" fill="#E8DCC8" stroke="#4A3822" stroke-width="0.5" stroke-opacity="0.55"/>
<path d="M650.6,33.5 Q649.2,46.0 651.4,53.5 Q653.4,45.8 650.6,33.5 Z" fill="#ECE4DA" stroke="#4A3822" stroke-width="0.5" stroke-opacity="0.55"/>
<path d="M654.5,33.5 Q653.0,46.0 655.2,53.5 Q656.7,45.8 654.5,33.5 Z" fill="#D2BA94" stroke="#4A3822" stroke-width="0.5" stroke-opacity="0.55"/>
<path d="M656.5,33.5 Q655.3,45.9 656.9,53.5 Q658.6,45.9 656.5,33.5 Z" fill="#C4A880" stroke="#4A3822" stroke-width="0.5" stroke-opacity="0.55"/>
<path d="M658.6,33.5 Q656.5,45.9 658.3,53.5 Q659.7,45.9 658.6,33.5 Z" fill="#D2BA94" stroke="#4A3822" stroke-width="0.5" stroke-opacity="0.55"/>
<path d="M660.1,33.5 Q658.9,45.9 660.3,53.5 Q661.5,45.9 660.1,33.5 Z" fill="#E8DCC8" stroke="#4A3822" stroke-width="0.5" stroke-opacity="0.55"/>
<path d="M663.4,33.5 Q662.0,45.9 663.8,53.5 Q665.1,45.9 663.4,33.5 Z" fill="#D8C6A6" stroke="#4A3822" stroke-width="0.5" stroke-opacity="0.55"/>
<path d="M663.9,33.5 Q662.5,46.0 665.1,53.5 Q666.7,45.8 663.9,33.5 Z" fill="#D8C6A6" stroke="#4A3822" stroke-width="0.5" stroke-opacity="0.55"/>
<path d="M667.5,33.5 Q665.9,45.9 666.8,53.5 Q668.9,45.9 667.5,33.5 Z" fill="#F2ECE4" stroke="#4A3822" stroke-width="0.5" stroke-opacity="0.55"/>
<path d="M669.7,33.5 Q667.7,46.0 670.5,53.5 Q672.4,45.8 669.7,33.5 Z" fill="#DCC8A8" stroke="#4A3822" stroke-width="0.5" stroke-opacity="0.55"/>
<path d="M671.7,33.5 Q670.4,46.0 673.1,53.5 Q674.5,45.7 671.7,33.5 Z" fill="#E8DCC8" stroke="#4A3822" stroke-width="0.5" stroke-opacity="0.55"/>
<path d="M672.3,33.5 Q670.4,45.8 671.2,53.5 Q673.6,46.0 672.3,33.5 Z" fill="#F2ECE4" stroke="#4A3822" stroke-width="0.5" stroke-opacity="0.55"/>
<path d="M676.5,33.5 Q674.8,46.1 678.3,53.5 Q678.0,45.8 676.5,33.5 Z" fill="#DCC8A8" stroke="#4A3822" stroke-width="0.5" stroke-opacity="0.55"/>
<path d="M608.5,56.3 L643.2,84.5 L608.5,84.5 Z" fill="#86826A"/>
<path d="M678.0,51.6 L678.0,84.5 L643.2,84.5 Z" fill="#6C8ED6"/>
<path d="M610.6,51.1 Q643.2,28.6 675.9,51.1 Q678.0,74.2 658.5,84.5 L626.6,84.5 Q609.9,77.4 610.6,51.1 Z" fill="#B8A07C"/>
<g clip-path="url(#b9)">
<path d="M592.3,38.4 Q593.2,67.1 621.5,82.5 Q597.7,64.1 592.3,38.4 Z" fill="#E8DCC8" stroke="#4A3822" stroke-width="0.5" stroke-opacity="0.55"/>
<path d="M599.6,35.6 Q599.0,67.9 626.0,84.9 Q604.7,64.8 599.6,35.6 Z" fill="#C4A880" stroke="#4A3822" stroke-width="0.5" stroke-opacity="0.55"/>
<path d="M602.6,35.9 Q602.6,68.6 628.1,86.6 Q607.0,66.4 602.6,35.9 Z" fill="#E2D4BE" stroke="#4A3822" stroke-width="0.5" stroke-opacity="0.55"/>
<path d="M605.3,40.7 Q604.7,68.1 627.0,82.5 Q610.7,65.0 605.3,40.7 Z" fill="#E2D4BE" stroke="#4A3822" stroke-width="0.5" stroke-opacity="0.55"/>
<path d="M611.6,40.9 Q609.7,66.6 628.6,79.9 Q616.1,63.9 611.6,40.9 Z" fill="#E2D4BE" stroke="#4A3822" stroke-width="0.5" stroke-opacity="0.55"/>
<path d="M616.7,36.6 Q614.9,69.0 633.4,87.0 Q621.1,66.9 616.7,36.6 Z" fill="#ECE4DA" stroke="#4A3822" stroke-width="0.5" stroke-opacity="0.55"/>
<path d="M620.8,43.3 Q619.2,71.4 635.1,87.1 Q624.7,69.7 620.8,43.3 Z" fill="#D8C6A6" stroke="#4A3822" stroke-width="0.5" stroke-opacity="0.55"/>
<path d="M625.3,37.2 Q624.3,65.6 635.6,82.2 Q629.3,64.5 625.3,37.2 Z" fill="#D2BA94" stroke="#4A3822" stroke-width="0.5" stroke-opacity="0.55"/>
<path d="M629.7,42.7 Q627.8,66.2 636.9,79.7 Q633.1,65.1 629.7,42.7 Z" fill="#D2BA94" stroke="#4A3822" stroke-width="0.5" stroke-opacity="0.55"/>
<path d="M630.4,42.4 Q628.1,69.1 638.2,84.6 Q633.3,68.2 630.4,42.4 Z" fill="#D8C6A6" stroke="#4A3822" stroke-width="0.5" stroke-opacity="0.55"/>
<path d="M635.9,40.6 Q633.2,69.5 640.5,86.7 Q638.9,68.9 635.9,40.6 Z" fill="#DCC8A8" stroke="#4A3822" stroke-width="0.5" stroke-opacity="0.55"/>
<path d="M640.3,42.5 Q638.1,68.4 642.0,84.1 Q642.8,68.2 640.3,42.5 Z" fill="#D2BA94" stroke="#4A3822" stroke-width="0.5" stroke-opacity="0.55"/>
<path d="M645.1,42.5 Q642.4,68.7 644.0,84.8 Q647.4,68.8 645.1,42.5 Z" fill="#DCC8A8" stroke="#4A3822" stroke-width="0.5" stroke-opacity="0.55"/>
<path d="M651.6,40.8 Q648.0,68.7 646.4,86.4 Q654.2,69.4 651.6,40.8 Z" fill="#ECE4DA" stroke="#4A3822" stroke-width="0.5" stroke-opacity="0.55"/>
<path d="M654.4,35.7 Q650.2,63.0 648.3,80.5 Q657.3,64.0 654.4,35.7 Z" fill="#E2D4BE" stroke="#4A3822" stroke-width="0.5" stroke-opacity="0.55"/>
<path d="M659.8,41.8 Q656.8,66.5 650.4,82.4 Q661.7,67.6 659.8,41.8 Z" fill="#ECE4DA" stroke="#4A3822" stroke-width="0.5" stroke-opacity="0.55"/>
<path d="M664.5,43.4 Q660.1,67.0 652.2,83.0 Q665.4,68.6 664.5,43.4 Z" fill="#D2BA94" stroke="#4A3822" stroke-width="0.5" stroke-opacity="0.55"/>
<path d="M665.8,37.9 Q661.5,64.4 653.0,82.1 Q667.7,66.2 665.8,37.9 Z" fill="#E2D4BE" stroke="#4A3822" stroke-width="0.5" stroke-opacity="0.55"/>
<path d="M672.6,35.6 Q667.3,65.9 654.3,86.5 Q673.1,68.0 672.6,35.6 Z" fill="#E8DCC8" stroke="#4A3822" stroke-width="0.5" stroke-opacity="0.55"/>
<path d="M676.1,41.9 Q670.7,64.5 658.0,81.0 Q677.0,67.4 676.1,41.9 Z" fill="#D2BA94" stroke="#4A3822" stroke-width="0.5" stroke-opacity="0.55"/>
<path d="M679.6,42.9 Q675.6,65.6 659.5,81.2 Q679.5,67.6 679.6,42.9 Z" fill="#C4A880" stroke="#4A3822" stroke-width="0.5" stroke-opacity="0.55"/>
<path d="M686.4,40.0 Q681.4,63.7 662.7,80.6 Q686.8,66.8 686.4,40.0 Z" fill="#ECE4DA" stroke="#4A3822" stroke-width="0.5" stroke-opacity="0.55"/>
<path d="M689.3,37.6 Q684.8,63.8 663.3,81.7 Q689.6,66.6 689.3,37.6 Z" fill="#D8C6A6" stroke="#4A3822" stroke-width="0.5" stroke-opacity="0.55"/>
<path d="M694.4,41.9 Q689.2,68.3 662.1,86.7 Q693.1,71.1 694.4,41.9 Z" fill="#C4A880" stroke="#4A3822" stroke-width="0.5" stroke-opacity="0.55"/>
<path d="M592.0,42.1 Q592.4,68.2 620.5,81.4 Q596.4,65.3 592.0,42.1 Z" fill="#C4A880" stroke="#4A3822" stroke-width="0.5" stroke-opacity="0.55"/>
<path d="M597.5,36.4 Q597.8,66.8 624.2,83.2 Q603.1,63.8 597.5,36.4 Z" fill="#C4A880" stroke="#4A3822" stroke-width="0.5" stroke-opacity="0.55"/>
<path d="M601.7,42.9 Q600.5,67.9 623.9,79.9 Q606.6,64.3 601.7,42.9 Z" fill="#D8C6A6" stroke="#4A3822" stroke-width="0.5" stroke-opacity="0.55"/>
<path d="M605.5,42.7 Q605.4,69.6 627.9,84.0 Q610.3,66.9 605.5,42.7 Z" fill="#DCC8A8" stroke="#4A3822" stroke-width="0.5" stroke-opacity="0.55"/>
<path d="M608.4,43.5 Q606.9,69.2 628.1,82.2 Q612.8,66.3 608.4,43.5 Z" fill="#C4A880" stroke="#4A3822" stroke-width="0.5" stroke-opacity="0.55"/>
<path d="M610.6,42.5 Q610.3,68.2 629.2,82.4 Q615.4,65.8 610.6,42.5 Z" fill="#F2ECE4" stroke="#4A3822" stroke-width="0.5" stroke-opacity="0.55"/>
<path d="M614.3,36.2 Q613.8,64.8 630.4,81.0 Q618.7,63.0 614.3,36.2 Z" fill="#F2ECE4" stroke="#4A3822" stroke-width="0.5" stroke-opacity="0.55"/>
<path d="M619.0,39.0 Q617.8,69.8 634.4,87.3 Q623.3,68.1 619.0,39.0 Z" fill="#F2ECE4" stroke="#4A3822" stroke-width="0.5" stroke-opacity="0.55"/>
<path d="M621.6,40.2 Q620.7,65.9 633.5,80.7 Q625.3,64.6 621.6,40.2 Z" fill="#D2BA94" stroke="#4A3822" stroke-width="0.5" stroke-opacity="0.55"/>
<path d="M626.1,36.1 Q624.0,64.1 635.5,80.3 Q630.3,62.8 626.1,36.1 Z" fill="#DCC8A8" stroke="#4A3822" stroke-width="0.5" stroke-opacity="0.55"/>
<path d="M630.9,38.6 Q628.8,65.2 637.7,80.7 Q635.5,64.1 630.9,38.6 Z" fill="#ECE4DA" stroke="#4A3822" stroke-width="0.5" stroke-opacity="0.55"/>
<path d="M635.0,39.3 Q631.8,67.2 639.8,83.6 Q638.1,66.5 635.0,39.3 Z" fill="#E8DCC8" stroke="#4A3822" stroke-width="0.5" stroke-opacity="0.55"/>
<path d="M638.1,36.8 Q634.6,66.7 641.2,84.7 Q641.1,66.3 638.1,36.8 Z" fill="#ECE4DA" stroke="#4A3822" stroke-width="0.5" stroke-opacity="0.55"/>
<path d="M640.1,38.4 Q637.2,68.2 642.1,86.3 Q643.8,68.0 640.1,38.4 Z" fill="#C4A880" stroke="#4A3822" stroke-width="0.5" stroke-opacity="0.55"/>
<path d="M646.8,39.9 Q644.5,66.4 644.7,82.7 Q649.5,66.6 646.8,39.9 Z" fill="#D2BA94" stroke="#4A3822" stroke-width="0.5" stroke-opacity="0.55"/>
<path d="M650.3,43.3 Q646.6,68.5 646.1,84.4 Q653.2,69.1 650.3,43.3 Z" fill="#D8C6A6" stroke="#4A3822" stroke-width="0.5" stroke-opacity="0.55"/>
<path d="M652.0,42.7 Q648.5,66.8 647.0,82.3 Q654.3,67.6 652.0,42.7 Z" fill="#DCC8A8" stroke="#4A3822" stroke-width="0.5" stroke-opacity="0.55"/>
<path d="M656.2,38.2 Q653.0,65.3 648.7,82.6 Q659.0,66.3 656.2,38.2 Z" fill="#F2ECE4" stroke="#4A3822" stroke-width="0.5" stroke-opacity="0.55"/>
<path d="M661.1,36.0 Q657.3,66.4 650.1,86.0 Q663.3,67.7 661.1,36.0 Z" fill="#ECE4DA" stroke="#4A3822" stroke-width="0.5" stroke-opacity="0.55"/>
<path d="M663.1,42.1 Q659.5,65.4 652.2,80.8 Q665.6,67.1 663.1,42.1 Z" fill="#ECE4DA" stroke="#4A3822" stroke-width="0.5" stroke-opacity="0.55"/>
<path d="M666.4,41.4 Q663.1,65.1 653.7,80.6 Q668.1,66.7 666.4,41.4 Z" fill="#C4A880" stroke="#4A3822" stroke-width="0.5" stroke-opacity="0.55"/>
<path d="M670.3,41.4 Q665.3,67.3 653.8,85.3 Q671.8,69.8 670.3,41.4 Z" fill="#E2D4BE" stroke="#4A3822" stroke-width="0.5" stroke-opacity="0.55"/>
<path d="M676.5,36.2 Q672.3,66.8 655.5,86.9 Q677.5,68.9 676.5,36.2 Z" fill="#C4A880" stroke="#4A3822" stroke-width="0.5" stroke-opacity="0.55"/>
<path d="M678.6,41.3 Q673.7,65.7 658.2,82.9 Q679.2,68.4 678.6,41.3 Z" fill="#E2D4BE" stroke="#4A3822" stroke-width="0.5" stroke-opacity="0.55"/>
<path d="M684.1,35.8 Q680.0,62.2 661.9,79.9 Q684.2,64.3 684.1,35.8 Z" fill="#ECE4DA" stroke="#4A3822" stroke-width="0.5" stroke-opacity="0.55"/>
<path d="M686.8,36.8 Q682.1,64.4 661.4,83.2 Q686.2,66.7 686.8,36.8 Z" fill="#C4A880" stroke="#4A3822" stroke-width="0.5" stroke-opacity="0.55"/>
<path d="M690.4,43.3 Q685.0,65.6 663.6,82.4 Q690.9,69.7 690.4,43.3 Z" fill="#E8DCC8" stroke="#4A3822" stroke-width="0.5" stroke-opacity="0.55"/>
<path d="M693.2,39.1 Q688.7,65.5 664.0,83.4 Q692.5,68.0 693.2,39.1 Z" fill="#E2D4BE" stroke="#4A3822" stroke-width="0.5" stroke-opacity="0.55"/>
</g>
<path d="M616.8,82.6 Q643.2,77.0 669.7,82.6 L669.7,84.5 L616.8,84.5 Z" fill="#30362E" opacity="0.8"/>
<path d="M608.5,63.4 Q614.1,82.2 632.8,85.4" fill="none" stroke="#2A3466" stroke-width="0.9" opacity="0.7"/>
<path d="M608.5,66.2 Q614.1,85.0 632.8,88.3" fill="none" stroke="#2A3466" stroke-width="0.9" opacity="0.7"/>
<path d="M608.5,69.0 Q614.1,87.8 632.8,91.1" fill="none" stroke="#2A3466" stroke-width="0.9" opacity="0.7"/>
<path d="M607.1,54.0 L610.6,51.1 Q643.2,28.6 675.9,51.1 L679.4,54.0" fill="none" stroke="#4E6AAE" stroke-width="1.9"/>
<path d="M675.9,51.1 Q678.0,74.2 658.5,84.5" fill="none" stroke="#4E6AAE" stroke-width="1.1" opacity="0.8"/>
<path d="M610.6,51.1 Q609.9,77.4 626.6,84.5" fill="none" stroke="#4E6AAE" stroke-width="1" opacity="0.5"/>
</g>
<rect x="609.1" y="37.9" width="68.3" height="46.2" fill="none" stroke="#171B2A" stroke-width="1.4"/>
<line x1="45" y1="84.5" x2="678" y2="84.5" stroke="#111" stroke-width="1.2"/>
<line x1="678.3" y1="84" x2="678.3" y2="300" stroke="#444" stroke-width="1.3"/>
<rect x="50" y="87.6" width="88" height="35.6" fill="#F2F2F2"/>
<line x1="60" y1="97.4" x2="76" y2="97.4" stroke="#FF0000" stroke-width="2.6" stroke-linecap="round"/>
<line x1="60" y1="113.8" x2="76" y2="113.8" stroke="#05A9EC" stroke-width="2.6" stroke-linecap="round"/>
<text x="80" y="101.3" font-family="Liberation Serif" font-weight="bold" font-size="11.85" fill="#606060">Dry-bulb</text>
<text x="80" y="117.6" font-family="Liberation Serif" font-weight="bold" font-size="11.85" fill="#606060">Wet-bulb</text>
<rect x="54.9" y="270.2" width="15.6" height="16.8" fill="#FBE5D6"/>
<text x="62.699999999999996" y="283.8" font-family="Liberation Serif" font-weight="bold" font-size="14.4" text-anchor="middle" fill="#000">01</text>
<rect x="110" y="270.2" width="15.6" height="16.8" fill="#FBE5D6"/>
<text x="117.8" y="283.8" font-family="Liberation Serif" font-weight="bold" font-size="14.4" text-anchor="middle" fill="#000">02</text>
<rect x="173.6" y="270.2" width="15.6" height="16.8" fill="#FBE5D6"/>
<text x="181.4" y="283.8" font-family="Liberation Serif" font-weight="bold" font-size="14.4" text-anchor="middle" fill="#000">03</text>
<rect x="232" y="270.2" width="15.6" height="16.8" fill="#FBE5D6"/>
<text x="239.8" y="283.8" font-family="Liberation Serif" font-weight="bold" font-size="14.4" text-anchor="middle" fill="#000">04</text>
<rect x="304.1" y="270.2" width="15.6" height="16.8" fill="#FBE5D6"/>
<text x="311.90000000000003" y="283.8" font-family="Liberation Serif" font-weight="bold" font-size="14.4" text-anchor="middle" fill="#000">05</text>
<rect x="378.8" y="270.2" width="15.6" height="16.8" fill="#FBE5D6"/>
<text x="386.6" y="283.8" font-family="Liberation Serif" font-weight="bold" font-size="14.4" text-anchor="middle" fill="#000">06</text>
<rect x="437.2" y="270.2" width="15.6" height="16.8" fill="#FBE5D6"/>
<text x="445.0" y="283.8" font-family="Liberation Serif" font-weight="bold" font-size="14.4" text-anchor="middle" fill="#000">07</text>
<rect x="490.4" y="270.2" width="15.6" height="16.8" fill="#FBE5D6"/>
<text x="498.2" y="283.8" font-family="Liberation Serif" font-weight="bold" font-size="14.4" text-anchor="middle" fill="#000">08</text>
<rect x="544.9" y="270.2" width="15.6" height="16.8" fill="#FBE5D6"/>
<text x="552.6999999999999" y="283.8" font-family="Liberation Serif" font-weight="bold" font-size="14.4" text-anchor="middle" fill="#000">09</text>
<rect x="624.3" y="270.2" width="15.6" height="16.8" fill="#FBE5D6"/>
<text x="632.0999999999999" y="283.8" font-family="Liberation Serif" font-weight="bold" font-size="14.4" text-anchor="middle" fill="#000">10</text>
<g clip-path="url(#plot)"><polyline points="44,238.4 63.9,231.5 80.8,231.5 101,224.4 156.1,224.4 177.2,220.8 424.3,220.8 454.5,217.2 467,217.2 486.5,213.6 530.5,213.6 557,210 576,210 611,206.4 678,206.4" fill="none" stroke="#05A9EC" stroke-width="3.8" stroke-linejoin="miter"/>
<polyline points="44,231.0 63.9,224.3 80.8,224.3 101,217.2 156.1,217.2 177.2,210 206.5,210 227.1,202.8 273.3,202.8 303,192.1 348.7,192.1 370,184.9 424.3,184.9 454.5,174.1 467,174.1 487.2,159.9 530.5,159.9 554.3,138.5 575.8,138.5 609,109.9 678,109.9" fill="none" stroke="#FF0000" stroke-width="3.8" stroke-linejoin="miter"/></g>
<line x1="156.3" y1="83.1" x2="156.3" y2="299.5" stroke="#000" stroke-width="1.5" stroke-dasharray="6 4.5"/>
<line x1="206.5" y1="83.1" x2="206.5" y2="299.5" stroke="#000" stroke-width="1.5" stroke-dasharray="6 4.5"/>
<line x1="348.7" y1="83.1" x2="348.7" y2="299.5" stroke="#000" stroke-width="1.5" stroke-dasharray="6 4.5"/>
<line x1="424.3" y1="83.1" x2="424.3" y2="299.5" stroke="#000" stroke-width="1.5" stroke-dasharray="6 4.5"/>
<line x1="530.5" y1="83.1" x2="530.5" y2="299.5" stroke="#000" stroke-width="1.5" stroke-dasharray="6 4.5"/>
<line x1="575.8" y1="83.1" x2="575.8" y2="299.5" stroke="#000" stroke-width="1.5" stroke-dasharray="6 4.5"/>
<line x1="81.3" y1="130.9" x2="81.3" y2="299.5" stroke="#000" stroke-width="1.5" stroke-dasharray="6 4.5"/>
<line x1="273.3" y1="84" x2="273.3" y2="300" stroke="#111" stroke-width="1.7"/>
<line x1="466.9" y1="84" x2="466.9" y2="300" stroke="#111" stroke-width="1.7"/>
<text x="72.1" y="221.2" font-family="Liberation Serif" font-weight="bold" font-size="12.2" text-anchor="middle" fill="#000">36</text>
<text x="71.9" y="245.3" font-family="Liberation Serif" font-weight="bold" font-size="12.2" text-anchor="middle" fill="#000">34</text>
<text x="129.6" y="212.0" font-family="Liberation Serif" font-weight="bold" font-size="12.2" text-anchor="middle" fill="#000">38</text>
<text x="129.8" y="238.6" font-family="Liberation Serif" font-weight="bold" font-size="12.2" text-anchor="middle" fill="#000">36</text>
<text x="193" y="205.6" font-family="Liberation Serif" font-weight="bold" font-size="12.2" text-anchor="middle" fill="#000">40</text>
<text x="193" y="234.2" font-family="Liberation Serif" font-weight="bold" font-size="12.2" text-anchor="middle" fill="#000">37</text>
<text x="251.5" y="198.6" font-family="Liberation Serif" font-weight="bold" font-size="12.2" text-anchor="middle" fill="#000">42</text>
<text x="251.5" y="234.2" font-family="Liberation Serif" font-weight="bold" font-size="12.2" text-anchor="middle" fill="#000">37</text>
<text x="327.5" y="187.9" font-family="Liberation Serif" font-weight="bold" font-size="12.2" text-anchor="middle" fill="#000">45</text>
<text x="327.5" y="234.6" font-family="Liberation Serif" font-weight="bold" font-size="12.2" text-anchor="middle" fill="#000">37</text>
<text x="398" y="181.0" font-family="Liberation Serif" font-weight="bold" font-size="12.2" text-anchor="middle" fill="#000">48</text>
<text x="398" y="234.6" font-family="Liberation Serif" font-weight="bold" font-size="12.2" text-anchor="middle" fill="#000">37</text>
<text x="460.4" y="169.6" font-family="Liberation Serif" font-weight="bold" font-size="12.2" text-anchor="middle" fill="#000">50</text>
<text x="460.4" y="230.6" font-family="Liberation Serif" font-weight="bold" font-size="12.2" text-anchor="middle" fill="#000">38</text>
<text x="510.6" y="153.8" font-family="Liberation Serif" font-weight="bold" font-size="12.2" text-anchor="middle" fill="#000">54</text>
<text x="511" y="227.9" font-family="Liberation Serif" font-weight="bold" font-size="12.2" text-anchor="middle" fill="#000">39</text>
<text x="567.4" y="133.3" font-family="Liberation Serif" font-weight="bold" font-size="12.2" text-anchor="middle" fill="#000">60</text>
<text x="567.3" y="223.6" font-family="Liberation Serif" font-weight="bold" font-size="12.2" text-anchor="middle" fill="#000">40</text>
<text x="647" y="104.6" font-family="Liberation Serif" font-weight="bold" font-size="12.2" text-anchor="middle" fill="#000">68</text>
<text x="646.4" y="221.4" font-family="Liberation Serif" font-weight="bold" font-size="12.2" text-anchor="middle" fill="#000">41</text>
<path d="M45,84 V299.8 H678.3" fill="none" stroke="#4A4A4A" stroke-width="1.5"/>
<line x1="45" y1="281.60" x2="48.9" y2="281.60" stroke="#4A4A4A" stroke-width="1.3"/>
<line x1="45" y1="263.70" x2="48.9" y2="263.70" stroke="#4A4A4A" stroke-width="1.3"/>
<line x1="45" y1="245.80" x2="48.9" y2="245.80" stroke="#4A4A4A" stroke-width="1.3"/>
<line x1="45" y1="227.90" x2="48.9" y2="227.90" stroke="#4A4A4A" stroke-width="1.3"/>
<line x1="45" y1="210.00" x2="48.9" y2="210.00" stroke="#4A4A4A" stroke-width="1.3"/>
<line x1="45" y1="192.10" x2="48.9" y2="192.10" stroke="#4A4A4A" stroke-width="1.3"/>
<line x1="45" y1="174.20" x2="48.9" y2="174.20" stroke="#4A4A4A" stroke-width="1.3"/>
<line x1="45" y1="156.30" x2="48.9" y2="156.30" stroke="#4A4A4A" stroke-width="1.3"/>
<line x1="45" y1="138.40" x2="48.9" y2="138.40" stroke="#4A4A4A" stroke-width="1.3"/>
<line x1="45" y1="120.50" x2="48.9" y2="120.50" stroke="#4A4A4A" stroke-width="1.3"/>
<line x1="45" y1="102.60" x2="48.9" y2="102.60" stroke="#4A4A4A" stroke-width="1.3"/>
<line x1="45" y1="84.70" x2="48.9" y2="84.70" stroke="#4A4A4A" stroke-width="1.3"/>
<text x="38.3" y="303.20" font-family="Liberation Serif" font-weight="bold" font-size="10.9" text-anchor="end" fill="#595959">15</text>
<text x="38.3" y="285.30" font-family="Liberation Serif" font-weight="bold" font-size="10.9" text-anchor="end" fill="#595959">20</text>
<text x="38.3" y="267.40" font-family="Liberation Serif" font-weight="bold" font-size="10.9" text-anchor="end" fill="#595959">25</text>
<text x="38.3" y="249.50" font-family="Liberation Serif" font-weight="bold" font-size="10.9" text-anchor="end" fill="#595959">30</text>
<text x="38.3" y="231.60" font-family="Liberation Serif" font-weight="bold" font-size="10.9" text-anchor="end" fill="#595959">35</text>
<text x="38.3" y="213.70" font-family="Liberation Serif" font-weight="bold" font-size="10.9" text-anchor="end" fill="#595959">40</text>
<text x="38.3" y="195.80" font-family="Liberation Serif" font-weight="bold" font-size="10.9" text-anchor="end" fill="#595959">45</text>
<text x="38.3" y="177.90" font-family="Liberation Serif" font-weight="bold" font-size="10.9" text-anchor="end" fill="#595959">50</text>
<text x="38.3" y="160.00" font-family="Liberation Serif" font-weight="bold" font-size="10.9" text-anchor="end" fill="#595959">55</text>
<text x="38.3" y="142.10" font-family="Liberation Serif" font-weight="bold" font-size="10.9" text-anchor="end" fill="#595959">60</text>
<text x="38.3" y="124.20" font-family="Liberation Serif" font-weight="bold" font-size="10.9" text-anchor="end" fill="#595959">65</text>
<text x="38.3" y="106.30" font-family="Liberation Serif" font-weight="bold" font-size="10.9" text-anchor="end" fill="#595959">70</text>
<text x="38.3" y="88.40" font-family="Liberation Serif" font-weight="bold" font-size="10.9" text-anchor="end" fill="#595959">75</text>
<line x1="65.48" y1="299.5" x2="65.48" y2="297.4" stroke="#4A4A4A" stroke-width="1.2"/>
<line x1="86.47" y1="299.5" x2="86.47" y2="296.2" stroke="#4A4A4A" stroke-width="1.2"/>
<line x1="107.45" y1="299.5" x2="107.45" y2="297.4" stroke="#4A4A4A" stroke-width="1.2"/>
<line x1="128.44" y1="299.5" x2="128.44" y2="296.2" stroke="#4A4A4A" stroke-width="1.2"/>
<line x1="149.43" y1="299.5" x2="149.43" y2="297.4" stroke="#4A4A4A" stroke-width="1.2"/>
<line x1="170.41" y1="299.5" x2="170.41" y2="296.2" stroke="#4A4A4A" stroke-width="1.2"/>
<line x1="191.40" y1="299.5" x2="191.40" y2="297.4" stroke="#4A4A4A" stroke-width="1.2"/>
<line x1="212.38" y1="299.5" x2="212.38" y2="296.2" stroke="#4A4A4A" stroke-width="1.2"/>
<line x1="233.37" y1="299.5" x2="233.37" y2="297.4" stroke="#4A4A4A" stroke-width="1.2"/>
<line x1="254.35" y1="299.5" x2="254.35" y2="296.2" stroke="#4A4A4A" stroke-width="1.2"/>
<line x1="275.34" y1="299.5" x2="275.34" y2="297.4" stroke="#4A4A4A" stroke-width="1.2"/>
<line x1="296.32" y1="299.5" x2="296.32" y2="296.2" stroke="#4A4A4A" stroke-width="1.2"/>
<line x1="317.31" y1="299.5" x2="317.31" y2="297.4" stroke="#4A4A4A" stroke-width="1.2"/>
<line x1="338.29" y1="299.5" x2="338.29" y2="296.2" stroke="#4A4A4A" stroke-width="1.2"/>
<line x1="359.27" y1="299.5" x2="359.27" y2="297.4" stroke="#4A4A4A" stroke-width="1.2"/>
<line x1="380.26" y1="299.5" x2="380.26" y2="296.2" stroke="#4A4A4A" stroke-width="1.2"/>
<line x1="401.25" y1="299.5" x2="401.25" y2="297.4" stroke="#4A4A4A" stroke-width="1.2"/>
<line x1="422.23" y1="299.5" x2="422.23" y2="296.2" stroke="#4A4A4A" stroke-width="1.2"/>
<line x1="443.22" y1="299.5" x2="443.22" y2="297.4" stroke="#4A4A4A" stroke-width="1.2"/>
<line x1="464.20" y1="299.5" x2="464.20" y2="296.2" stroke="#4A4A4A" stroke-width="1.2"/>
<line x1="485.19" y1="299.5" x2="485.19" y2="297.4" stroke="#4A4A4A" stroke-width="1.2"/>
<line x1="506.17" y1="299.5" x2="506.17" y2="296.2" stroke="#4A4A4A" stroke-width="1.2"/>
<line x1="527.15" y1="299.5" x2="527.15" y2="297.4" stroke="#4A4A4A" stroke-width="1.2"/>
<line x1="548.14" y1="299.5" x2="548.14" y2="296.2" stroke="#4A4A4A" stroke-width="1.2"/>
<line x1="569.12" y1="299.5" x2="569.12" y2="297.4" stroke="#4A4A4A" stroke-width="1.2"/>
<line x1="590.11" y1="299.5" x2="590.11" y2="296.2" stroke="#4A4A4A" stroke-width="1.2"/>
<line x1="611.10" y1="299.5" x2="611.10" y2="297.4" stroke="#4A4A4A" stroke-width="1.2"/>
<line x1="632.08" y1="299.5" x2="632.08" y2="296.2" stroke="#4A4A4A" stroke-width="1.2"/>
<line x1="653.07" y1="299.5" x2="653.07" y2="297.4" stroke="#4A4A4A" stroke-width="1.2"/>
<line x1="674.05" y1="299.5" x2="674.05" y2="296.2" stroke="#4A4A4A" stroke-width="1.2"/>
<text x="46.60" y="317.1" font-family="Liberation Serif" font-weight="bold" font-size="10.9" text-anchor="middle" fill="#595959">0</text>
<text x="88.57" y="317.1" font-family="Liberation Serif" font-weight="bold" font-size="10.9" text-anchor="middle" fill="#595959">10</text>
<text x="130.54" y="317.1" font-family="Liberation Serif" font-weight="bold" font-size="10.9" text-anchor="middle" fill="#595959">20</text>
<text x="172.51" y="317.1" font-family="Liberation Serif" font-weight="bold" font-size="10.9" text-anchor="middle" fill="#595959">30</text>
<text x="214.48" y="317.1" font-family="Liberation Serif" font-weight="bold" font-size="10.9" text-anchor="middle" fill="#595959">40</text>
<text x="256.45" y="317.1" font-family="Liberation Serif" font-weight="bold" font-size="10.9" text-anchor="middle" fill="#595959">50</text>
<text x="298.42" y="317.1" font-family="Liberation Serif" font-weight="bold" font-size="10.9" text-anchor="middle" fill="#595959">60</text>
<text x="340.39" y="317.1" font-family="Liberation Serif" font-weight="bold" font-size="10.9" text-anchor="middle" fill="#595959">70</text>
<text x="382.36" y="317.1" font-family="Liberation Serif" font-weight="bold" font-size="10.9" text-anchor="middle" fill="#595959">80</text>
<text x="424.33" y="317.1" font-family="Liberation Serif" font-weight="bold" font-size="10.9" text-anchor="middle" fill="#595959">90</text>
<text x="466.30" y="317.1" font-family="Liberation Serif" font-weight="bold" font-size="10.9" text-anchor="middle" fill="#595959">100</text>
<text x="508.27" y="317.1" font-family="Liberation Serif" font-weight="bold" font-size="10.9" text-anchor="middle" fill="#595959">110</text>
<text x="550.24" y="317.1" font-family="Liberation Serif" font-weight="bold" font-size="10.9" text-anchor="middle" fill="#595959">120</text>
<text x="592.21" y="317.1" font-family="Liberation Serif" font-weight="bold" font-size="10.9" text-anchor="middle" fill="#595959">130</text>
<text x="634.18" y="317.1" font-family="Liberation Serif" font-weight="bold" font-size="10.9" text-anchor="middle" fill="#595959">140</text>
<text x="676.15" y="317.1" font-family="Liberation Serif" font-weight="bold" font-size="10.9" text-anchor="middle" fill="#595959">150</text>
<text x="347.9" y="333.9" font-family="Liberation Serif" font-weight="bold" font-size="13.4" text-anchor="middle" fill="#000">Curing Time/h</text>
<text transform="translate(11.2,167.2) rotate(-90)" x="0" y="0" font-family="Liberation Serif" font-weight="bold" font-size="13.3" text-anchor="middle" fill="#000">Dry/Wet - bulb temperature/°C</text></svg>
</body></html>
